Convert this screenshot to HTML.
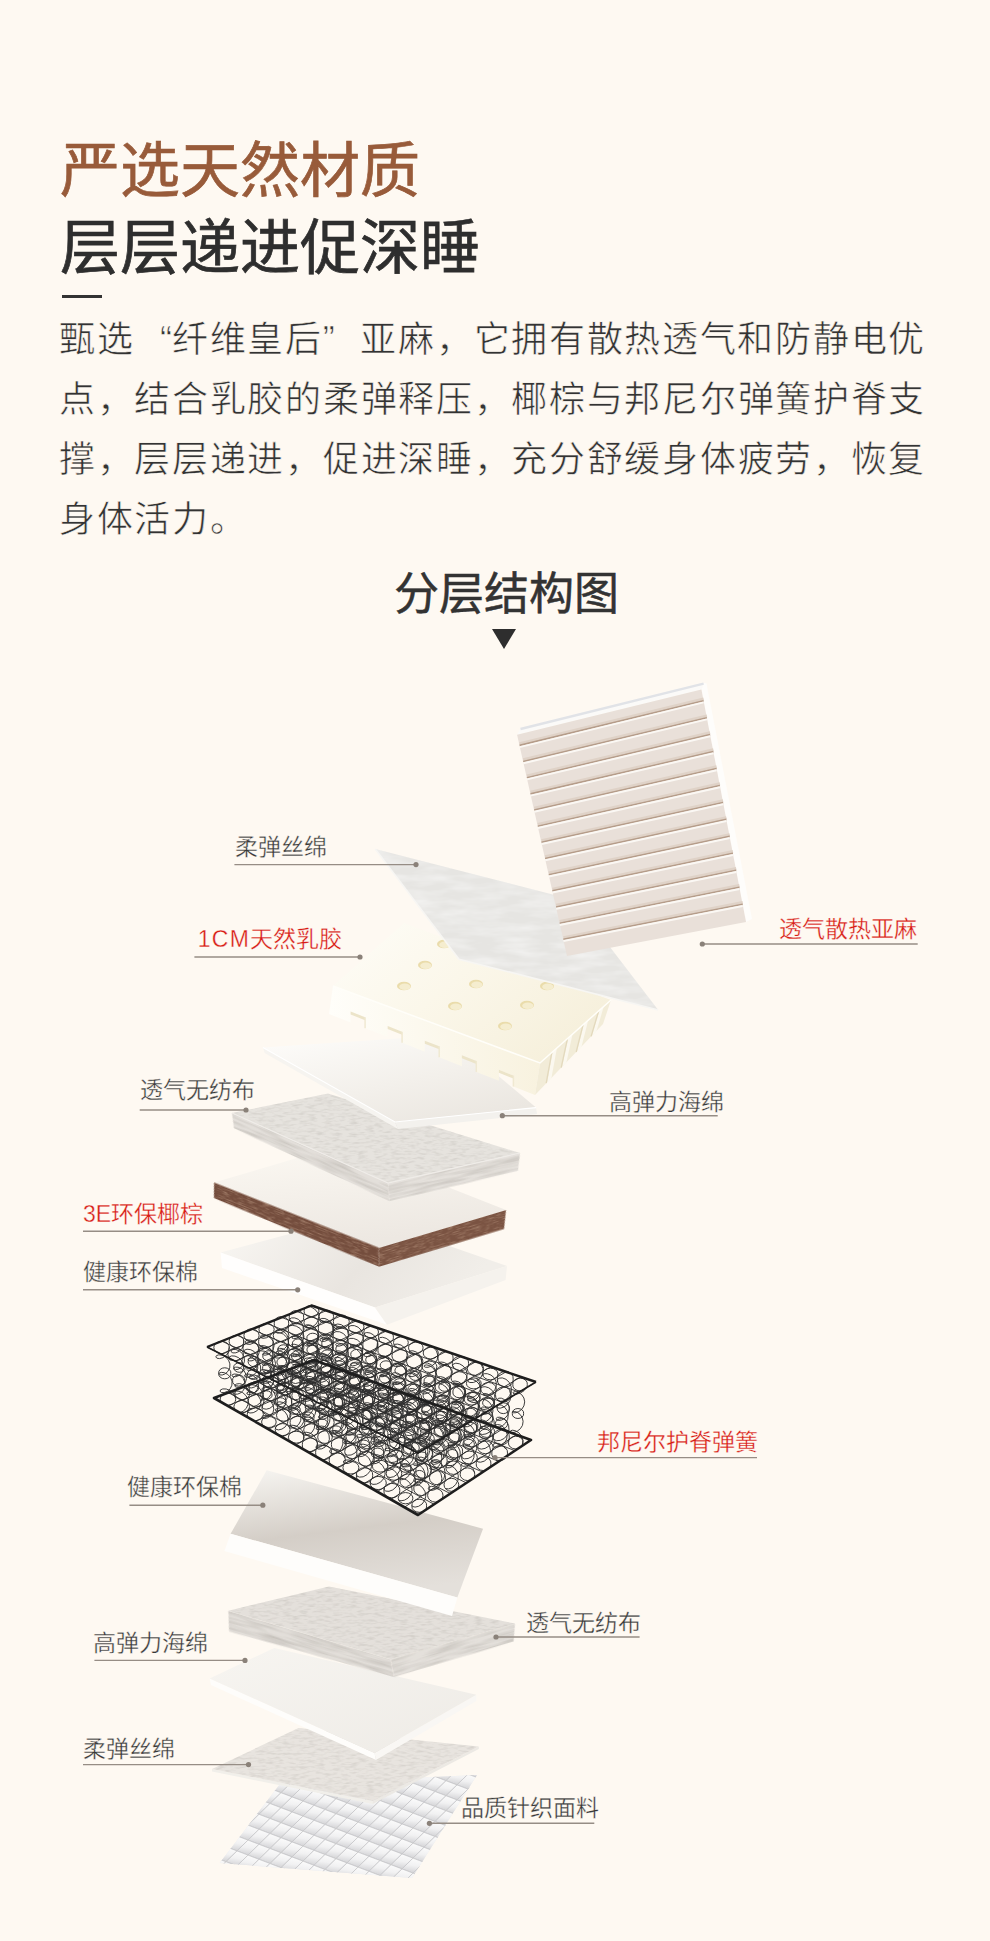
<!DOCTYPE html>
<html lang="zh-CN"><head><meta charset="utf-8">
<style>
html,body{margin:0;padding:0;}
body{width:990px;height:1941px;overflow:hidden;background:#fef9f2;font-family:"Liberation Sans",sans-serif;position:relative;}
.t{position:absolute;white-space:nowrap;line-height:1;}
#h1{left:60px;top:142px;font-size:60px;color:#985b3a;-webkit-text-stroke:0.7px #985b3a;}
#h2{left:60px;top:219px;font-size:60px;color:#2e2e2e;-webkit-text-stroke:0.7px #2e2e2e;}
#dash{position:absolute;left:62px;top:295px;width:40px;height:3px;background:#333;}
.pl{position:absolute;left:59px;font-size:36px;line-height:1;color:#333;letter-spacing:1.7px;white-space:nowrap;-webkit-text-stroke:0.6px #fef9f2;}
.ql{display:inline-block;width:37.6px;text-align:right;letter-spacing:0;}
.qr{display:inline-block;width:37.6px;text-align:left;letter-spacing:0;}
#sub{left:394px;top:572px;font-size:45px;color:#333;-webkit-text-stroke:0.5px #333;}
#tri{position:absolute;left:492px;top:629px;width:0;height:0;border-left:12px solid transparent;border-right:12px solid transparent;border-top:20px solid #2e2e2e;}
.lb{position:absolute;white-space:nowrap;line-height:1;font-size:23px;color:#383838;-webkit-text-stroke:0.35px #fef9f2;}
.red{color:#d81c15;-webkit-text-stroke:0.3px #fef9f2;}
</style></head><body>
<div class="t" id="h1">严选天然材质</div>
<div class="t" id="h2">层层递进促深睡</div>
<div id="dash"></div>
<div class="pl" style="top:322px">甄选<span class="ql">“</span>纤维皇后<span class="qr">”</span>亚麻，它拥有散热透气和防静电优</div>
<div class="pl" style="top:382px">点，结合乳胶的柔弹释压，椰棕与邦尼尔弹簧护脊支</div>
<div class="pl" style="top:442px">撑，层层递进，促进深睡，充分舒缓身体疲劳，恢复</div>
<div class="pl" style="top:502px">身体活力。</div>
<div class="t" id="sub">分层结构图</div>
<div id="tri"></div>
<svg id="dg" width="990" height="1941" viewBox="0 0 990 1941" style="position:absolute;left:0;top:0"><defs><filter id="tx1" x="0%" y="0%" width="100%" height="100%" color-interpolation-filters="sRGB"><feTurbulence type="fractalNoise" baseFrequency="0.04 0.3" numOctaves="3" seed="3" result="n"/><feColorMatrix in="n" type="matrix" values="0 0 0 0 0.55  0 0 0 0 0.53  0 0 0 0 0.5  0.6 0 0 0 -0.25" result="a"/><feComposite in="a" in2="SourceGraphic" operator="in" result="d"/><feMerge><feMergeNode in="SourceGraphic"/><feMergeNode in="d"/></feMerge></filter>
<filter id="tx2" x="0%" y="0%" width="100%" height="100%" color-interpolation-filters="sRGB"><feTurbulence type="fractalNoise" baseFrequency="0.5 0.9" numOctaves="2" seed="5" result="n"/><feColorMatrix in="n" type="matrix" values="0 0 0 0 0.95  0 0 0 0 0.85  0 0 0 0 0.75  0.9 0 0 0 -0.4" result="a"/><feComposite in="a" in2="SourceGraphic" operator="in" result="d"/><feMerge><feMergeNode in="SourceGraphic"/><feMergeNode in="d"/></feMerge></filter>
<filter id="tx3" x="0%" y="0%" width="100%" height="100%" color-interpolation-filters="sRGB"><feTurbulence type="fractalNoise" baseFrequency="0.03 0.12" numOctaves="3" seed="8" result="n"/><feColorMatrix in="n" type="matrix" values="0 0 0 0 1  0 0 0 0 1  0 0 0 0 1  0.8 0 0 0 -0.25" result="a"/><feComposite in="a" in2="SourceGraphic" operator="in" result="d"/><feMerge><feMergeNode in="SourceGraphic"/><feMergeNode in="d"/></feMerge></filter>
<filter id="tx5" x="0%" y="0%" width="100%" height="100%" color-interpolation-filters="sRGB"><feTurbulence type="fractalNoise" baseFrequency="0.12 0.9" numOctaves="2" seed="11" result="n"/><feColorMatrix in="n" type="matrix" values="0 0 0 0 0.85  0 0 0 0 0.72  0 0 0 0 0.62  1.1 0 0 0 -0.5" result="a"/><feComposite in="a" in2="SourceGraphic" operator="in" result="d"/><feMerge><feMergeNode in="SourceGraphic"/><feMergeNode in="d"/></feMerge></filter>
<filter id="tx6" x="0%" y="0%" width="100%" height="100%" color-interpolation-filters="sRGB"><feTurbulence type="fractalNoise" baseFrequency="0.03 0.35" numOctaves="2" seed="12" result="n"/><feColorMatrix in="n" type="matrix" values="0 0 0 0 0.6  0 0 0 0 0.58  0 0 0 0 0.55  0.7 0 0 0 -0.25" result="a"/><feComposite in="a" in2="SourceGraphic" operator="in" result="d"/><feMerge><feMergeNode in="SourceGraphic"/><feMergeNode in="d"/></feMerge></filter>
<filter id="tx4" x="0%" y="0%" width="100%" height="100%" color-interpolation-filters="sRGB"><feTurbulence type="fractalNoise" baseFrequency="0.12 0.45" numOctaves="2" seed="9" result="n"/><feColorMatrix in="n" type="matrix" values="0 0 0 0 0.55  0 0 0 0 0.53  0 0 0 0 0.5  0.45 0 0 0 -0.2" result="a"/><feComposite in="a" in2="SourceGraphic" operator="in" result="d"/><feMerge><feMergeNode in="SourceGraphic"/><feMergeNode in="d"/></feMerge></filter>
<clipPath id="kclip"><polygon points="280.0,1784.0 477.0,1775.0 412.0,1878.0 219.7,1863.0"/></clipPath>
<linearGradient id="gkn" x1="0" y1="0" x2="0" y2="1"><stop offset="0" stop-color="#fafafa"/><stop offset="0.55" stop-color="#e9e9ea"/><stop offset="1" stop-color="#d6d6d8"/></linearGradient>
<linearGradient id="gkd" x1="0.6" y1="0" x2="0.4" y2="1"><stop offset="0" stop-color="#fcfcfc"/><stop offset="0.5" stop-color="#f1f1f2"/><stop offset="1" stop-color="#d2d2d5"/></linearGradient>
<linearGradient id="gsp2" x1="0" y1="0" x2="1" y2="1"><stop offset="0" stop-color="#f7f5f1"/><stop offset="1" stop-color="#eeebe6"/></linearGradient>
<linearGradient id="gc2" x1="0.2" y1="0" x2="0.45" y2="1"><stop offset="0" stop-color="#f4f2ee"/><stop offset="0.5" stop-color="#d4cec7"/><stop offset="1" stop-color="#e4e0db"/></linearGradient>
<linearGradient id="gc1" x1="0" y1="0" x2="1" y2="0.3"><stop offset="0" stop-color="#faf8f4"/><stop offset="0.6" stop-color="#e9e5e0"/><stop offset="1" stop-color="#f1eee9"/></linearGradient>
<linearGradient id="gco" x1="0" y1="0" x2="0.3" y2="1"><stop offset="0" stop-color="#fcf9f3"/><stop offset="1" stop-color="#ede8e2"/></linearGradient>
<linearGradient id="gw1" x1="0" y1="0" x2="0.7" y2="1"><stop offset="0" stop-color="#fefdfb"/><stop offset="0.6" stop-color="#f3f0eb"/><stop offset="1" stop-color="#ebe7e1"/></linearGradient>
<linearGradient id="glx" x1="0" y1="0" x2="1" y2="0.6"><stop offset="0" stop-color="#fefdf8"/><stop offset="0.5" stop-color="#fbf7ea"/><stop offset="1" stop-color="#f6f0dc"/></linearGradient>
<linearGradient id="glxf" x1="0" y1="0" x2="1" y2="0"><stop offset="0" stop-color="#fffefa"/><stop offset="1" stop-color="#f8f2df"/></linearGradient></defs><polygon points="280.0,1784.0 477.0,1775.0 412.0,1878.0 219.7,1863.0" fill="#ececed"/>
<g clip-path="url(#kclip)"><polygon points="149.0,1772.3 160.0,1776.5 149.0,1787.3 138.0,1783.1" fill="url(#gkd)" stroke="#c6c6c9" stroke-width="0.8"/><polygon points="171.0,1765.7 182.0,1769.9 171.0,1780.7 160.0,1776.5" fill="url(#gkd)" stroke="#c6c6c9" stroke-width="0.8"/><polygon points="193.0,1759.1 204.0,1763.3 193.0,1774.1 182.0,1769.9" fill="url(#gkd)" stroke="#c6c6c9" stroke-width="0.8"/><polygon points="215.0,1752.5 226.0,1756.7 215.0,1767.5 204.0,1763.3" fill="url(#gkd)" stroke="#c6c6c9" stroke-width="0.8"/><polygon points="237.0,1745.9 248.0,1750.1 237.0,1760.9 226.0,1756.7" fill="url(#gkd)" stroke="#c6c6c9" stroke-width="0.8"/><polygon points="259.0,1739.3 270.0,1743.5 259.0,1754.3 248.0,1750.1" fill="url(#gkd)" stroke="#c6c6c9" stroke-width="0.8"/><polygon points="281.0,1732.7 292.0,1736.9 281.0,1747.7 270.0,1743.5" fill="url(#gkd)" stroke="#c6c6c9" stroke-width="0.8"/><polygon points="303.0,1726.1 314.0,1730.3 303.0,1741.1 292.0,1736.9" fill="url(#gkd)" stroke="#c6c6c9" stroke-width="0.8"/><polygon points="325.0,1719.5 336.0,1723.7 325.0,1734.5 314.0,1730.3" fill="url(#gkd)" stroke="#c6c6c9" stroke-width="0.8"/><polygon points="347.0,1712.9 358.0,1717.1 347.0,1727.9 336.0,1723.7" fill="url(#gkd)" stroke="#c6c6c9" stroke-width="0.8"/><polygon points="369.0,1706.3 380.0,1710.5 369.0,1721.3 358.0,1717.1" fill="url(#gkd)" stroke="#c6c6c9" stroke-width="0.8"/><polygon points="391.0,1699.7 402.0,1703.9 391.0,1714.7 380.0,1710.5" fill="url(#gkd)" stroke="#c6c6c9" stroke-width="0.8"/><polygon points="413.0,1693.1 424.0,1697.3 413.0,1708.1 402.0,1703.9" fill="url(#gkd)" stroke="#c6c6c9" stroke-width="0.8"/><polygon points="435.0,1686.5 446.0,1690.7 435.0,1701.5 424.0,1697.3" fill="url(#gkd)" stroke="#c6c6c9" stroke-width="0.8"/><polygon points="457.0,1679.9 468.0,1684.1 457.0,1694.9 446.0,1690.7" fill="url(#gkd)" stroke="#c6c6c9" stroke-width="0.8"/><polygon points="479.0,1673.3 490.0,1677.5 479.0,1688.3 468.0,1684.1" fill="url(#gkd)" stroke="#c6c6c9" stroke-width="0.8"/><polygon points="501.0,1666.7 512.0,1670.9 501.0,1681.7 490.0,1677.5" fill="url(#gkd)" stroke="#c6c6c9" stroke-width="0.8"/><polygon points="523.0,1660.1 534.0,1664.3 523.0,1675.1 512.0,1670.9" fill="url(#gkd)" stroke="#c6c6c9" stroke-width="0.8"/><polygon points="545.0,1653.5 556.0,1657.7 545.0,1668.5 534.0,1664.3" fill="url(#gkd)" stroke="#c6c6c9" stroke-width="0.8"/><polygon points="160.0,1776.5 171.0,1780.7 160.0,1791.5 149.0,1787.3" fill="url(#gkd)" stroke="#c6c6c9" stroke-width="0.8"/><polygon points="182.0,1769.9 193.0,1774.1 182.0,1784.9 171.0,1780.7" fill="url(#gkd)" stroke="#c6c6c9" stroke-width="0.8"/><polygon points="204.0,1763.3 215.0,1767.5 204.0,1778.3 193.0,1774.1" fill="url(#gkd)" stroke="#c6c6c9" stroke-width="0.8"/><polygon points="226.0,1756.7 237.0,1760.9 226.0,1771.7 215.0,1767.5" fill="url(#gkd)" stroke="#c6c6c9" stroke-width="0.8"/><polygon points="248.0,1750.1 259.0,1754.3 248.0,1765.1 237.0,1760.9" fill="url(#gkd)" stroke="#c6c6c9" stroke-width="0.8"/><polygon points="270.0,1743.5 281.0,1747.7 270.0,1758.5 259.0,1754.3" fill="url(#gkd)" stroke="#c6c6c9" stroke-width="0.8"/><polygon points="292.0,1736.9 303.0,1741.1 292.0,1751.9 281.0,1747.7" fill="url(#gkd)" stroke="#c6c6c9" stroke-width="0.8"/><polygon points="314.0,1730.3 325.0,1734.5 314.0,1745.3 303.0,1741.1" fill="url(#gkd)" stroke="#c6c6c9" stroke-width="0.8"/><polygon points="336.0,1723.7 347.0,1727.9 336.0,1738.7 325.0,1734.5" fill="url(#gkd)" stroke="#c6c6c9" stroke-width="0.8"/><polygon points="358.0,1717.1 369.0,1721.3 358.0,1732.1 347.0,1727.9" fill="url(#gkd)" stroke="#c6c6c9" stroke-width="0.8"/><polygon points="380.0,1710.5 391.0,1714.7 380.0,1725.5 369.0,1721.3" fill="url(#gkd)" stroke="#c6c6c9" stroke-width="0.8"/><polygon points="402.0,1703.9 413.0,1708.1 402.0,1718.9 391.0,1714.7" fill="url(#gkd)" stroke="#c6c6c9" stroke-width="0.8"/><polygon points="424.0,1697.3 435.0,1701.5 424.0,1712.3 413.0,1708.1" fill="url(#gkd)" stroke="#c6c6c9" stroke-width="0.8"/><polygon points="446.0,1690.7 457.0,1694.9 446.0,1705.7 435.0,1701.5" fill="url(#gkd)" stroke="#c6c6c9" stroke-width="0.8"/><polygon points="468.0,1684.1 479.0,1688.3 468.0,1699.1 457.0,1694.9" fill="url(#gkd)" stroke="#c6c6c9" stroke-width="0.8"/><polygon points="490.0,1677.5 501.0,1681.7 490.0,1692.5 479.0,1688.3" fill="url(#gkd)" stroke="#c6c6c9" stroke-width="0.8"/><polygon points="512.0,1670.9 523.0,1675.1 512.0,1685.9 501.0,1681.7" fill="url(#gkd)" stroke="#c6c6c9" stroke-width="0.8"/><polygon points="534.0,1664.3 545.0,1668.5 534.0,1679.3 523.0,1675.1" fill="url(#gkd)" stroke="#c6c6c9" stroke-width="0.8"/><polygon points="556.0,1657.7 567.0,1661.9 556.0,1672.7 545.0,1668.5" fill="url(#gkd)" stroke="#c6c6c9" stroke-width="0.8"/><polygon points="149.0,1787.3 160.0,1791.5 149.0,1802.3 138.0,1798.1" fill="url(#gkd)" stroke="#c6c6c9" stroke-width="0.8"/><polygon points="171.0,1780.7 182.0,1784.9 171.0,1795.7 160.0,1791.5" fill="url(#gkd)" stroke="#c6c6c9" stroke-width="0.8"/><polygon points="193.0,1774.1 204.0,1778.3 193.0,1789.1 182.0,1784.9" fill="url(#gkd)" stroke="#c6c6c9" stroke-width="0.8"/><polygon points="215.0,1767.5 226.0,1771.7 215.0,1782.5 204.0,1778.3" fill="url(#gkd)" stroke="#c6c6c9" stroke-width="0.8"/><polygon points="237.0,1760.9 248.0,1765.1 237.0,1775.9 226.0,1771.7" fill="url(#gkd)" stroke="#c6c6c9" stroke-width="0.8"/><polygon points="259.0,1754.3 270.0,1758.5 259.0,1769.3 248.0,1765.1" fill="url(#gkd)" stroke="#c6c6c9" stroke-width="0.8"/><polygon points="281.0,1747.7 292.0,1751.9 281.0,1762.7 270.0,1758.5" fill="url(#gkd)" stroke="#c6c6c9" stroke-width="0.8"/><polygon points="303.0,1741.1 314.0,1745.3 303.0,1756.1 292.0,1751.9" fill="url(#gkd)" stroke="#c6c6c9" stroke-width="0.8"/><polygon points="325.0,1734.5 336.0,1738.7 325.0,1749.5 314.0,1745.3" fill="url(#gkd)" stroke="#c6c6c9" stroke-width="0.8"/><polygon points="347.0,1727.9 358.0,1732.1 347.0,1742.9 336.0,1738.7" fill="url(#gkd)" stroke="#c6c6c9" stroke-width="0.8"/><polygon points="369.0,1721.3 380.0,1725.5 369.0,1736.3 358.0,1732.1" fill="url(#gkd)" stroke="#c6c6c9" stroke-width="0.8"/><polygon points="391.0,1714.7 402.0,1718.9 391.0,1729.7 380.0,1725.5" fill="url(#gkd)" stroke="#c6c6c9" stroke-width="0.8"/><polygon points="413.0,1708.1 424.0,1712.3 413.0,1723.1 402.0,1718.9" fill="url(#gkd)" stroke="#c6c6c9" stroke-width="0.8"/><polygon points="435.0,1701.5 446.0,1705.7 435.0,1716.5 424.0,1712.3" fill="url(#gkd)" stroke="#c6c6c9" stroke-width="0.8"/><polygon points="457.0,1694.9 468.0,1699.1 457.0,1709.9 446.0,1705.7" fill="url(#gkd)" stroke="#c6c6c9" stroke-width="0.8"/><polygon points="479.0,1688.3 490.0,1692.5 479.0,1703.3 468.0,1699.1" fill="url(#gkd)" stroke="#c6c6c9" stroke-width="0.8"/><polygon points="501.0,1681.7 512.0,1685.9 501.0,1696.7 490.0,1692.5" fill="url(#gkd)" stroke="#c6c6c9" stroke-width="0.8"/><polygon points="523.0,1675.1 534.0,1679.3 523.0,1690.1 512.0,1685.9" fill="url(#gkd)" stroke="#c6c6c9" stroke-width="0.8"/><polygon points="545.0,1668.5 556.0,1672.7 545.0,1683.5 534.0,1679.3" fill="url(#gkd)" stroke="#c6c6c9" stroke-width="0.8"/><polygon points="160.0,1791.5 171.0,1795.7 160.0,1806.5 149.0,1802.3" fill="url(#gkd)" stroke="#c6c6c9" stroke-width="0.8"/><polygon points="182.0,1784.9 193.0,1789.1 182.0,1799.9 171.0,1795.7" fill="url(#gkd)" stroke="#c6c6c9" stroke-width="0.8"/><polygon points="204.0,1778.3 215.0,1782.5 204.0,1793.3 193.0,1789.1" fill="url(#gkd)" stroke="#c6c6c9" stroke-width="0.8"/><polygon points="226.0,1771.7 237.0,1775.9 226.0,1786.7 215.0,1782.5" fill="url(#gkd)" stroke="#c6c6c9" stroke-width="0.8"/><polygon points="248.0,1765.1 259.0,1769.3 248.0,1780.1 237.0,1775.9" fill="url(#gkd)" stroke="#c6c6c9" stroke-width="0.8"/><polygon points="270.0,1758.5 281.0,1762.7 270.0,1773.5 259.0,1769.3" fill="url(#gkd)" stroke="#c6c6c9" stroke-width="0.8"/><polygon points="292.0,1751.9 303.0,1756.1 292.0,1766.9 281.0,1762.7" fill="url(#gkd)" stroke="#c6c6c9" stroke-width="0.8"/><polygon points="314.0,1745.3 325.0,1749.5 314.0,1760.3 303.0,1756.1" fill="url(#gkd)" stroke="#c6c6c9" stroke-width="0.8"/><polygon points="336.0,1738.7 347.0,1742.9 336.0,1753.7 325.0,1749.5" fill="url(#gkd)" stroke="#c6c6c9" stroke-width="0.8"/><polygon points="358.0,1732.1 369.0,1736.3 358.0,1747.1 347.0,1742.9" fill="url(#gkd)" stroke="#c6c6c9" stroke-width="0.8"/><polygon points="380.0,1725.5 391.0,1729.7 380.0,1740.5 369.0,1736.3" fill="url(#gkd)" stroke="#c6c6c9" stroke-width="0.8"/><polygon points="402.0,1718.9 413.0,1723.1 402.0,1733.9 391.0,1729.7" fill="url(#gkd)" stroke="#c6c6c9" stroke-width="0.8"/><polygon points="424.0,1712.3 435.0,1716.5 424.0,1727.3 413.0,1723.1" fill="url(#gkd)" stroke="#c6c6c9" stroke-width="0.8"/><polygon points="446.0,1705.7 457.0,1709.9 446.0,1720.7 435.0,1716.5" fill="url(#gkd)" stroke="#c6c6c9" stroke-width="0.8"/><polygon points="468.0,1699.1 479.0,1703.3 468.0,1714.1 457.0,1709.9" fill="url(#gkd)" stroke="#c6c6c9" stroke-width="0.8"/><polygon points="490.0,1692.5 501.0,1696.7 490.0,1707.5 479.0,1703.3" fill="url(#gkd)" stroke="#c6c6c9" stroke-width="0.8"/><polygon points="512.0,1685.9 523.0,1690.1 512.0,1700.9 501.0,1696.7" fill="url(#gkd)" stroke="#c6c6c9" stroke-width="0.8"/><polygon points="534.0,1679.3 545.0,1683.5 534.0,1694.3 523.0,1690.1" fill="url(#gkd)" stroke="#c6c6c9" stroke-width="0.8"/><polygon points="556.0,1672.7 567.0,1676.9 556.0,1687.7 545.0,1683.5" fill="url(#gkd)" stroke="#c6c6c9" stroke-width="0.8"/><polygon points="149.0,1802.3 160.0,1806.5 149.0,1817.3 138.0,1813.1" fill="url(#gkd)" stroke="#c6c6c9" stroke-width="0.8"/><polygon points="171.0,1795.7 182.0,1799.9 171.0,1810.7 160.0,1806.5" fill="url(#gkd)" stroke="#c6c6c9" stroke-width="0.8"/><polygon points="193.0,1789.1 204.0,1793.3 193.0,1804.1 182.0,1799.9" fill="url(#gkd)" stroke="#c6c6c9" stroke-width="0.8"/><polygon points="215.0,1782.5 226.0,1786.7 215.0,1797.5 204.0,1793.3" fill="url(#gkd)" stroke="#c6c6c9" stroke-width="0.8"/><polygon points="237.0,1775.9 248.0,1780.1 237.0,1790.9 226.0,1786.7" fill="url(#gkd)" stroke="#c6c6c9" stroke-width="0.8"/><polygon points="259.0,1769.3 270.0,1773.5 259.0,1784.3 248.0,1780.1" fill="url(#gkd)" stroke="#c6c6c9" stroke-width="0.8"/><polygon points="281.0,1762.7 292.0,1766.9 281.0,1777.7 270.0,1773.5" fill="url(#gkd)" stroke="#c6c6c9" stroke-width="0.8"/><polygon points="303.0,1756.1 314.0,1760.3 303.0,1771.1 292.0,1766.9" fill="url(#gkd)" stroke="#c6c6c9" stroke-width="0.8"/><polygon points="325.0,1749.5 336.0,1753.7 325.0,1764.5 314.0,1760.3" fill="url(#gkd)" stroke="#c6c6c9" stroke-width="0.8"/><polygon points="347.0,1742.9 358.0,1747.1 347.0,1757.9 336.0,1753.7" fill="url(#gkd)" stroke="#c6c6c9" stroke-width="0.8"/><polygon points="369.0,1736.3 380.0,1740.5 369.0,1751.3 358.0,1747.1" fill="url(#gkd)" stroke="#c6c6c9" stroke-width="0.8"/><polygon points="391.0,1729.7 402.0,1733.9 391.0,1744.7 380.0,1740.5" fill="url(#gkd)" stroke="#c6c6c9" stroke-width="0.8"/><polygon points="413.0,1723.1 424.0,1727.3 413.0,1738.1 402.0,1733.9" fill="url(#gkd)" stroke="#c6c6c9" stroke-width="0.8"/><polygon points="435.0,1716.5 446.0,1720.7 435.0,1731.5 424.0,1727.3" fill="url(#gkd)" stroke="#c6c6c9" stroke-width="0.8"/><polygon points="457.0,1709.9 468.0,1714.1 457.0,1724.9 446.0,1720.7" fill="url(#gkd)" stroke="#c6c6c9" stroke-width="0.8"/><polygon points="479.0,1703.3 490.0,1707.5 479.0,1718.3 468.0,1714.1" fill="url(#gkd)" stroke="#c6c6c9" stroke-width="0.8"/><polygon points="501.0,1696.7 512.0,1700.9 501.0,1711.7 490.0,1707.5" fill="url(#gkd)" stroke="#c6c6c9" stroke-width="0.8"/><polygon points="523.0,1690.1 534.0,1694.3 523.0,1705.1 512.0,1700.9" fill="url(#gkd)" stroke="#c6c6c9" stroke-width="0.8"/><polygon points="545.0,1683.5 556.0,1687.7 545.0,1698.5 534.0,1694.3" fill="url(#gkd)" stroke="#c6c6c9" stroke-width="0.8"/><polygon points="160.0,1806.5 171.0,1810.7 160.0,1821.5 149.0,1817.3" fill="url(#gkd)" stroke="#c6c6c9" stroke-width="0.8"/><polygon points="182.0,1799.9 193.0,1804.1 182.0,1814.9 171.0,1810.7" fill="url(#gkd)" stroke="#c6c6c9" stroke-width="0.8"/><polygon points="204.0,1793.3 215.0,1797.5 204.0,1808.3 193.0,1804.1" fill="url(#gkd)" stroke="#c6c6c9" stroke-width="0.8"/><polygon points="226.0,1786.7 237.0,1790.9 226.0,1801.7 215.0,1797.5" fill="url(#gkd)" stroke="#c6c6c9" stroke-width="0.8"/><polygon points="248.0,1780.1 259.0,1784.3 248.0,1795.1 237.0,1790.9" fill="url(#gkd)" stroke="#c6c6c9" stroke-width="0.8"/><polygon points="270.0,1773.5 281.0,1777.7 270.0,1788.5 259.0,1784.3" fill="url(#gkd)" stroke="#c6c6c9" stroke-width="0.8"/><polygon points="292.0,1766.9 303.0,1771.1 292.0,1781.9 281.0,1777.7" fill="url(#gkd)" stroke="#c6c6c9" stroke-width="0.8"/><polygon points="314.0,1760.3 325.0,1764.5 314.0,1775.3 303.0,1771.1" fill="url(#gkd)" stroke="#c6c6c9" stroke-width="0.8"/><polygon points="336.0,1753.7 347.0,1757.9 336.0,1768.7 325.0,1764.5" fill="url(#gkd)" stroke="#c6c6c9" stroke-width="0.8"/><polygon points="358.0,1747.1 369.0,1751.3 358.0,1762.1 347.0,1757.9" fill="url(#gkd)" stroke="#c6c6c9" stroke-width="0.8"/><polygon points="380.0,1740.5 391.0,1744.7 380.0,1755.5 369.0,1751.3" fill="url(#gkd)" stroke="#c6c6c9" stroke-width="0.8"/><polygon points="402.0,1733.9 413.0,1738.1 402.0,1748.9 391.0,1744.7" fill="url(#gkd)" stroke="#c6c6c9" stroke-width="0.8"/><polygon points="424.0,1727.3 435.0,1731.5 424.0,1742.3 413.0,1738.1" fill="url(#gkd)" stroke="#c6c6c9" stroke-width="0.8"/><polygon points="446.0,1720.7 457.0,1724.9 446.0,1735.7 435.0,1731.5" fill="url(#gkd)" stroke="#c6c6c9" stroke-width="0.8"/><polygon points="468.0,1714.1 479.0,1718.3 468.0,1729.1 457.0,1724.9" fill="url(#gkd)" stroke="#c6c6c9" stroke-width="0.8"/><polygon points="490.0,1707.5 501.0,1711.7 490.0,1722.5 479.0,1718.3" fill="url(#gkd)" stroke="#c6c6c9" stroke-width="0.8"/><polygon points="512.0,1700.9 523.0,1705.1 512.0,1715.9 501.0,1711.7" fill="url(#gkd)" stroke="#c6c6c9" stroke-width="0.8"/><polygon points="534.0,1694.3 545.0,1698.5 534.0,1709.3 523.0,1705.1" fill="url(#gkd)" stroke="#c6c6c9" stroke-width="0.8"/><polygon points="556.0,1687.7 567.0,1691.9 556.0,1702.7 545.0,1698.5" fill="url(#gkd)" stroke="#c6c6c9" stroke-width="0.8"/><polygon points="149.0,1817.3 160.0,1821.5 149.0,1832.3 138.0,1828.1" fill="url(#gkd)" stroke="#c6c6c9" stroke-width="0.8"/><polygon points="171.0,1810.7 182.0,1814.9 171.0,1825.7 160.0,1821.5" fill="url(#gkd)" stroke="#c6c6c9" stroke-width="0.8"/><polygon points="193.0,1804.1 204.0,1808.3 193.0,1819.1 182.0,1814.9" fill="url(#gkd)" stroke="#c6c6c9" stroke-width="0.8"/><polygon points="215.0,1797.5 226.0,1801.7 215.0,1812.5 204.0,1808.3" fill="url(#gkd)" stroke="#c6c6c9" stroke-width="0.8"/><polygon points="237.0,1790.9 248.0,1795.1 237.0,1805.9 226.0,1801.7" fill="url(#gkd)" stroke="#c6c6c9" stroke-width="0.8"/><polygon points="259.0,1784.3 270.0,1788.5 259.0,1799.3 248.0,1795.1" fill="url(#gkd)" stroke="#c6c6c9" stroke-width="0.8"/><polygon points="281.0,1777.7 292.0,1781.9 281.0,1792.7 270.0,1788.5" fill="url(#gkd)" stroke="#c6c6c9" stroke-width="0.8"/><polygon points="303.0,1771.1 314.0,1775.3 303.0,1786.1 292.0,1781.9" fill="url(#gkd)" stroke="#c6c6c9" stroke-width="0.8"/><polygon points="325.0,1764.5 336.0,1768.7 325.0,1779.5 314.0,1775.3" fill="url(#gkd)" stroke="#c6c6c9" stroke-width="0.8"/><polygon points="347.0,1757.9 358.0,1762.1 347.0,1772.9 336.0,1768.7" fill="url(#gkd)" stroke="#c6c6c9" stroke-width="0.8"/><polygon points="369.0,1751.3 380.0,1755.5 369.0,1766.3 358.0,1762.1" fill="url(#gkd)" stroke="#c6c6c9" stroke-width="0.8"/><polygon points="391.0,1744.7 402.0,1748.9 391.0,1759.7 380.0,1755.5" fill="url(#gkd)" stroke="#c6c6c9" stroke-width="0.8"/><polygon points="413.0,1738.1 424.0,1742.3 413.0,1753.1 402.0,1748.9" fill="url(#gkd)" stroke="#c6c6c9" stroke-width="0.8"/><polygon points="435.0,1731.5 446.0,1735.7 435.0,1746.5 424.0,1742.3" fill="url(#gkd)" stroke="#c6c6c9" stroke-width="0.8"/><polygon points="457.0,1724.9 468.0,1729.1 457.0,1739.9 446.0,1735.7" fill="url(#gkd)" stroke="#c6c6c9" stroke-width="0.8"/><polygon points="479.0,1718.3 490.0,1722.5 479.0,1733.3 468.0,1729.1" fill="url(#gkd)" stroke="#c6c6c9" stroke-width="0.8"/><polygon points="501.0,1711.7 512.0,1715.9 501.0,1726.7 490.0,1722.5" fill="url(#gkd)" stroke="#c6c6c9" stroke-width="0.8"/><polygon points="523.0,1705.1 534.0,1709.3 523.0,1720.1 512.0,1715.9" fill="url(#gkd)" stroke="#c6c6c9" stroke-width="0.8"/><polygon points="545.0,1698.5 556.0,1702.7 545.0,1713.5 534.0,1709.3" fill="url(#gkd)" stroke="#c6c6c9" stroke-width="0.8"/><polygon points="160.0,1821.5 171.0,1825.7 160.0,1836.5 149.0,1832.3" fill="url(#gkd)" stroke="#c6c6c9" stroke-width="0.8"/><polygon points="182.0,1814.9 193.0,1819.1 182.0,1829.9 171.0,1825.7" fill="url(#gkd)" stroke="#c6c6c9" stroke-width="0.8"/><polygon points="204.0,1808.3 215.0,1812.5 204.0,1823.3 193.0,1819.1" fill="url(#gkd)" stroke="#c6c6c9" stroke-width="0.8"/><polygon points="226.0,1801.7 237.0,1805.9 226.0,1816.7 215.0,1812.5" fill="url(#gkd)" stroke="#c6c6c9" stroke-width="0.8"/><polygon points="248.0,1795.1 259.0,1799.3 248.0,1810.1 237.0,1805.9" fill="url(#gkd)" stroke="#c6c6c9" stroke-width="0.8"/><polygon points="270.0,1788.5 281.0,1792.7 270.0,1803.5 259.0,1799.3" fill="url(#gkd)" stroke="#c6c6c9" stroke-width="0.8"/><polygon points="292.0,1781.9 303.0,1786.1 292.0,1796.9 281.0,1792.7" fill="url(#gkd)" stroke="#c6c6c9" stroke-width="0.8"/><polygon points="314.0,1775.3 325.0,1779.5 314.0,1790.3 303.0,1786.1" fill="url(#gkd)" stroke="#c6c6c9" stroke-width="0.8"/><polygon points="336.0,1768.7 347.0,1772.9 336.0,1783.7 325.0,1779.5" fill="url(#gkd)" stroke="#c6c6c9" stroke-width="0.8"/><polygon points="358.0,1762.1 369.0,1766.3 358.0,1777.1 347.0,1772.9" fill="url(#gkd)" stroke="#c6c6c9" stroke-width="0.8"/><polygon points="380.0,1755.5 391.0,1759.7 380.0,1770.5 369.0,1766.3" fill="url(#gkd)" stroke="#c6c6c9" stroke-width="0.8"/><polygon points="402.0,1748.9 413.0,1753.1 402.0,1763.9 391.0,1759.7" fill="url(#gkd)" stroke="#c6c6c9" stroke-width="0.8"/><polygon points="424.0,1742.3 435.0,1746.5 424.0,1757.3 413.0,1753.1" fill="url(#gkd)" stroke="#c6c6c9" stroke-width="0.8"/><polygon points="446.0,1735.7 457.0,1739.9 446.0,1750.7 435.0,1746.5" fill="url(#gkd)" stroke="#c6c6c9" stroke-width="0.8"/><polygon points="468.0,1729.1 479.0,1733.3 468.0,1744.1 457.0,1739.9" fill="url(#gkd)" stroke="#c6c6c9" stroke-width="0.8"/><polygon points="490.0,1722.5 501.0,1726.7 490.0,1737.5 479.0,1733.3" fill="url(#gkd)" stroke="#c6c6c9" stroke-width="0.8"/><polygon points="512.0,1715.9 523.0,1720.1 512.0,1730.9 501.0,1726.7" fill="url(#gkd)" stroke="#c6c6c9" stroke-width="0.8"/><polygon points="534.0,1709.3 545.0,1713.5 534.0,1724.3 523.0,1720.1" fill="url(#gkd)" stroke="#c6c6c9" stroke-width="0.8"/><polygon points="556.0,1702.7 567.0,1706.9 556.0,1717.7 545.0,1713.5" fill="url(#gkd)" stroke="#c6c6c9" stroke-width="0.8"/><polygon points="149.0,1832.3 160.0,1836.5 149.0,1847.3 138.0,1843.1" fill="url(#gkd)" stroke="#c6c6c9" stroke-width="0.8"/><polygon points="171.0,1825.7 182.0,1829.9 171.0,1840.7 160.0,1836.5" fill="url(#gkd)" stroke="#c6c6c9" stroke-width="0.8"/><polygon points="193.0,1819.1 204.0,1823.3 193.0,1834.1 182.0,1829.9" fill="url(#gkd)" stroke="#c6c6c9" stroke-width="0.8"/><polygon points="215.0,1812.5 226.0,1816.7 215.0,1827.5 204.0,1823.3" fill="url(#gkd)" stroke="#c6c6c9" stroke-width="0.8"/><polygon points="237.0,1805.9 248.0,1810.1 237.0,1820.9 226.0,1816.7" fill="url(#gkd)" stroke="#c6c6c9" stroke-width="0.8"/><polygon points="259.0,1799.3 270.0,1803.5 259.0,1814.3 248.0,1810.1" fill="url(#gkd)" stroke="#c6c6c9" stroke-width="0.8"/><polygon points="281.0,1792.7 292.0,1796.9 281.0,1807.7 270.0,1803.5" fill="url(#gkd)" stroke="#c6c6c9" stroke-width="0.8"/><polygon points="303.0,1786.1 314.0,1790.3 303.0,1801.1 292.0,1796.9" fill="url(#gkd)" stroke="#c6c6c9" stroke-width="0.8"/><polygon points="325.0,1779.5 336.0,1783.7 325.0,1794.5 314.0,1790.3" fill="url(#gkd)" stroke="#c6c6c9" stroke-width="0.8"/><polygon points="347.0,1772.9 358.0,1777.1 347.0,1787.9 336.0,1783.7" fill="url(#gkd)" stroke="#c6c6c9" stroke-width="0.8"/><polygon points="369.0,1766.3 380.0,1770.5 369.0,1781.3 358.0,1777.1" fill="url(#gkd)" stroke="#c6c6c9" stroke-width="0.8"/><polygon points="391.0,1759.7 402.0,1763.9 391.0,1774.7 380.0,1770.5" fill="url(#gkd)" stroke="#c6c6c9" stroke-width="0.8"/><polygon points="413.0,1753.1 424.0,1757.3 413.0,1768.1 402.0,1763.9" fill="url(#gkd)" stroke="#c6c6c9" stroke-width="0.8"/><polygon points="435.0,1746.5 446.0,1750.7 435.0,1761.5 424.0,1757.3" fill="url(#gkd)" stroke="#c6c6c9" stroke-width="0.8"/><polygon points="457.0,1739.9 468.0,1744.1 457.0,1754.9 446.0,1750.7" fill="url(#gkd)" stroke="#c6c6c9" stroke-width="0.8"/><polygon points="479.0,1733.3 490.0,1737.5 479.0,1748.3 468.0,1744.1" fill="url(#gkd)" stroke="#c6c6c9" stroke-width="0.8"/><polygon points="501.0,1726.7 512.0,1730.9 501.0,1741.7 490.0,1737.5" fill="url(#gkd)" stroke="#c6c6c9" stroke-width="0.8"/><polygon points="523.0,1720.1 534.0,1724.3 523.0,1735.1 512.0,1730.9" fill="url(#gkd)" stroke="#c6c6c9" stroke-width="0.8"/><polygon points="545.0,1713.5 556.0,1717.7 545.0,1728.5 534.0,1724.3" fill="url(#gkd)" stroke="#c6c6c9" stroke-width="0.8"/><polygon points="160.0,1836.5 171.0,1840.7 160.0,1851.5 149.0,1847.3" fill="url(#gkd)" stroke="#c6c6c9" stroke-width="0.8"/><polygon points="182.0,1829.9 193.0,1834.1 182.0,1844.9 171.0,1840.7" fill="url(#gkd)" stroke="#c6c6c9" stroke-width="0.8"/><polygon points="204.0,1823.3 215.0,1827.5 204.0,1838.3 193.0,1834.1" fill="url(#gkd)" stroke="#c6c6c9" stroke-width="0.8"/><polygon points="226.0,1816.7 237.0,1820.9 226.0,1831.7 215.0,1827.5" fill="url(#gkd)" stroke="#c6c6c9" stroke-width="0.8"/><polygon points="248.0,1810.1 259.0,1814.3 248.0,1825.1 237.0,1820.9" fill="url(#gkd)" stroke="#c6c6c9" stroke-width="0.8"/><polygon points="270.0,1803.5 281.0,1807.7 270.0,1818.5 259.0,1814.3" fill="url(#gkd)" stroke="#c6c6c9" stroke-width="0.8"/><polygon points="292.0,1796.9 303.0,1801.1 292.0,1811.9 281.0,1807.7" fill="url(#gkd)" stroke="#c6c6c9" stroke-width="0.8"/><polygon points="314.0,1790.3 325.0,1794.5 314.0,1805.3 303.0,1801.1" fill="url(#gkd)" stroke="#c6c6c9" stroke-width="0.8"/><polygon points="336.0,1783.7 347.0,1787.9 336.0,1798.7 325.0,1794.5" fill="url(#gkd)" stroke="#c6c6c9" stroke-width="0.8"/><polygon points="358.0,1777.1 369.0,1781.3 358.0,1792.1 347.0,1787.9" fill="url(#gkd)" stroke="#c6c6c9" stroke-width="0.8"/><polygon points="380.0,1770.5 391.0,1774.7 380.0,1785.5 369.0,1781.3" fill="url(#gkd)" stroke="#c6c6c9" stroke-width="0.8"/><polygon points="402.0,1763.9 413.0,1768.1 402.0,1778.9 391.0,1774.7" fill="url(#gkd)" stroke="#c6c6c9" stroke-width="0.8"/><polygon points="424.0,1757.3 435.0,1761.5 424.0,1772.3 413.0,1768.1" fill="url(#gkd)" stroke="#c6c6c9" stroke-width="0.8"/><polygon points="446.0,1750.7 457.0,1754.9 446.0,1765.7 435.0,1761.5" fill="url(#gkd)" stroke="#c6c6c9" stroke-width="0.8"/><polygon points="468.0,1744.1 479.0,1748.3 468.0,1759.1 457.0,1754.9" fill="url(#gkd)" stroke="#c6c6c9" stroke-width="0.8"/><polygon points="490.0,1737.5 501.0,1741.7 490.0,1752.5 479.0,1748.3" fill="url(#gkd)" stroke="#c6c6c9" stroke-width="0.8"/><polygon points="512.0,1730.9 523.0,1735.1 512.0,1745.9 501.0,1741.7" fill="url(#gkd)" stroke="#c6c6c9" stroke-width="0.8"/><polygon points="534.0,1724.3 545.0,1728.5 534.0,1739.3 523.0,1735.1" fill="url(#gkd)" stroke="#c6c6c9" stroke-width="0.8"/><polygon points="556.0,1717.7 567.0,1721.9 556.0,1732.7 545.0,1728.5" fill="url(#gkd)" stroke="#c6c6c9" stroke-width="0.8"/><polygon points="149.0,1847.3 160.0,1851.5 149.0,1862.3 138.0,1858.1" fill="url(#gkd)" stroke="#c6c6c9" stroke-width="0.8"/><polygon points="171.0,1840.7 182.0,1844.9 171.0,1855.7 160.0,1851.5" fill="url(#gkd)" stroke="#c6c6c9" stroke-width="0.8"/><polygon points="193.0,1834.1 204.0,1838.3 193.0,1849.1 182.0,1844.9" fill="url(#gkd)" stroke="#c6c6c9" stroke-width="0.8"/><polygon points="215.0,1827.5 226.0,1831.7 215.0,1842.5 204.0,1838.3" fill="url(#gkd)" stroke="#c6c6c9" stroke-width="0.8"/><polygon points="237.0,1820.9 248.0,1825.1 237.0,1835.9 226.0,1831.7" fill="url(#gkd)" stroke="#c6c6c9" stroke-width="0.8"/><polygon points="259.0,1814.3 270.0,1818.5 259.0,1829.3 248.0,1825.1" fill="url(#gkd)" stroke="#c6c6c9" stroke-width="0.8"/><polygon points="281.0,1807.7 292.0,1811.9 281.0,1822.7 270.0,1818.5" fill="url(#gkd)" stroke="#c6c6c9" stroke-width="0.8"/><polygon points="303.0,1801.1 314.0,1805.3 303.0,1816.1 292.0,1811.9" fill="url(#gkd)" stroke="#c6c6c9" stroke-width="0.8"/><polygon points="325.0,1794.5 336.0,1798.7 325.0,1809.5 314.0,1805.3" fill="url(#gkd)" stroke="#c6c6c9" stroke-width="0.8"/><polygon points="347.0,1787.9 358.0,1792.1 347.0,1802.9 336.0,1798.7" fill="url(#gkd)" stroke="#c6c6c9" stroke-width="0.8"/><polygon points="369.0,1781.3 380.0,1785.5 369.0,1796.3 358.0,1792.1" fill="url(#gkd)" stroke="#c6c6c9" stroke-width="0.8"/><polygon points="391.0,1774.7 402.0,1778.9 391.0,1789.7 380.0,1785.5" fill="url(#gkd)" stroke="#c6c6c9" stroke-width="0.8"/><polygon points="413.0,1768.1 424.0,1772.3 413.0,1783.1 402.0,1778.9" fill="url(#gkd)" stroke="#c6c6c9" stroke-width="0.8"/><polygon points="435.0,1761.5 446.0,1765.7 435.0,1776.5 424.0,1772.3" fill="url(#gkd)" stroke="#c6c6c9" stroke-width="0.8"/><polygon points="457.0,1754.9 468.0,1759.1 457.0,1769.9 446.0,1765.7" fill="url(#gkd)" stroke="#c6c6c9" stroke-width="0.8"/><polygon points="479.0,1748.3 490.0,1752.5 479.0,1763.3 468.0,1759.1" fill="url(#gkd)" stroke="#c6c6c9" stroke-width="0.8"/><polygon points="501.0,1741.7 512.0,1745.9 501.0,1756.7 490.0,1752.5" fill="url(#gkd)" stroke="#c6c6c9" stroke-width="0.8"/><polygon points="523.0,1735.1 534.0,1739.3 523.0,1750.1 512.0,1745.9" fill="url(#gkd)" stroke="#c6c6c9" stroke-width="0.8"/><polygon points="545.0,1728.5 556.0,1732.7 545.0,1743.5 534.0,1739.3" fill="url(#gkd)" stroke="#c6c6c9" stroke-width="0.8"/><polygon points="160.0,1851.5 171.0,1855.7 160.0,1866.5 149.0,1862.3" fill="url(#gkd)" stroke="#c6c6c9" stroke-width="0.8"/><polygon points="182.0,1844.9 193.0,1849.1 182.0,1859.9 171.0,1855.7" fill="url(#gkd)" stroke="#c6c6c9" stroke-width="0.8"/><polygon points="204.0,1838.3 215.0,1842.5 204.0,1853.3 193.0,1849.1" fill="url(#gkd)" stroke="#c6c6c9" stroke-width="0.8"/><polygon points="226.0,1831.7 237.0,1835.9 226.0,1846.7 215.0,1842.5" fill="url(#gkd)" stroke="#c6c6c9" stroke-width="0.8"/><polygon points="248.0,1825.1 259.0,1829.3 248.0,1840.1 237.0,1835.9" fill="url(#gkd)" stroke="#c6c6c9" stroke-width="0.8"/><polygon points="270.0,1818.5 281.0,1822.7 270.0,1833.5 259.0,1829.3" fill="url(#gkd)" stroke="#c6c6c9" stroke-width="0.8"/><polygon points="292.0,1811.9 303.0,1816.1 292.0,1826.9 281.0,1822.7" fill="url(#gkd)" stroke="#c6c6c9" stroke-width="0.8"/><polygon points="314.0,1805.3 325.0,1809.5 314.0,1820.3 303.0,1816.1" fill="url(#gkd)" stroke="#c6c6c9" stroke-width="0.8"/><polygon points="336.0,1798.7 347.0,1802.9 336.0,1813.7 325.0,1809.5" fill="url(#gkd)" stroke="#c6c6c9" stroke-width="0.8"/><polygon points="358.0,1792.1 369.0,1796.3 358.0,1807.1 347.0,1802.9" fill="url(#gkd)" stroke="#c6c6c9" stroke-width="0.8"/><polygon points="380.0,1785.5 391.0,1789.7 380.0,1800.5 369.0,1796.3" fill="url(#gkd)" stroke="#c6c6c9" stroke-width="0.8"/><polygon points="402.0,1778.9 413.0,1783.1 402.0,1793.9 391.0,1789.7" fill="url(#gkd)" stroke="#c6c6c9" stroke-width="0.8"/><polygon points="424.0,1772.3 435.0,1776.5 424.0,1787.3 413.0,1783.1" fill="url(#gkd)" stroke="#c6c6c9" stroke-width="0.8"/><polygon points="446.0,1765.7 457.0,1769.9 446.0,1780.7 435.0,1776.5" fill="url(#gkd)" stroke="#c6c6c9" stroke-width="0.8"/><polygon points="468.0,1759.1 479.0,1763.3 468.0,1774.1 457.0,1769.9" fill="url(#gkd)" stroke="#c6c6c9" stroke-width="0.8"/><polygon points="490.0,1752.5 501.0,1756.7 490.0,1767.5 479.0,1763.3" fill="url(#gkd)" stroke="#c6c6c9" stroke-width="0.8"/><polygon points="512.0,1745.9 523.0,1750.1 512.0,1760.9 501.0,1756.7" fill="url(#gkd)" stroke="#c6c6c9" stroke-width="0.8"/><polygon points="534.0,1739.3 545.0,1743.5 534.0,1754.3 523.0,1750.1" fill="url(#gkd)" stroke="#c6c6c9" stroke-width="0.8"/><polygon points="556.0,1732.7 567.0,1736.9 556.0,1747.7 545.0,1743.5" fill="url(#gkd)" stroke="#c6c6c9" stroke-width="0.8"/><polygon points="149.0,1862.3 160.0,1866.5 149.0,1877.3 138.0,1873.1" fill="url(#gkd)" stroke="#c6c6c9" stroke-width="0.8"/><polygon points="171.0,1855.7 182.0,1859.9 171.0,1870.7 160.0,1866.5" fill="url(#gkd)" stroke="#c6c6c9" stroke-width="0.8"/><polygon points="193.0,1849.1 204.0,1853.3 193.0,1864.1 182.0,1859.9" fill="url(#gkd)" stroke="#c6c6c9" stroke-width="0.8"/><polygon points="215.0,1842.5 226.0,1846.7 215.0,1857.5 204.0,1853.3" fill="url(#gkd)" stroke="#c6c6c9" stroke-width="0.8"/><polygon points="237.0,1835.9 248.0,1840.1 237.0,1850.9 226.0,1846.7" fill="url(#gkd)" stroke="#c6c6c9" stroke-width="0.8"/><polygon points="259.0,1829.3 270.0,1833.5 259.0,1844.3 248.0,1840.1" fill="url(#gkd)" stroke="#c6c6c9" stroke-width="0.8"/><polygon points="281.0,1822.7 292.0,1826.9 281.0,1837.7 270.0,1833.5" fill="url(#gkd)" stroke="#c6c6c9" stroke-width="0.8"/><polygon points="303.0,1816.1 314.0,1820.3 303.0,1831.1 292.0,1826.9" fill="url(#gkd)" stroke="#c6c6c9" stroke-width="0.8"/><polygon points="325.0,1809.5 336.0,1813.7 325.0,1824.5 314.0,1820.3" fill="url(#gkd)" stroke="#c6c6c9" stroke-width="0.8"/><polygon points="347.0,1802.9 358.0,1807.1 347.0,1817.9 336.0,1813.7" fill="url(#gkd)" stroke="#c6c6c9" stroke-width="0.8"/><polygon points="369.0,1796.3 380.0,1800.5 369.0,1811.3 358.0,1807.1" fill="url(#gkd)" stroke="#c6c6c9" stroke-width="0.8"/><polygon points="391.0,1789.7 402.0,1793.9 391.0,1804.7 380.0,1800.5" fill="url(#gkd)" stroke="#c6c6c9" stroke-width="0.8"/><polygon points="413.0,1783.1 424.0,1787.3 413.0,1798.1 402.0,1793.9" fill="url(#gkd)" stroke="#c6c6c9" stroke-width="0.8"/><polygon points="435.0,1776.5 446.0,1780.7 435.0,1791.5 424.0,1787.3" fill="url(#gkd)" stroke="#c6c6c9" stroke-width="0.8"/><polygon points="457.0,1769.9 468.0,1774.1 457.0,1784.9 446.0,1780.7" fill="url(#gkd)" stroke="#c6c6c9" stroke-width="0.8"/><polygon points="479.0,1763.3 490.0,1767.5 479.0,1778.3 468.0,1774.1" fill="url(#gkd)" stroke="#c6c6c9" stroke-width="0.8"/><polygon points="501.0,1756.7 512.0,1760.9 501.0,1771.7 490.0,1767.5" fill="url(#gkd)" stroke="#c6c6c9" stroke-width="0.8"/><polygon points="523.0,1750.1 534.0,1754.3 523.0,1765.1 512.0,1760.9" fill="url(#gkd)" stroke="#c6c6c9" stroke-width="0.8"/><polygon points="545.0,1743.5 556.0,1747.7 545.0,1758.5 534.0,1754.3" fill="url(#gkd)" stroke="#c6c6c9" stroke-width="0.8"/><polygon points="160.0,1866.5 171.0,1870.7 160.0,1881.5 149.0,1877.3" fill="url(#gkd)" stroke="#c6c6c9" stroke-width="0.8"/><polygon points="182.0,1859.9 193.0,1864.1 182.0,1874.9 171.0,1870.7" fill="url(#gkd)" stroke="#c6c6c9" stroke-width="0.8"/><polygon points="204.0,1853.3 215.0,1857.5 204.0,1868.3 193.0,1864.1" fill="url(#gkd)" stroke="#c6c6c9" stroke-width="0.8"/><polygon points="226.0,1846.7 237.0,1850.9 226.0,1861.7 215.0,1857.5" fill="url(#gkd)" stroke="#c6c6c9" stroke-width="0.8"/><polygon points="248.0,1840.1 259.0,1844.3 248.0,1855.1 237.0,1850.9" fill="url(#gkd)" stroke="#c6c6c9" stroke-width="0.8"/><polygon points="270.0,1833.5 281.0,1837.7 270.0,1848.5 259.0,1844.3" fill="url(#gkd)" stroke="#c6c6c9" stroke-width="0.8"/><polygon points="292.0,1826.9 303.0,1831.1 292.0,1841.9 281.0,1837.7" fill="url(#gkd)" stroke="#c6c6c9" stroke-width="0.8"/><polygon points="314.0,1820.3 325.0,1824.5 314.0,1835.3 303.0,1831.1" fill="url(#gkd)" stroke="#c6c6c9" stroke-width="0.8"/><polygon points="336.0,1813.7 347.0,1817.9 336.0,1828.7 325.0,1824.5" fill="url(#gkd)" stroke="#c6c6c9" stroke-width="0.8"/><polygon points="358.0,1807.1 369.0,1811.3 358.0,1822.1 347.0,1817.9" fill="url(#gkd)" stroke="#c6c6c9" stroke-width="0.8"/><polygon points="380.0,1800.5 391.0,1804.7 380.0,1815.5 369.0,1811.3" fill="url(#gkd)" stroke="#c6c6c9" stroke-width="0.8"/><polygon points="402.0,1793.9 413.0,1798.1 402.0,1808.9 391.0,1804.7" fill="url(#gkd)" stroke="#c6c6c9" stroke-width="0.8"/><polygon points="424.0,1787.3 435.0,1791.5 424.0,1802.3 413.0,1798.1" fill="url(#gkd)" stroke="#c6c6c9" stroke-width="0.8"/><polygon points="446.0,1780.7 457.0,1784.9 446.0,1795.7 435.0,1791.5" fill="url(#gkd)" stroke="#c6c6c9" stroke-width="0.8"/><polygon points="468.0,1774.1 479.0,1778.3 468.0,1789.1 457.0,1784.9" fill="url(#gkd)" stroke="#c6c6c9" stroke-width="0.8"/><polygon points="490.0,1767.5 501.0,1771.7 490.0,1782.5 479.0,1778.3" fill="url(#gkd)" stroke="#c6c6c9" stroke-width="0.8"/><polygon points="512.0,1760.9 523.0,1765.1 512.0,1775.9 501.0,1771.7" fill="url(#gkd)" stroke="#c6c6c9" stroke-width="0.8"/><polygon points="534.0,1754.3 545.0,1758.5 534.0,1769.3 523.0,1765.1" fill="url(#gkd)" stroke="#c6c6c9" stroke-width="0.8"/><polygon points="556.0,1747.7 567.0,1751.9 556.0,1762.7 545.0,1758.5" fill="url(#gkd)" stroke="#c6c6c9" stroke-width="0.8"/><polygon points="149.0,1877.3 160.0,1881.5 149.0,1892.3 138.0,1888.1" fill="url(#gkd)" stroke="#c6c6c9" stroke-width="0.8"/><polygon points="171.0,1870.7 182.0,1874.9 171.0,1885.7 160.0,1881.5" fill="url(#gkd)" stroke="#c6c6c9" stroke-width="0.8"/><polygon points="193.0,1864.1 204.0,1868.3 193.0,1879.1 182.0,1874.9" fill="url(#gkd)" stroke="#c6c6c9" stroke-width="0.8"/><polygon points="215.0,1857.5 226.0,1861.7 215.0,1872.5 204.0,1868.3" fill="url(#gkd)" stroke="#c6c6c9" stroke-width="0.8"/><polygon points="237.0,1850.9 248.0,1855.1 237.0,1865.9 226.0,1861.7" fill="url(#gkd)" stroke="#c6c6c9" stroke-width="0.8"/><polygon points="259.0,1844.3 270.0,1848.5 259.0,1859.3 248.0,1855.1" fill="url(#gkd)" stroke="#c6c6c9" stroke-width="0.8"/><polygon points="281.0,1837.7 292.0,1841.9 281.0,1852.7 270.0,1848.5" fill="url(#gkd)" stroke="#c6c6c9" stroke-width="0.8"/><polygon points="303.0,1831.1 314.0,1835.3 303.0,1846.1 292.0,1841.9" fill="url(#gkd)" stroke="#c6c6c9" stroke-width="0.8"/><polygon points="325.0,1824.5 336.0,1828.7 325.0,1839.5 314.0,1835.3" fill="url(#gkd)" stroke="#c6c6c9" stroke-width="0.8"/><polygon points="347.0,1817.9 358.0,1822.1 347.0,1832.9 336.0,1828.7" fill="url(#gkd)" stroke="#c6c6c9" stroke-width="0.8"/><polygon points="369.0,1811.3 380.0,1815.5 369.0,1826.3 358.0,1822.1" fill="url(#gkd)" stroke="#c6c6c9" stroke-width="0.8"/><polygon points="391.0,1804.7 402.0,1808.9 391.0,1819.7 380.0,1815.5" fill="url(#gkd)" stroke="#c6c6c9" stroke-width="0.8"/><polygon points="413.0,1798.1 424.0,1802.3 413.0,1813.1 402.0,1808.9" fill="url(#gkd)" stroke="#c6c6c9" stroke-width="0.8"/><polygon points="435.0,1791.5 446.0,1795.7 435.0,1806.5 424.0,1802.3" fill="url(#gkd)" stroke="#c6c6c9" stroke-width="0.8"/><polygon points="457.0,1784.9 468.0,1789.1 457.0,1799.9 446.0,1795.7" fill="url(#gkd)" stroke="#c6c6c9" stroke-width="0.8"/><polygon points="479.0,1778.3 490.0,1782.5 479.0,1793.3 468.0,1789.1" fill="url(#gkd)" stroke="#c6c6c9" stroke-width="0.8"/><polygon points="501.0,1771.7 512.0,1775.9 501.0,1786.7 490.0,1782.5" fill="url(#gkd)" stroke="#c6c6c9" stroke-width="0.8"/><polygon points="523.0,1765.1 534.0,1769.3 523.0,1780.1 512.0,1775.9" fill="url(#gkd)" stroke="#c6c6c9" stroke-width="0.8"/><polygon points="545.0,1758.5 556.0,1762.7 545.0,1773.5 534.0,1769.3" fill="url(#gkd)" stroke="#c6c6c9" stroke-width="0.8"/><polygon points="160.0,1881.5 171.0,1885.7 160.0,1896.5 149.0,1892.3" fill="url(#gkd)" stroke="#c6c6c9" stroke-width="0.8"/><polygon points="182.0,1874.9 193.0,1879.1 182.0,1889.9 171.0,1885.7" fill="url(#gkd)" stroke="#c6c6c9" stroke-width="0.8"/><polygon points="204.0,1868.3 215.0,1872.5 204.0,1883.3 193.0,1879.1" fill="url(#gkd)" stroke="#c6c6c9" stroke-width="0.8"/><polygon points="226.0,1861.7 237.0,1865.9 226.0,1876.7 215.0,1872.5" fill="url(#gkd)" stroke="#c6c6c9" stroke-width="0.8"/><polygon points="248.0,1855.1 259.0,1859.3 248.0,1870.1 237.0,1865.9" fill="url(#gkd)" stroke="#c6c6c9" stroke-width="0.8"/><polygon points="270.0,1848.5 281.0,1852.7 270.0,1863.5 259.0,1859.3" fill="url(#gkd)" stroke="#c6c6c9" stroke-width="0.8"/><polygon points="292.0,1841.9 303.0,1846.1 292.0,1856.9 281.0,1852.7" fill="url(#gkd)" stroke="#c6c6c9" stroke-width="0.8"/><polygon points="314.0,1835.3 325.0,1839.5 314.0,1850.3 303.0,1846.1" fill="url(#gkd)" stroke="#c6c6c9" stroke-width="0.8"/><polygon points="336.0,1828.7 347.0,1832.9 336.0,1843.7 325.0,1839.5" fill="url(#gkd)" stroke="#c6c6c9" stroke-width="0.8"/><polygon points="358.0,1822.1 369.0,1826.3 358.0,1837.1 347.0,1832.9" fill="url(#gkd)" stroke="#c6c6c9" stroke-width="0.8"/><polygon points="380.0,1815.5 391.0,1819.7 380.0,1830.5 369.0,1826.3" fill="url(#gkd)" stroke="#c6c6c9" stroke-width="0.8"/><polygon points="402.0,1808.9 413.0,1813.1 402.0,1823.9 391.0,1819.7" fill="url(#gkd)" stroke="#c6c6c9" stroke-width="0.8"/><polygon points="424.0,1802.3 435.0,1806.5 424.0,1817.3 413.0,1813.1" fill="url(#gkd)" stroke="#c6c6c9" stroke-width="0.8"/><polygon points="446.0,1795.7 457.0,1799.9 446.0,1810.7 435.0,1806.5" fill="url(#gkd)" stroke="#c6c6c9" stroke-width="0.8"/><polygon points="468.0,1789.1 479.0,1793.3 468.0,1804.1 457.0,1799.9" fill="url(#gkd)" stroke="#c6c6c9" stroke-width="0.8"/><polygon points="490.0,1782.5 501.0,1786.7 490.0,1797.5 479.0,1793.3" fill="url(#gkd)" stroke="#c6c6c9" stroke-width="0.8"/><polygon points="512.0,1775.9 523.0,1780.1 512.0,1790.9 501.0,1786.7" fill="url(#gkd)" stroke="#c6c6c9" stroke-width="0.8"/><polygon points="534.0,1769.3 545.0,1773.5 534.0,1784.3 523.0,1780.1" fill="url(#gkd)" stroke="#c6c6c9" stroke-width="0.8"/><polygon points="556.0,1762.7 567.0,1766.9 556.0,1777.7 545.0,1773.5" fill="url(#gkd)" stroke="#c6c6c9" stroke-width="0.8"/><polygon points="149.0,1892.3 160.0,1896.5 149.0,1907.3 138.0,1903.1" fill="url(#gkd)" stroke="#c6c6c9" stroke-width="0.8"/><polygon points="171.0,1885.7 182.0,1889.9 171.0,1900.7 160.0,1896.5" fill="url(#gkd)" stroke="#c6c6c9" stroke-width="0.8"/><polygon points="193.0,1879.1 204.0,1883.3 193.0,1894.1 182.0,1889.9" fill="url(#gkd)" stroke="#c6c6c9" stroke-width="0.8"/><polygon points="215.0,1872.5 226.0,1876.7 215.0,1887.5 204.0,1883.3" fill="url(#gkd)" stroke="#c6c6c9" stroke-width="0.8"/><polygon points="237.0,1865.9 248.0,1870.1 237.0,1880.9 226.0,1876.7" fill="url(#gkd)" stroke="#c6c6c9" stroke-width="0.8"/><polygon points="259.0,1859.3 270.0,1863.5 259.0,1874.3 248.0,1870.1" fill="url(#gkd)" stroke="#c6c6c9" stroke-width="0.8"/><polygon points="281.0,1852.7 292.0,1856.9 281.0,1867.7 270.0,1863.5" fill="url(#gkd)" stroke="#c6c6c9" stroke-width="0.8"/><polygon points="303.0,1846.1 314.0,1850.3 303.0,1861.1 292.0,1856.9" fill="url(#gkd)" stroke="#c6c6c9" stroke-width="0.8"/><polygon points="325.0,1839.5 336.0,1843.7 325.0,1854.5 314.0,1850.3" fill="url(#gkd)" stroke="#c6c6c9" stroke-width="0.8"/><polygon points="347.0,1832.9 358.0,1837.1 347.0,1847.9 336.0,1843.7" fill="url(#gkd)" stroke="#c6c6c9" stroke-width="0.8"/><polygon points="369.0,1826.3 380.0,1830.5 369.0,1841.3 358.0,1837.1" fill="url(#gkd)" stroke="#c6c6c9" stroke-width="0.8"/><polygon points="391.0,1819.7 402.0,1823.9 391.0,1834.7 380.0,1830.5" fill="url(#gkd)" stroke="#c6c6c9" stroke-width="0.8"/><polygon points="413.0,1813.1 424.0,1817.3 413.0,1828.1 402.0,1823.9" fill="url(#gkd)" stroke="#c6c6c9" stroke-width="0.8"/><polygon points="435.0,1806.5 446.0,1810.7 435.0,1821.5 424.0,1817.3" fill="url(#gkd)" stroke="#c6c6c9" stroke-width="0.8"/><polygon points="457.0,1799.9 468.0,1804.1 457.0,1814.9 446.0,1810.7" fill="url(#gkd)" stroke="#c6c6c9" stroke-width="0.8"/><polygon points="479.0,1793.3 490.0,1797.5 479.0,1808.3 468.0,1804.1" fill="url(#gkd)" stroke="#c6c6c9" stroke-width="0.8"/><polygon points="501.0,1786.7 512.0,1790.9 501.0,1801.7 490.0,1797.5" fill="url(#gkd)" stroke="#c6c6c9" stroke-width="0.8"/><polygon points="523.0,1780.1 534.0,1784.3 523.0,1795.1 512.0,1790.9" fill="url(#gkd)" stroke="#c6c6c9" stroke-width="0.8"/><polygon points="545.0,1773.5 556.0,1777.7 545.0,1788.5 534.0,1784.3" fill="url(#gkd)" stroke="#c6c6c9" stroke-width="0.8"/><polygon points="160.0,1896.5 171.0,1900.7 160.0,1911.5 149.0,1907.3" fill="url(#gkd)" stroke="#c6c6c9" stroke-width="0.8"/><polygon points="182.0,1889.9 193.0,1894.1 182.0,1904.9 171.0,1900.7" fill="url(#gkd)" stroke="#c6c6c9" stroke-width="0.8"/><polygon points="204.0,1883.3 215.0,1887.5 204.0,1898.3 193.0,1894.1" fill="url(#gkd)" stroke="#c6c6c9" stroke-width="0.8"/><polygon points="226.0,1876.7 237.0,1880.9 226.0,1891.7 215.0,1887.5" fill="url(#gkd)" stroke="#c6c6c9" stroke-width="0.8"/><polygon points="248.0,1870.1 259.0,1874.3 248.0,1885.1 237.0,1880.9" fill="url(#gkd)" stroke="#c6c6c9" stroke-width="0.8"/><polygon points="270.0,1863.5 281.0,1867.7 270.0,1878.5 259.0,1874.3" fill="url(#gkd)" stroke="#c6c6c9" stroke-width="0.8"/><polygon points="292.0,1856.9 303.0,1861.1 292.0,1871.9 281.0,1867.7" fill="url(#gkd)" stroke="#c6c6c9" stroke-width="0.8"/><polygon points="314.0,1850.3 325.0,1854.5 314.0,1865.3 303.0,1861.1" fill="url(#gkd)" stroke="#c6c6c9" stroke-width="0.8"/><polygon points="336.0,1843.7 347.0,1847.9 336.0,1858.7 325.0,1854.5" fill="url(#gkd)" stroke="#c6c6c9" stroke-width="0.8"/><polygon points="358.0,1837.1 369.0,1841.3 358.0,1852.1 347.0,1847.9" fill="url(#gkd)" stroke="#c6c6c9" stroke-width="0.8"/><polygon points="380.0,1830.5 391.0,1834.7 380.0,1845.5 369.0,1841.3" fill="url(#gkd)" stroke="#c6c6c9" stroke-width="0.8"/><polygon points="402.0,1823.9 413.0,1828.1 402.0,1838.9 391.0,1834.7" fill="url(#gkd)" stroke="#c6c6c9" stroke-width="0.8"/><polygon points="424.0,1817.3 435.0,1821.5 424.0,1832.3 413.0,1828.1" fill="url(#gkd)" stroke="#c6c6c9" stroke-width="0.8"/><polygon points="446.0,1810.7 457.0,1814.9 446.0,1825.7 435.0,1821.5" fill="url(#gkd)" stroke="#c6c6c9" stroke-width="0.8"/><polygon points="468.0,1804.1 479.0,1808.3 468.0,1819.1 457.0,1814.9" fill="url(#gkd)" stroke="#c6c6c9" stroke-width="0.8"/><polygon points="490.0,1797.5 501.0,1801.7 490.0,1812.5 479.0,1808.3" fill="url(#gkd)" stroke="#c6c6c9" stroke-width="0.8"/><polygon points="512.0,1790.9 523.0,1795.1 512.0,1805.9 501.0,1801.7" fill="url(#gkd)" stroke="#c6c6c9" stroke-width="0.8"/><polygon points="534.0,1784.3 545.0,1788.5 534.0,1799.3 523.0,1795.1" fill="url(#gkd)" stroke="#c6c6c9" stroke-width="0.8"/><polygon points="556.0,1777.7 567.0,1781.9 556.0,1792.7 545.0,1788.5" fill="url(#gkd)" stroke="#c6c6c9" stroke-width="0.8"/><polygon points="149.0,1907.3 160.0,1911.5 149.0,1922.3 138.0,1918.1" fill="url(#gkd)" stroke="#c6c6c9" stroke-width="0.8"/><polygon points="171.0,1900.7 182.0,1904.9 171.0,1915.7 160.0,1911.5" fill="url(#gkd)" stroke="#c6c6c9" stroke-width="0.8"/><polygon points="193.0,1894.1 204.0,1898.3 193.0,1909.1 182.0,1904.9" fill="url(#gkd)" stroke="#c6c6c9" stroke-width="0.8"/><polygon points="215.0,1887.5 226.0,1891.7 215.0,1902.5 204.0,1898.3" fill="url(#gkd)" stroke="#c6c6c9" stroke-width="0.8"/><polygon points="237.0,1880.9 248.0,1885.1 237.0,1895.9 226.0,1891.7" fill="url(#gkd)" stroke="#c6c6c9" stroke-width="0.8"/><polygon points="259.0,1874.3 270.0,1878.5 259.0,1889.3 248.0,1885.1" fill="url(#gkd)" stroke="#c6c6c9" stroke-width="0.8"/><polygon points="281.0,1867.7 292.0,1871.9 281.0,1882.7 270.0,1878.5" fill="url(#gkd)" stroke="#c6c6c9" stroke-width="0.8"/><polygon points="303.0,1861.1 314.0,1865.3 303.0,1876.1 292.0,1871.9" fill="url(#gkd)" stroke="#c6c6c9" stroke-width="0.8"/><polygon points="325.0,1854.5 336.0,1858.7 325.0,1869.5 314.0,1865.3" fill="url(#gkd)" stroke="#c6c6c9" stroke-width="0.8"/><polygon points="347.0,1847.9 358.0,1852.1 347.0,1862.9 336.0,1858.7" fill="url(#gkd)" stroke="#c6c6c9" stroke-width="0.8"/><polygon points="369.0,1841.3 380.0,1845.5 369.0,1856.3 358.0,1852.1" fill="url(#gkd)" stroke="#c6c6c9" stroke-width="0.8"/><polygon points="391.0,1834.7 402.0,1838.9 391.0,1849.7 380.0,1845.5" fill="url(#gkd)" stroke="#c6c6c9" stroke-width="0.8"/><polygon points="413.0,1828.1 424.0,1832.3 413.0,1843.1 402.0,1838.9" fill="url(#gkd)" stroke="#c6c6c9" stroke-width="0.8"/><polygon points="435.0,1821.5 446.0,1825.7 435.0,1836.5 424.0,1832.3" fill="url(#gkd)" stroke="#c6c6c9" stroke-width="0.8"/><polygon points="457.0,1814.9 468.0,1819.1 457.0,1829.9 446.0,1825.7" fill="url(#gkd)" stroke="#c6c6c9" stroke-width="0.8"/><polygon points="479.0,1808.3 490.0,1812.5 479.0,1823.3 468.0,1819.1" fill="url(#gkd)" stroke="#c6c6c9" stroke-width="0.8"/><polygon points="501.0,1801.7 512.0,1805.9 501.0,1816.7 490.0,1812.5" fill="url(#gkd)" stroke="#c6c6c9" stroke-width="0.8"/><polygon points="523.0,1795.1 534.0,1799.3 523.0,1810.1 512.0,1805.9" fill="url(#gkd)" stroke="#c6c6c9" stroke-width="0.8"/><polygon points="545.0,1788.5 556.0,1792.7 545.0,1803.5 534.0,1799.3" fill="url(#gkd)" stroke="#c6c6c9" stroke-width="0.8"/><polygon points="160.0,1911.5 171.0,1915.7 160.0,1926.5 149.0,1922.3" fill="url(#gkd)" stroke="#c6c6c9" stroke-width="0.8"/><polygon points="182.0,1904.9 193.0,1909.1 182.0,1919.9 171.0,1915.7" fill="url(#gkd)" stroke="#c6c6c9" stroke-width="0.8"/><polygon points="204.0,1898.3 215.0,1902.5 204.0,1913.3 193.0,1909.1" fill="url(#gkd)" stroke="#c6c6c9" stroke-width="0.8"/><polygon points="226.0,1891.7 237.0,1895.9 226.0,1906.7 215.0,1902.5" fill="url(#gkd)" stroke="#c6c6c9" stroke-width="0.8"/><polygon points="248.0,1885.1 259.0,1889.3 248.0,1900.1 237.0,1895.9" fill="url(#gkd)" stroke="#c6c6c9" stroke-width="0.8"/><polygon points="270.0,1878.5 281.0,1882.7 270.0,1893.5 259.0,1889.3" fill="url(#gkd)" stroke="#c6c6c9" stroke-width="0.8"/><polygon points="292.0,1871.9 303.0,1876.1 292.0,1886.9 281.0,1882.7" fill="url(#gkd)" stroke="#c6c6c9" stroke-width="0.8"/><polygon points="314.0,1865.3 325.0,1869.5 314.0,1880.3 303.0,1876.1" fill="url(#gkd)" stroke="#c6c6c9" stroke-width="0.8"/><polygon points="336.0,1858.7 347.0,1862.9 336.0,1873.7 325.0,1869.5" fill="url(#gkd)" stroke="#c6c6c9" stroke-width="0.8"/><polygon points="358.0,1852.1 369.0,1856.3 358.0,1867.1 347.0,1862.9" fill="url(#gkd)" stroke="#c6c6c9" stroke-width="0.8"/><polygon points="380.0,1845.5 391.0,1849.7 380.0,1860.5 369.0,1856.3" fill="url(#gkd)" stroke="#c6c6c9" stroke-width="0.8"/><polygon points="402.0,1838.9 413.0,1843.1 402.0,1853.9 391.0,1849.7" fill="url(#gkd)" stroke="#c6c6c9" stroke-width="0.8"/><polygon points="424.0,1832.3 435.0,1836.5 424.0,1847.3 413.0,1843.1" fill="url(#gkd)" stroke="#c6c6c9" stroke-width="0.8"/><polygon points="446.0,1825.7 457.0,1829.9 446.0,1840.7 435.0,1836.5" fill="url(#gkd)" stroke="#c6c6c9" stroke-width="0.8"/><polygon points="468.0,1819.1 479.0,1823.3 468.0,1834.1 457.0,1829.9" fill="url(#gkd)" stroke="#c6c6c9" stroke-width="0.8"/><polygon points="490.0,1812.5 501.0,1816.7 490.0,1827.5 479.0,1823.3" fill="url(#gkd)" stroke="#c6c6c9" stroke-width="0.8"/><polygon points="512.0,1805.9 523.0,1810.1 512.0,1820.9 501.0,1816.7" fill="url(#gkd)" stroke="#c6c6c9" stroke-width="0.8"/><polygon points="534.0,1799.3 545.0,1803.5 534.0,1814.3 523.0,1810.1" fill="url(#gkd)" stroke="#c6c6c9" stroke-width="0.8"/><polygon points="556.0,1792.7 567.0,1796.9 556.0,1807.7 545.0,1803.5" fill="url(#gkd)" stroke="#c6c6c9" stroke-width="0.8"/><polygon points="149.0,1922.3 160.0,1926.5 149.0,1937.3 138.0,1933.1" fill="url(#gkd)" stroke="#c6c6c9" stroke-width="0.8"/><polygon points="171.0,1915.7 182.0,1919.9 171.0,1930.7 160.0,1926.5" fill="url(#gkd)" stroke="#c6c6c9" stroke-width="0.8"/><polygon points="193.0,1909.1 204.0,1913.3 193.0,1924.1 182.0,1919.9" fill="url(#gkd)" stroke="#c6c6c9" stroke-width="0.8"/><polygon points="215.0,1902.5 226.0,1906.7 215.0,1917.5 204.0,1913.3" fill="url(#gkd)" stroke="#c6c6c9" stroke-width="0.8"/><polygon points="237.0,1895.9 248.0,1900.1 237.0,1910.9 226.0,1906.7" fill="url(#gkd)" stroke="#c6c6c9" stroke-width="0.8"/><polygon points="259.0,1889.3 270.0,1893.5 259.0,1904.3 248.0,1900.1" fill="url(#gkd)" stroke="#c6c6c9" stroke-width="0.8"/><polygon points="281.0,1882.7 292.0,1886.9 281.0,1897.7 270.0,1893.5" fill="url(#gkd)" stroke="#c6c6c9" stroke-width="0.8"/><polygon points="303.0,1876.1 314.0,1880.3 303.0,1891.1 292.0,1886.9" fill="url(#gkd)" stroke="#c6c6c9" stroke-width="0.8"/><polygon points="325.0,1869.5 336.0,1873.7 325.0,1884.5 314.0,1880.3" fill="url(#gkd)" stroke="#c6c6c9" stroke-width="0.8"/><polygon points="347.0,1862.9 358.0,1867.1 347.0,1877.9 336.0,1873.7" fill="url(#gkd)" stroke="#c6c6c9" stroke-width="0.8"/><polygon points="369.0,1856.3 380.0,1860.5 369.0,1871.3 358.0,1867.1" fill="url(#gkd)" stroke="#c6c6c9" stroke-width="0.8"/><polygon points="391.0,1849.7 402.0,1853.9 391.0,1864.7 380.0,1860.5" fill="url(#gkd)" stroke="#c6c6c9" stroke-width="0.8"/><polygon points="413.0,1843.1 424.0,1847.3 413.0,1858.1 402.0,1853.9" fill="url(#gkd)" stroke="#c6c6c9" stroke-width="0.8"/><polygon points="435.0,1836.5 446.0,1840.7 435.0,1851.5 424.0,1847.3" fill="url(#gkd)" stroke="#c6c6c9" stroke-width="0.8"/><polygon points="457.0,1829.9 468.0,1834.1 457.0,1844.9 446.0,1840.7" fill="url(#gkd)" stroke="#c6c6c9" stroke-width="0.8"/><polygon points="479.0,1823.3 490.0,1827.5 479.0,1838.3 468.0,1834.1" fill="url(#gkd)" stroke="#c6c6c9" stroke-width="0.8"/><polygon points="501.0,1816.7 512.0,1820.9 501.0,1831.7 490.0,1827.5" fill="url(#gkd)" stroke="#c6c6c9" stroke-width="0.8"/><polygon points="523.0,1810.1 534.0,1814.3 523.0,1825.1 512.0,1820.9" fill="url(#gkd)" stroke="#c6c6c9" stroke-width="0.8"/><polygon points="545.0,1803.5 556.0,1807.7 545.0,1818.5 534.0,1814.3" fill="url(#gkd)" stroke="#c6c6c9" stroke-width="0.8"/><polygon points="160.0,1926.5 171.0,1930.7 160.0,1941.5 149.0,1937.3" fill="url(#gkd)" stroke="#c6c6c9" stroke-width="0.8"/><polygon points="182.0,1919.9 193.0,1924.1 182.0,1934.9 171.0,1930.7" fill="url(#gkd)" stroke="#c6c6c9" stroke-width="0.8"/><polygon points="204.0,1913.3 215.0,1917.5 204.0,1928.3 193.0,1924.1" fill="url(#gkd)" stroke="#c6c6c9" stroke-width="0.8"/><polygon points="226.0,1906.7 237.0,1910.9 226.0,1921.7 215.0,1917.5" fill="url(#gkd)" stroke="#c6c6c9" stroke-width="0.8"/><polygon points="248.0,1900.1 259.0,1904.3 248.0,1915.1 237.0,1910.9" fill="url(#gkd)" stroke="#c6c6c9" stroke-width="0.8"/><polygon points="270.0,1893.5 281.0,1897.7 270.0,1908.5 259.0,1904.3" fill="url(#gkd)" stroke="#c6c6c9" stroke-width="0.8"/><polygon points="292.0,1886.9 303.0,1891.1 292.0,1901.9 281.0,1897.7" fill="url(#gkd)" stroke="#c6c6c9" stroke-width="0.8"/><polygon points="314.0,1880.3 325.0,1884.5 314.0,1895.3 303.0,1891.1" fill="url(#gkd)" stroke="#c6c6c9" stroke-width="0.8"/><polygon points="336.0,1873.7 347.0,1877.9 336.0,1888.7 325.0,1884.5" fill="url(#gkd)" stroke="#c6c6c9" stroke-width="0.8"/><polygon points="358.0,1867.1 369.0,1871.3 358.0,1882.1 347.0,1877.9" fill="url(#gkd)" stroke="#c6c6c9" stroke-width="0.8"/><polygon points="380.0,1860.5 391.0,1864.7 380.0,1875.5 369.0,1871.3" fill="url(#gkd)" stroke="#c6c6c9" stroke-width="0.8"/><polygon points="402.0,1853.9 413.0,1858.1 402.0,1868.9 391.0,1864.7" fill="url(#gkd)" stroke="#c6c6c9" stroke-width="0.8"/><polygon points="424.0,1847.3 435.0,1851.5 424.0,1862.3 413.0,1858.1" fill="url(#gkd)" stroke="#c6c6c9" stroke-width="0.8"/><polygon points="446.0,1840.7 457.0,1844.9 446.0,1855.7 435.0,1851.5" fill="url(#gkd)" stroke="#c6c6c9" stroke-width="0.8"/><polygon points="468.0,1834.1 479.0,1838.3 468.0,1849.1 457.0,1844.9" fill="url(#gkd)" stroke="#c6c6c9" stroke-width="0.8"/><polygon points="490.0,1827.5 501.0,1831.7 490.0,1842.5 479.0,1838.3" fill="url(#gkd)" stroke="#c6c6c9" stroke-width="0.8"/><polygon points="512.0,1820.9 523.0,1825.1 512.0,1835.9 501.0,1831.7" fill="url(#gkd)" stroke="#c6c6c9" stroke-width="0.8"/><polygon points="534.0,1814.3 545.0,1818.5 534.0,1829.3 523.0,1825.1" fill="url(#gkd)" stroke="#c6c6c9" stroke-width="0.8"/><polygon points="556.0,1807.7 567.0,1811.9 556.0,1822.7 545.0,1818.5" fill="url(#gkd)" stroke="#c6c6c9" stroke-width="0.8"/><polygon points="149.0,1937.3 160.0,1941.5 149.0,1952.3 138.0,1948.1" fill="url(#gkd)" stroke="#c6c6c9" stroke-width="0.8"/><polygon points="171.0,1930.7 182.0,1934.9 171.0,1945.7 160.0,1941.5" fill="url(#gkd)" stroke="#c6c6c9" stroke-width="0.8"/><polygon points="193.0,1924.1 204.0,1928.3 193.0,1939.1 182.0,1934.9" fill="url(#gkd)" stroke="#c6c6c9" stroke-width="0.8"/><polygon points="215.0,1917.5 226.0,1921.7 215.0,1932.5 204.0,1928.3" fill="url(#gkd)" stroke="#c6c6c9" stroke-width="0.8"/><polygon points="237.0,1910.9 248.0,1915.1 237.0,1925.9 226.0,1921.7" fill="url(#gkd)" stroke="#c6c6c9" stroke-width="0.8"/><polygon points="259.0,1904.3 270.0,1908.5 259.0,1919.3 248.0,1915.1" fill="url(#gkd)" stroke="#c6c6c9" stroke-width="0.8"/><polygon points="281.0,1897.7 292.0,1901.9 281.0,1912.7 270.0,1908.5" fill="url(#gkd)" stroke="#c6c6c9" stroke-width="0.8"/><polygon points="303.0,1891.1 314.0,1895.3 303.0,1906.1 292.0,1901.9" fill="url(#gkd)" stroke="#c6c6c9" stroke-width="0.8"/><polygon points="325.0,1884.5 336.0,1888.7 325.0,1899.5 314.0,1895.3" fill="url(#gkd)" stroke="#c6c6c9" stroke-width="0.8"/><polygon points="347.0,1877.9 358.0,1882.1 347.0,1892.9 336.0,1888.7" fill="url(#gkd)" stroke="#c6c6c9" stroke-width="0.8"/><polygon points="369.0,1871.3 380.0,1875.5 369.0,1886.3 358.0,1882.1" fill="url(#gkd)" stroke="#c6c6c9" stroke-width="0.8"/><polygon points="391.0,1864.7 402.0,1868.9 391.0,1879.7 380.0,1875.5" fill="url(#gkd)" stroke="#c6c6c9" stroke-width="0.8"/><polygon points="413.0,1858.1 424.0,1862.3 413.0,1873.1 402.0,1868.9" fill="url(#gkd)" stroke="#c6c6c9" stroke-width="0.8"/><polygon points="435.0,1851.5 446.0,1855.7 435.0,1866.5 424.0,1862.3" fill="url(#gkd)" stroke="#c6c6c9" stroke-width="0.8"/><polygon points="457.0,1844.9 468.0,1849.1 457.0,1859.9 446.0,1855.7" fill="url(#gkd)" stroke="#c6c6c9" stroke-width="0.8"/><polygon points="479.0,1838.3 490.0,1842.5 479.0,1853.3 468.0,1849.1" fill="url(#gkd)" stroke="#c6c6c9" stroke-width="0.8"/><polygon points="501.0,1831.7 512.0,1835.9 501.0,1846.7 490.0,1842.5" fill="url(#gkd)" stroke="#c6c6c9" stroke-width="0.8"/><polygon points="523.0,1825.1 534.0,1829.3 523.0,1840.1 512.0,1835.9" fill="url(#gkd)" stroke="#c6c6c9" stroke-width="0.8"/><polygon points="545.0,1818.5 556.0,1822.7 545.0,1833.5 534.0,1829.3" fill="url(#gkd)" stroke="#c6c6c9" stroke-width="0.8"/><polygon points="160.0,1941.5 171.0,1945.7 160.0,1956.5 149.0,1952.3" fill="url(#gkd)" stroke="#c6c6c9" stroke-width="0.8"/><polygon points="182.0,1934.9 193.0,1939.1 182.0,1949.9 171.0,1945.7" fill="url(#gkd)" stroke="#c6c6c9" stroke-width="0.8"/><polygon points="204.0,1928.3 215.0,1932.5 204.0,1943.3 193.0,1939.1" fill="url(#gkd)" stroke="#c6c6c9" stroke-width="0.8"/><polygon points="226.0,1921.7 237.0,1925.9 226.0,1936.7 215.0,1932.5" fill="url(#gkd)" stroke="#c6c6c9" stroke-width="0.8"/><polygon points="248.0,1915.1 259.0,1919.3 248.0,1930.1 237.0,1925.9" fill="url(#gkd)" stroke="#c6c6c9" stroke-width="0.8"/><polygon points="270.0,1908.5 281.0,1912.7 270.0,1923.5 259.0,1919.3" fill="url(#gkd)" stroke="#c6c6c9" stroke-width="0.8"/><polygon points="292.0,1901.9 303.0,1906.1 292.0,1916.9 281.0,1912.7" fill="url(#gkd)" stroke="#c6c6c9" stroke-width="0.8"/><polygon points="314.0,1895.3 325.0,1899.5 314.0,1910.3 303.0,1906.1" fill="url(#gkd)" stroke="#c6c6c9" stroke-width="0.8"/><polygon points="336.0,1888.7 347.0,1892.9 336.0,1903.7 325.0,1899.5" fill="url(#gkd)" stroke="#c6c6c9" stroke-width="0.8"/><polygon points="358.0,1882.1 369.0,1886.3 358.0,1897.1 347.0,1892.9" fill="url(#gkd)" stroke="#c6c6c9" stroke-width="0.8"/><polygon points="380.0,1875.5 391.0,1879.7 380.0,1890.5 369.0,1886.3" fill="url(#gkd)" stroke="#c6c6c9" stroke-width="0.8"/><polygon points="402.0,1868.9 413.0,1873.1 402.0,1883.9 391.0,1879.7" fill="url(#gkd)" stroke="#c6c6c9" stroke-width="0.8"/><polygon points="424.0,1862.3 435.0,1866.5 424.0,1877.3 413.0,1873.1" fill="url(#gkd)" stroke="#c6c6c9" stroke-width="0.8"/><polygon points="446.0,1855.7 457.0,1859.9 446.0,1870.7 435.0,1866.5" fill="url(#gkd)" stroke="#c6c6c9" stroke-width="0.8"/><polygon points="468.0,1849.1 479.0,1853.3 468.0,1864.1 457.0,1859.9" fill="url(#gkd)" stroke="#c6c6c9" stroke-width="0.8"/><polygon points="490.0,1842.5 501.0,1846.7 490.0,1857.5 479.0,1853.3" fill="url(#gkd)" stroke="#c6c6c9" stroke-width="0.8"/><polygon points="512.0,1835.9 523.0,1840.1 512.0,1850.9 501.0,1846.7" fill="url(#gkd)" stroke="#c6c6c9" stroke-width="0.8"/><polygon points="534.0,1829.3 545.0,1833.5 534.0,1844.3 523.0,1840.1" fill="url(#gkd)" stroke="#c6c6c9" stroke-width="0.8"/><polygon points="556.0,1822.7 567.0,1826.9 556.0,1837.7 545.0,1833.5" fill="url(#gkd)" stroke="#c6c6c9" stroke-width="0.8"/><polygon points="149.0,1952.3 160.0,1956.5 149.0,1967.3 138.0,1963.1" fill="url(#gkd)" stroke="#c6c6c9" stroke-width="0.8"/><polygon points="171.0,1945.7 182.0,1949.9 171.0,1960.7 160.0,1956.5" fill="url(#gkd)" stroke="#c6c6c9" stroke-width="0.8"/><polygon points="193.0,1939.1 204.0,1943.3 193.0,1954.1 182.0,1949.9" fill="url(#gkd)" stroke="#c6c6c9" stroke-width="0.8"/><polygon points="215.0,1932.5 226.0,1936.7 215.0,1947.5 204.0,1943.3" fill="url(#gkd)" stroke="#c6c6c9" stroke-width="0.8"/><polygon points="237.0,1925.9 248.0,1930.1 237.0,1940.9 226.0,1936.7" fill="url(#gkd)" stroke="#c6c6c9" stroke-width="0.8"/><polygon points="259.0,1919.3 270.0,1923.5 259.0,1934.3 248.0,1930.1" fill="url(#gkd)" stroke="#c6c6c9" stroke-width="0.8"/><polygon points="281.0,1912.7 292.0,1916.9 281.0,1927.7 270.0,1923.5" fill="url(#gkd)" stroke="#c6c6c9" stroke-width="0.8"/><polygon points="303.0,1906.1 314.0,1910.3 303.0,1921.1 292.0,1916.9" fill="url(#gkd)" stroke="#c6c6c9" stroke-width="0.8"/><polygon points="325.0,1899.5 336.0,1903.7 325.0,1914.5 314.0,1910.3" fill="url(#gkd)" stroke="#c6c6c9" stroke-width="0.8"/><polygon points="347.0,1892.9 358.0,1897.1 347.0,1907.9 336.0,1903.7" fill="url(#gkd)" stroke="#c6c6c9" stroke-width="0.8"/><polygon points="369.0,1886.3 380.0,1890.5 369.0,1901.3 358.0,1897.1" fill="url(#gkd)" stroke="#c6c6c9" stroke-width="0.8"/><polygon points="391.0,1879.7 402.0,1883.9 391.0,1894.7 380.0,1890.5" fill="url(#gkd)" stroke="#c6c6c9" stroke-width="0.8"/><polygon points="413.0,1873.1 424.0,1877.3 413.0,1888.1 402.0,1883.9" fill="url(#gkd)" stroke="#c6c6c9" stroke-width="0.8"/><polygon points="435.0,1866.5 446.0,1870.7 435.0,1881.5 424.0,1877.3" fill="url(#gkd)" stroke="#c6c6c9" stroke-width="0.8"/><polygon points="457.0,1859.9 468.0,1864.1 457.0,1874.9 446.0,1870.7" fill="url(#gkd)" stroke="#c6c6c9" stroke-width="0.8"/><polygon points="479.0,1853.3 490.0,1857.5 479.0,1868.3 468.0,1864.1" fill="url(#gkd)" stroke="#c6c6c9" stroke-width="0.8"/><polygon points="501.0,1846.7 512.0,1850.9 501.0,1861.7 490.0,1857.5" fill="url(#gkd)" stroke="#c6c6c9" stroke-width="0.8"/><polygon points="523.0,1840.1 534.0,1844.3 523.0,1855.1 512.0,1850.9" fill="url(#gkd)" stroke="#c6c6c9" stroke-width="0.8"/><polygon points="545.0,1833.5 556.0,1837.7 545.0,1848.5 534.0,1844.3" fill="url(#gkd)" stroke="#c6c6c9" stroke-width="0.8"/><polygon points="160.0,1956.5 171.0,1960.7 160.0,1971.5 149.0,1967.3" fill="url(#gkd)" stroke="#c6c6c9" stroke-width="0.8"/><polygon points="182.0,1949.9 193.0,1954.1 182.0,1964.9 171.0,1960.7" fill="url(#gkd)" stroke="#c6c6c9" stroke-width="0.8"/><polygon points="204.0,1943.3 215.0,1947.5 204.0,1958.3 193.0,1954.1" fill="url(#gkd)" stroke="#c6c6c9" stroke-width="0.8"/><polygon points="226.0,1936.7 237.0,1940.9 226.0,1951.7 215.0,1947.5" fill="url(#gkd)" stroke="#c6c6c9" stroke-width="0.8"/><polygon points="248.0,1930.1 259.0,1934.3 248.0,1945.1 237.0,1940.9" fill="url(#gkd)" stroke="#c6c6c9" stroke-width="0.8"/><polygon points="270.0,1923.5 281.0,1927.7 270.0,1938.5 259.0,1934.3" fill="url(#gkd)" stroke="#c6c6c9" stroke-width="0.8"/><polygon points="292.0,1916.9 303.0,1921.1 292.0,1931.9 281.0,1927.7" fill="url(#gkd)" stroke="#c6c6c9" stroke-width="0.8"/><polygon points="314.0,1910.3 325.0,1914.5 314.0,1925.3 303.0,1921.1" fill="url(#gkd)" stroke="#c6c6c9" stroke-width="0.8"/><polygon points="336.0,1903.7 347.0,1907.9 336.0,1918.7 325.0,1914.5" fill="url(#gkd)" stroke="#c6c6c9" stroke-width="0.8"/><polygon points="358.0,1897.1 369.0,1901.3 358.0,1912.1 347.0,1907.9" fill="url(#gkd)" stroke="#c6c6c9" stroke-width="0.8"/><polygon points="380.0,1890.5 391.0,1894.7 380.0,1905.5 369.0,1901.3" fill="url(#gkd)" stroke="#c6c6c9" stroke-width="0.8"/><polygon points="402.0,1883.9 413.0,1888.1 402.0,1898.9 391.0,1894.7" fill="url(#gkd)" stroke="#c6c6c9" stroke-width="0.8"/><polygon points="424.0,1877.3 435.0,1881.5 424.0,1892.3 413.0,1888.1" fill="url(#gkd)" stroke="#c6c6c9" stroke-width="0.8"/><polygon points="446.0,1870.7 457.0,1874.9 446.0,1885.7 435.0,1881.5" fill="url(#gkd)" stroke="#c6c6c9" stroke-width="0.8"/><polygon points="468.0,1864.1 479.0,1868.3 468.0,1879.1 457.0,1874.9" fill="url(#gkd)" stroke="#c6c6c9" stroke-width="0.8"/><polygon points="490.0,1857.5 501.0,1861.7 490.0,1872.5 479.0,1868.3" fill="url(#gkd)" stroke="#c6c6c9" stroke-width="0.8"/><polygon points="512.0,1850.9 523.0,1855.1 512.0,1865.9 501.0,1861.7" fill="url(#gkd)" stroke="#c6c6c9" stroke-width="0.8"/><polygon points="534.0,1844.3 545.0,1848.5 534.0,1859.3 523.0,1855.1" fill="url(#gkd)" stroke="#c6c6c9" stroke-width="0.8"/><polygon points="556.0,1837.7 567.0,1841.9 556.0,1852.7 545.0,1848.5" fill="url(#gkd)" stroke="#c6c6c9" stroke-width="0.8"/><polygon points="149.0,1967.3 160.0,1971.5 149.0,1982.3 138.0,1978.1" fill="url(#gkd)" stroke="#c6c6c9" stroke-width="0.8"/><polygon points="171.0,1960.7 182.0,1964.9 171.0,1975.7 160.0,1971.5" fill="url(#gkd)" stroke="#c6c6c9" stroke-width="0.8"/><polygon points="193.0,1954.1 204.0,1958.3 193.0,1969.1 182.0,1964.9" fill="url(#gkd)" stroke="#c6c6c9" stroke-width="0.8"/><polygon points="215.0,1947.5 226.0,1951.7 215.0,1962.5 204.0,1958.3" fill="url(#gkd)" stroke="#c6c6c9" stroke-width="0.8"/><polygon points="237.0,1940.9 248.0,1945.1 237.0,1955.9 226.0,1951.7" fill="url(#gkd)" stroke="#c6c6c9" stroke-width="0.8"/><polygon points="259.0,1934.3 270.0,1938.5 259.0,1949.3 248.0,1945.1" fill="url(#gkd)" stroke="#c6c6c9" stroke-width="0.8"/><polygon points="281.0,1927.7 292.0,1931.9 281.0,1942.7 270.0,1938.5" fill="url(#gkd)" stroke="#c6c6c9" stroke-width="0.8"/><polygon points="303.0,1921.1 314.0,1925.3 303.0,1936.1 292.0,1931.9" fill="url(#gkd)" stroke="#c6c6c9" stroke-width="0.8"/><polygon points="325.0,1914.5 336.0,1918.7 325.0,1929.5 314.0,1925.3" fill="url(#gkd)" stroke="#c6c6c9" stroke-width="0.8"/><polygon points="347.0,1907.9 358.0,1912.1 347.0,1922.9 336.0,1918.7" fill="url(#gkd)" stroke="#c6c6c9" stroke-width="0.8"/><polygon points="369.0,1901.3 380.0,1905.5 369.0,1916.3 358.0,1912.1" fill="url(#gkd)" stroke="#c6c6c9" stroke-width="0.8"/><polygon points="391.0,1894.7 402.0,1898.9 391.0,1909.7 380.0,1905.5" fill="url(#gkd)" stroke="#c6c6c9" stroke-width="0.8"/><polygon points="413.0,1888.1 424.0,1892.3 413.0,1903.1 402.0,1898.9" fill="url(#gkd)" stroke="#c6c6c9" stroke-width="0.8"/><polygon points="435.0,1881.5 446.0,1885.7 435.0,1896.5 424.0,1892.3" fill="url(#gkd)" stroke="#c6c6c9" stroke-width="0.8"/><polygon points="457.0,1874.9 468.0,1879.1 457.0,1889.9 446.0,1885.7" fill="url(#gkd)" stroke="#c6c6c9" stroke-width="0.8"/><polygon points="479.0,1868.3 490.0,1872.5 479.0,1883.3 468.0,1879.1" fill="url(#gkd)" stroke="#c6c6c9" stroke-width="0.8"/><polygon points="501.0,1861.7 512.0,1865.9 501.0,1876.7 490.0,1872.5" fill="url(#gkd)" stroke="#c6c6c9" stroke-width="0.8"/><polygon points="523.0,1855.1 534.0,1859.3 523.0,1870.1 512.0,1865.9" fill="url(#gkd)" stroke="#c6c6c9" stroke-width="0.8"/><polygon points="545.0,1848.5 556.0,1852.7 545.0,1863.5 534.0,1859.3" fill="url(#gkd)" stroke="#c6c6c9" stroke-width="0.8"/><polygon points="160.0,1971.5 171.0,1975.7 160.0,1986.5 149.0,1982.3" fill="url(#gkd)" stroke="#c6c6c9" stroke-width="0.8"/><polygon points="182.0,1964.9 193.0,1969.1 182.0,1979.9 171.0,1975.7" fill="url(#gkd)" stroke="#c6c6c9" stroke-width="0.8"/><polygon points="204.0,1958.3 215.0,1962.5 204.0,1973.3 193.0,1969.1" fill="url(#gkd)" stroke="#c6c6c9" stroke-width="0.8"/><polygon points="226.0,1951.7 237.0,1955.9 226.0,1966.7 215.0,1962.5" fill="url(#gkd)" stroke="#c6c6c9" stroke-width="0.8"/><polygon points="248.0,1945.1 259.0,1949.3 248.0,1960.1 237.0,1955.9" fill="url(#gkd)" stroke="#c6c6c9" stroke-width="0.8"/><polygon points="270.0,1938.5 281.0,1942.7 270.0,1953.5 259.0,1949.3" fill="url(#gkd)" stroke="#c6c6c9" stroke-width="0.8"/><polygon points="292.0,1931.9 303.0,1936.1 292.0,1946.9 281.0,1942.7" fill="url(#gkd)" stroke="#c6c6c9" stroke-width="0.8"/><polygon points="314.0,1925.3 325.0,1929.5 314.0,1940.3 303.0,1936.1" fill="url(#gkd)" stroke="#c6c6c9" stroke-width="0.8"/><polygon points="336.0,1918.7 347.0,1922.9 336.0,1933.7 325.0,1929.5" fill="url(#gkd)" stroke="#c6c6c9" stroke-width="0.8"/><polygon points="358.0,1912.1 369.0,1916.3 358.0,1927.1 347.0,1922.9" fill="url(#gkd)" stroke="#c6c6c9" stroke-width="0.8"/><polygon points="380.0,1905.5 391.0,1909.7 380.0,1920.5 369.0,1916.3" fill="url(#gkd)" stroke="#c6c6c9" stroke-width="0.8"/><polygon points="402.0,1898.9 413.0,1903.1 402.0,1913.9 391.0,1909.7" fill="url(#gkd)" stroke="#c6c6c9" stroke-width="0.8"/><polygon points="424.0,1892.3 435.0,1896.5 424.0,1907.3 413.0,1903.1" fill="url(#gkd)" stroke="#c6c6c9" stroke-width="0.8"/><polygon points="446.0,1885.7 457.0,1889.9 446.0,1900.7 435.0,1896.5" fill="url(#gkd)" stroke="#c6c6c9" stroke-width="0.8"/><polygon points="468.0,1879.1 479.0,1883.3 468.0,1894.1 457.0,1889.9" fill="url(#gkd)" stroke="#c6c6c9" stroke-width="0.8"/><polygon points="490.0,1872.5 501.0,1876.7 490.0,1887.5 479.0,1883.3" fill="url(#gkd)" stroke="#c6c6c9" stroke-width="0.8"/><polygon points="512.0,1865.9 523.0,1870.1 512.0,1880.9 501.0,1876.7" fill="url(#gkd)" stroke="#c6c6c9" stroke-width="0.8"/><polygon points="534.0,1859.3 545.0,1863.5 534.0,1874.3 523.0,1870.1" fill="url(#gkd)" stroke="#c6c6c9" stroke-width="0.8"/><polygon points="556.0,1852.7 567.0,1856.9 556.0,1867.7 545.0,1863.5" fill="url(#gkd)" stroke="#c6c6c9" stroke-width="0.8"/><polygon points="149.0,1982.3 160.0,1986.5 149.0,1997.3 138.0,1993.1" fill="url(#gkd)" stroke="#c6c6c9" stroke-width="0.8"/><polygon points="171.0,1975.7 182.0,1979.9 171.0,1990.7 160.0,1986.5" fill="url(#gkd)" stroke="#c6c6c9" stroke-width="0.8"/><polygon points="193.0,1969.1 204.0,1973.3 193.0,1984.1 182.0,1979.9" fill="url(#gkd)" stroke="#c6c6c9" stroke-width="0.8"/><polygon points="215.0,1962.5 226.0,1966.7 215.0,1977.5 204.0,1973.3" fill="url(#gkd)" stroke="#c6c6c9" stroke-width="0.8"/><polygon points="237.0,1955.9 248.0,1960.1 237.0,1970.9 226.0,1966.7" fill="url(#gkd)" stroke="#c6c6c9" stroke-width="0.8"/><polygon points="259.0,1949.3 270.0,1953.5 259.0,1964.3 248.0,1960.1" fill="url(#gkd)" stroke="#c6c6c9" stroke-width="0.8"/><polygon points="281.0,1942.7 292.0,1946.9 281.0,1957.7 270.0,1953.5" fill="url(#gkd)" stroke="#c6c6c9" stroke-width="0.8"/><polygon points="303.0,1936.1 314.0,1940.3 303.0,1951.1 292.0,1946.9" fill="url(#gkd)" stroke="#c6c6c9" stroke-width="0.8"/><polygon points="325.0,1929.5 336.0,1933.7 325.0,1944.5 314.0,1940.3" fill="url(#gkd)" stroke="#c6c6c9" stroke-width="0.8"/><polygon points="347.0,1922.9 358.0,1927.1 347.0,1937.9 336.0,1933.7" fill="url(#gkd)" stroke="#c6c6c9" stroke-width="0.8"/><polygon points="369.0,1916.3 380.0,1920.5 369.0,1931.3 358.0,1927.1" fill="url(#gkd)" stroke="#c6c6c9" stroke-width="0.8"/><polygon points="391.0,1909.7 402.0,1913.9 391.0,1924.7 380.0,1920.5" fill="url(#gkd)" stroke="#c6c6c9" stroke-width="0.8"/><polygon points="413.0,1903.1 424.0,1907.3 413.0,1918.1 402.0,1913.9" fill="url(#gkd)" stroke="#c6c6c9" stroke-width="0.8"/><polygon points="435.0,1896.5 446.0,1900.7 435.0,1911.5 424.0,1907.3" fill="url(#gkd)" stroke="#c6c6c9" stroke-width="0.8"/><polygon points="457.0,1889.9 468.0,1894.1 457.0,1904.9 446.0,1900.7" fill="url(#gkd)" stroke="#c6c6c9" stroke-width="0.8"/><polygon points="479.0,1883.3 490.0,1887.5 479.0,1898.3 468.0,1894.1" fill="url(#gkd)" stroke="#c6c6c9" stroke-width="0.8"/><polygon points="501.0,1876.7 512.0,1880.9 501.0,1891.7 490.0,1887.5" fill="url(#gkd)" stroke="#c6c6c9" stroke-width="0.8"/><polygon points="523.0,1870.1 534.0,1874.3 523.0,1885.1 512.0,1880.9" fill="url(#gkd)" stroke="#c6c6c9" stroke-width="0.8"/><polygon points="545.0,1863.5 556.0,1867.7 545.0,1878.5 534.0,1874.3" fill="url(#gkd)" stroke="#c6c6c9" stroke-width="0.8"/><polygon points="160.0,1986.5 171.0,1990.7 160.0,2001.5 149.0,1997.3" fill="url(#gkd)" stroke="#c6c6c9" stroke-width="0.8"/><polygon points="182.0,1979.9 193.0,1984.1 182.0,1994.9 171.0,1990.7" fill="url(#gkd)" stroke="#c6c6c9" stroke-width="0.8"/><polygon points="204.0,1973.3 215.0,1977.5 204.0,1988.3 193.0,1984.1" fill="url(#gkd)" stroke="#c6c6c9" stroke-width="0.8"/><polygon points="226.0,1966.7 237.0,1970.9 226.0,1981.7 215.0,1977.5" fill="url(#gkd)" stroke="#c6c6c9" stroke-width="0.8"/><polygon points="248.0,1960.1 259.0,1964.3 248.0,1975.1 237.0,1970.9" fill="url(#gkd)" stroke="#c6c6c9" stroke-width="0.8"/><polygon points="270.0,1953.5 281.0,1957.7 270.0,1968.5 259.0,1964.3" fill="url(#gkd)" stroke="#c6c6c9" stroke-width="0.8"/><polygon points="292.0,1946.9 303.0,1951.1 292.0,1961.9 281.0,1957.7" fill="url(#gkd)" stroke="#c6c6c9" stroke-width="0.8"/><polygon points="314.0,1940.3 325.0,1944.5 314.0,1955.3 303.0,1951.1" fill="url(#gkd)" stroke="#c6c6c9" stroke-width="0.8"/><polygon points="336.0,1933.7 347.0,1937.9 336.0,1948.7 325.0,1944.5" fill="url(#gkd)" stroke="#c6c6c9" stroke-width="0.8"/><polygon points="358.0,1927.1 369.0,1931.3 358.0,1942.1 347.0,1937.9" fill="url(#gkd)" stroke="#c6c6c9" stroke-width="0.8"/><polygon points="380.0,1920.5 391.0,1924.7 380.0,1935.5 369.0,1931.3" fill="url(#gkd)" stroke="#c6c6c9" stroke-width="0.8"/><polygon points="402.0,1913.9 413.0,1918.1 402.0,1928.9 391.0,1924.7" fill="url(#gkd)" stroke="#c6c6c9" stroke-width="0.8"/><polygon points="424.0,1907.3 435.0,1911.5 424.0,1922.3 413.0,1918.1" fill="url(#gkd)" stroke="#c6c6c9" stroke-width="0.8"/><polygon points="446.0,1900.7 457.0,1904.9 446.0,1915.7 435.0,1911.5" fill="url(#gkd)" stroke="#c6c6c9" stroke-width="0.8"/><polygon points="468.0,1894.1 479.0,1898.3 468.0,1909.1 457.0,1904.9" fill="url(#gkd)" stroke="#c6c6c9" stroke-width="0.8"/><polygon points="490.0,1887.5 501.0,1891.7 490.0,1902.5 479.0,1898.3" fill="url(#gkd)" stroke="#c6c6c9" stroke-width="0.8"/><polygon points="512.0,1880.9 523.0,1885.1 512.0,1895.9 501.0,1891.7" fill="url(#gkd)" stroke="#c6c6c9" stroke-width="0.8"/><polygon points="534.0,1874.3 545.0,1878.5 534.0,1889.3 523.0,1885.1" fill="url(#gkd)" stroke="#c6c6c9" stroke-width="0.8"/><polygon points="556.0,1867.7 567.0,1871.9 556.0,1882.7 545.0,1878.5" fill="url(#gkd)" stroke="#c6c6c9" stroke-width="0.8"/><polygon points="149.0,1997.3 160.0,2001.5 149.0,2012.3 138.0,2008.1" fill="url(#gkd)" stroke="#c6c6c9" stroke-width="0.8"/><polygon points="171.0,1990.7 182.0,1994.9 171.0,2005.7 160.0,2001.5" fill="url(#gkd)" stroke="#c6c6c9" stroke-width="0.8"/><polygon points="193.0,1984.1 204.0,1988.3 193.0,1999.1 182.0,1994.9" fill="url(#gkd)" stroke="#c6c6c9" stroke-width="0.8"/><polygon points="215.0,1977.5 226.0,1981.7 215.0,1992.5 204.0,1988.3" fill="url(#gkd)" stroke="#c6c6c9" stroke-width="0.8"/><polygon points="237.0,1970.9 248.0,1975.1 237.0,1985.9 226.0,1981.7" fill="url(#gkd)" stroke="#c6c6c9" stroke-width="0.8"/><polygon points="259.0,1964.3 270.0,1968.5 259.0,1979.3 248.0,1975.1" fill="url(#gkd)" stroke="#c6c6c9" stroke-width="0.8"/><polygon points="281.0,1957.7 292.0,1961.9 281.0,1972.7 270.0,1968.5" fill="url(#gkd)" stroke="#c6c6c9" stroke-width="0.8"/><polygon points="303.0,1951.1 314.0,1955.3 303.0,1966.1 292.0,1961.9" fill="url(#gkd)" stroke="#c6c6c9" stroke-width="0.8"/><polygon points="325.0,1944.5 336.0,1948.7 325.0,1959.5 314.0,1955.3" fill="url(#gkd)" stroke="#c6c6c9" stroke-width="0.8"/><polygon points="347.0,1937.9 358.0,1942.1 347.0,1952.9 336.0,1948.7" fill="url(#gkd)" stroke="#c6c6c9" stroke-width="0.8"/><polygon points="369.0,1931.3 380.0,1935.5 369.0,1946.3 358.0,1942.1" fill="url(#gkd)" stroke="#c6c6c9" stroke-width="0.8"/><polygon points="391.0,1924.7 402.0,1928.9 391.0,1939.7 380.0,1935.5" fill="url(#gkd)" stroke="#c6c6c9" stroke-width="0.8"/><polygon points="413.0,1918.1 424.0,1922.3 413.0,1933.1 402.0,1928.9" fill="url(#gkd)" stroke="#c6c6c9" stroke-width="0.8"/><polygon points="435.0,1911.5 446.0,1915.7 435.0,1926.5 424.0,1922.3" fill="url(#gkd)" stroke="#c6c6c9" stroke-width="0.8"/><polygon points="457.0,1904.9 468.0,1909.1 457.0,1919.9 446.0,1915.7" fill="url(#gkd)" stroke="#c6c6c9" stroke-width="0.8"/><polygon points="479.0,1898.3 490.0,1902.5 479.0,1913.3 468.0,1909.1" fill="url(#gkd)" stroke="#c6c6c9" stroke-width="0.8"/><polygon points="501.0,1891.7 512.0,1895.9 501.0,1906.7 490.0,1902.5" fill="url(#gkd)" stroke="#c6c6c9" stroke-width="0.8"/><polygon points="523.0,1885.1 534.0,1889.3 523.0,1900.1 512.0,1895.9" fill="url(#gkd)" stroke="#c6c6c9" stroke-width="0.8"/><polygon points="545.0,1878.5 556.0,1882.7 545.0,1893.5 534.0,1889.3" fill="url(#gkd)" stroke="#c6c6c9" stroke-width="0.8"/><polygon points="160.0,2001.5 171.0,2005.7 160.0,2016.5 149.0,2012.3" fill="url(#gkd)" stroke="#c6c6c9" stroke-width="0.8"/><polygon points="182.0,1994.9 193.0,1999.1 182.0,2009.9 171.0,2005.7" fill="url(#gkd)" stroke="#c6c6c9" stroke-width="0.8"/><polygon points="204.0,1988.3 215.0,1992.5 204.0,2003.3 193.0,1999.1" fill="url(#gkd)" stroke="#c6c6c9" stroke-width="0.8"/><polygon points="226.0,1981.7 237.0,1985.9 226.0,1996.7 215.0,1992.5" fill="url(#gkd)" stroke="#c6c6c9" stroke-width="0.8"/><polygon points="248.0,1975.1 259.0,1979.3 248.0,1990.1 237.0,1985.9" fill="url(#gkd)" stroke="#c6c6c9" stroke-width="0.8"/><polygon points="270.0,1968.5 281.0,1972.7 270.0,1983.5 259.0,1979.3" fill="url(#gkd)" stroke="#c6c6c9" stroke-width="0.8"/><polygon points="292.0,1961.9 303.0,1966.1 292.0,1976.9 281.0,1972.7" fill="url(#gkd)" stroke="#c6c6c9" stroke-width="0.8"/><polygon points="314.0,1955.3 325.0,1959.5 314.0,1970.3 303.0,1966.1" fill="url(#gkd)" stroke="#c6c6c9" stroke-width="0.8"/><polygon points="336.0,1948.7 347.0,1952.9 336.0,1963.7 325.0,1959.5" fill="url(#gkd)" stroke="#c6c6c9" stroke-width="0.8"/><polygon points="358.0,1942.1 369.0,1946.3 358.0,1957.1 347.0,1952.9" fill="url(#gkd)" stroke="#c6c6c9" stroke-width="0.8"/><polygon points="380.0,1935.5 391.0,1939.7 380.0,1950.5 369.0,1946.3" fill="url(#gkd)" stroke="#c6c6c9" stroke-width="0.8"/><polygon points="402.0,1928.9 413.0,1933.1 402.0,1943.9 391.0,1939.7" fill="url(#gkd)" stroke="#c6c6c9" stroke-width="0.8"/><polygon points="424.0,1922.3 435.0,1926.5 424.0,1937.3 413.0,1933.1" fill="url(#gkd)" stroke="#c6c6c9" stroke-width="0.8"/><polygon points="446.0,1915.7 457.0,1919.9 446.0,1930.7 435.0,1926.5" fill="url(#gkd)" stroke="#c6c6c9" stroke-width="0.8"/><polygon points="468.0,1909.1 479.0,1913.3 468.0,1924.1 457.0,1919.9" fill="url(#gkd)" stroke="#c6c6c9" stroke-width="0.8"/><polygon points="490.0,1902.5 501.0,1906.7 490.0,1917.5 479.0,1913.3" fill="url(#gkd)" stroke="#c6c6c9" stroke-width="0.8"/><polygon points="512.0,1895.9 523.0,1900.1 512.0,1910.9 501.0,1906.7" fill="url(#gkd)" stroke="#c6c6c9" stroke-width="0.8"/><polygon points="534.0,1889.3 545.0,1893.5 534.0,1904.3 523.0,1900.1" fill="url(#gkd)" stroke="#c6c6c9" stroke-width="0.8"/><polygon points="556.0,1882.7 567.0,1886.9 556.0,1897.7 545.0,1893.5" fill="url(#gkd)" stroke="#c6c6c9" stroke-width="0.8"/></g>
<polygon points="212.0,1769.0 372.7,1801.0 372.7,1804.0 212.0,1771.5" fill="#f1efea"/>
<polygon points="372.7,1801.0 478.8,1746.4 478.8,1749.0 372.7,1804.0" fill="#ece9e4"/>
<polygon points="298.5,1728.0 478.8,1746.4 372.7,1801.0 212.0,1769.0" fill="#e8e4df" filter="url(#tx4)"/>
<polygon points="209.7,1678.6 374.5,1753.0 376.0,1760.0 211.0,1685.0" fill="#fefdfb"/>
<polygon points="374.5,1753.0 476.3,1694.7 476.3,1701.0 376.0,1760.0" fill="#f9f7f4"/>
<polygon points="274.3,1647.9 476.3,1694.7 374.5,1753.0 209.7,1678.6" fill="url(#gsp2)"/>
<g transform="rotate(16.64 228.4 1610.7)"><polygon points="228.4,1610.7 397.8,1610.7 406.0,1626.8 235.0,1630.6" fill="#e2ded9" filter="url(#tx6)" /></g>
<g transform="rotate(-15.98 390.7 1659.2)"><polygon points="390.7,1659.2 520.0,1659.2 513.7,1675.9 389.0,1677.2" fill="#e4e0db" filter="url(#tx6)" /></g>
<polygon points="228.4,1610.7 329.0,1586.5 515.0,1623.6 390.7,1659.2" fill="#e4e0db" filter="url(#tx4)"/>
<polygon points="266.7,1470.3 483.0,1528.7 457.3,1597.4 230.6,1533.8" fill="url(#gc2)"/>
<polygon points="230.6,1533.8 457.3,1597.4 452.0,1616.0 224.4,1551.0" fill="#fefdfb"/>
<path fill="none" stroke="#303030" stroke-width="0.95" d="M304.0 1311.1a7.5 5.8 0 1 0 15.0 0a7.5 5.8 0 1 0 -15.0 0 M306.5 1365.5a7.5 5.8 0 1 0 15.0 0a7.5 5.8 0 1 0 -15.0 0 M306.9 1338.3a5.9 4.5 0 1 0 11.7 0a5.9 4.5 0 1 0 -11.7 0 M289.2 1317.2a7.3 6.0 0 1 0 14.5 0a7.3 6.0 0 1 0 -14.5 0 M292.4 1371.1a7.3 6.0 0 1 0 14.5 0a7.3 6.0 0 1 0 -14.5 0 M292.4 1344.1a5.7 4.6 0 1 0 11.3 0a5.7 4.6 0 1 0 -11.3 0 M274.2 1323.2a7.3 5.9 0 1 0 14.5 0a7.3 5.9 0 1 0 -14.5 0 M278.1 1376.7a7.3 5.9 0 1 0 14.5 0a7.3 5.9 0 1 0 -14.5 0 M277.8 1350.0a5.7 4.6 0 1 0 11.3 0a5.7 4.6 0 1 0 -11.3 0 M258.9 1329.3a7.6 5.8 0 1 0 15.3 0a7.6 5.8 0 1 0 -15.3 0 M263.4 1382.3a7.6 5.8 0 1 0 15.3 0a7.6 5.8 0 1 0 -15.3 0 M262.8 1355.8a6.0 4.5 0 1 0 11.9 0a6.0 4.5 0 1 0 -11.9 0 M243.9 1335.4a7.6 6.5 0 1 0 15.2 0a7.6 6.5 0 1 0 -15.2 0 M249.0 1387.9a7.6 6.5 0 1 0 15.2 0a7.6 6.5 0 1 0 -15.2 0 M248.1 1361.6a5.9 5.1 0 1 0 11.9 0a5.9 5.1 0 1 0 -11.9 0 M229.1 1341.4a7.4 6.2 0 1 0 14.8 0a7.4 6.2 0 1 0 -14.8 0 M234.9 1393.5a7.4 6.2 0 1 0 14.8 0a7.4 6.2 0 1 0 -14.8 0 M233.6 1367.5a5.8 4.8 0 1 0 11.6 0a5.8 4.8 0 1 0 -11.6 0 M213.8 1347.5a7.8 6.2 0 1 0 15.6 0a7.8 6.2 0 1 0 -15.6 0 M220.2 1399.1a7.8 6.2 0 1 0 15.6 0a7.8 6.2 0 1 0 -15.6 0 M218.7 1373.3a6.1 4.9 0 1 0 12.1 0a6.1 4.9 0 1 0 -12.1 0 M319.1 1316.3a7.2 6.2 0 1 0 14.5 0a7.2 6.2 0 1 0 -14.5 0 M321.2 1371.0a7.2 6.2 0 1 0 14.5 0a7.2 6.2 0 1 0 -14.5 0 M321.8 1343.7a5.7 4.9 0 1 0 11.3 0a5.7 4.9 0 1 0 -11.3 0 M303.9 1322.7a7.3 5.6 0 1 0 14.7 0a7.3 5.6 0 1 0 -14.7 0 M306.6 1376.9a7.3 5.6 0 1 0 14.7 0a7.3 5.6 0 1 0 -14.7 0 M306.9 1349.8a5.7 4.4 0 1 0 11.5 0a5.7 4.4 0 1 0 -11.5 0 M288.1 1329.0a8.0 6.2 0 1 0 16.0 0a8.0 6.2 0 1 0 -16.0 0 M291.5 1382.9a8.0 6.2 0 1 0 16.0 0a8.0 6.2 0 1 0 -16.0 0 M291.6 1356.0a6.3 4.8 0 1 0 12.5 0a6.3 4.8 0 1 0 -12.5 0 M273.2 1335.4a7.8 6.3 0 1 0 15.7 0a7.8 6.3 0 1 0 -15.7 0 M277.2 1388.8a7.8 6.3 0 1 0 15.7 0a7.8 6.3 0 1 0 -15.7 0 M276.9 1362.1a6.1 4.9 0 1 0 12.2 0a6.1 4.9 0 1 0 -12.2 0 M258.6 1341.7a7.3 5.5 0 1 0 14.5 0a7.3 5.5 0 1 0 -14.5 0 M263.3 1394.8a7.3 5.5 0 1 0 14.5 0a7.3 5.5 0 1 0 -14.5 0 M262.6 1368.3a5.7 4.3 0 1 0 11.3 0a5.7 4.3 0 1 0 -11.3 0 M242.9 1348.1a7.9 6.3 0 1 0 15.8 0a7.9 6.3 0 1 0 -15.8 0 M248.2 1400.8a7.9 6.3 0 1 0 15.8 0a7.9 6.3 0 1 0 -15.8 0 M247.3 1374.4a6.1 5.0 0 1 0 12.3 0a6.1 5.0 0 1 0 -12.3 0 M227.9 1354.4a7.8 6.3 0 1 0 15.6 0a7.8 6.3 0 1 0 -15.6 0 M233.9 1406.7a7.8 6.3 0 1 0 15.6 0a7.8 6.3 0 1 0 -15.6 0 M232.6 1380.6a6.1 4.9 0 1 0 12.1 0a6.1 4.9 0 1 0 -12.1 0 M333.3 1321.6a8.0 6.7 0 1 0 16.0 0a8.0 6.7 0 1 0 -16.0 0 M334.9 1376.5a8.0 6.7 0 1 0 16.0 0a8.0 6.7 0 1 0 -16.0 0 M335.8 1349.0a6.2 5.2 0 1 0 12.5 0a6.2 5.2 0 1 0 -12.5 0 M318.3 1328.2a7.8 6.4 0 1 0 15.5 0a7.8 6.4 0 1 0 -15.5 0 M320.5 1382.8a7.8 6.4 0 1 0 15.5 0a7.8 6.4 0 1 0 -15.5 0 M321.1 1355.5a6.1 5.0 0 1 0 12.1 0a6.1 5.0 0 1 0 -12.1 0 M302.9 1334.8a7.9 6.2 0 1 0 15.9 0a7.9 6.2 0 1 0 -15.9 0 M305.7 1389.1a7.9 6.2 0 1 0 15.9 0a7.9 6.2 0 1 0 -15.9 0 M306.1 1362.0a6.2 4.9 0 1 0 12.4 0a6.2 4.9 0 1 0 -12.4 0 M288.2 1341.5a7.3 5.9 0 1 0 14.6 0a7.3 5.9 0 1 0 -14.6 0 M291.8 1395.4a7.3 5.9 0 1 0 14.6 0a7.3 5.9 0 1 0 -14.6 0 M291.6 1368.4a5.7 4.6 0 1 0 11.4 0a5.7 4.6 0 1 0 -11.4 0 M272.9 1348.1a7.4 6.0 0 1 0 14.7 0a7.4 6.0 0 1 0 -14.7 0 M277.1 1401.7a7.4 6.0 0 1 0 14.7 0a7.4 6.0 0 1 0 -14.7 0 M276.7 1374.9a5.7 4.7 0 1 0 11.5 0a5.7 4.7 0 1 0 -11.5 0 M257.2 1354.7a7.9 6.7 0 1 0 15.7 0a7.9 6.7 0 1 0 -15.7 0 M262.0 1408.0a7.9 6.7 0 1 0 15.7 0a7.9 6.7 0 1 0 -15.7 0 M261.3 1381.4a6.1 5.2 0 1 0 12.3 0a6.1 5.2 0 1 0 -12.3 0 M241.7 1361.4a8.1 6.4 0 1 0 16.2 0a8.1 6.4 0 1 0 -16.2 0 M247.2 1414.3a8.1 6.4 0 1 0 16.2 0a8.1 6.4 0 1 0 -16.2 0 M246.2 1387.8a6.3 5.0 0 1 0 12.6 0a6.3 5.0 0 1 0 -12.6 0 M348.4 1326.8a7.8 6.4 0 1 0 15.6 0a7.8 6.4 0 1 0 -15.6 0 M349.5 1382.0a7.8 6.4 0 1 0 15.6 0a7.8 6.4 0 1 0 -15.6 0 M350.7 1354.4a6.1 5.0 0 1 0 12.2 0a6.1 5.0 0 1 0 -12.2 0 M332.8 1333.7a8.0 7.0 0 1 0 16.1 0a8.0 7.0 0 1 0 -16.1 0 M334.5 1388.7a8.0 7.0 0 1 0 16.1 0a8.0 7.0 0 1 0 -16.1 0 M335.4 1361.2a6.3 5.5 0 1 0 12.5 0a6.3 5.5 0 1 0 -12.5 0 M317.6 1340.6a7.9 6.0 0 1 0 15.7 0a7.9 6.0 0 1 0 -15.7 0 M320.0 1395.3a7.9 6.0 0 1 0 15.7 0a7.9 6.0 0 1 0 -15.7 0 M320.5 1368.0a6.1 4.6 0 1 0 12.3 0a6.1 4.6 0 1 0 -12.3 0 M302.2 1347.5a7.8 6.9 0 1 0 15.7 0a7.8 6.9 0 1 0 -15.7 0 M305.3 1402.0a7.8 6.9 0 1 0 15.7 0a7.8 6.9 0 1 0 -15.7 0 M305.5 1374.8a6.1 5.4 0 1 0 12.2 0a6.1 5.4 0 1 0 -12.2 0 M287.2 1354.5a7.5 6.0 0 1 0 15.0 0a7.5 6.0 0 1 0 -15.0 0 M290.9 1408.6a7.5 6.0 0 1 0 15.0 0a7.5 6.0 0 1 0 -15.0 0 M290.7 1381.5a5.8 4.7 0 1 0 11.7 0a5.8 4.7 0 1 0 -11.7 0 M272.1 1361.4a7.2 5.9 0 1 0 14.4 0a7.2 5.9 0 1 0 -14.4 0 M276.5 1415.3a7.2 5.9 0 1 0 14.4 0a7.2 5.9 0 1 0 -14.4 0 M275.9 1388.3a5.6 4.6 0 1 0 11.3 0a5.6 4.6 0 1 0 -11.3 0 M256.6 1368.3a7.3 5.5 0 1 0 14.6 0a7.3 5.5 0 1 0 -14.6 0 M261.6 1422.0a7.3 5.5 0 1 0 14.6 0a7.3 5.5 0 1 0 -14.6 0 M260.7 1395.1a5.7 4.3 0 1 0 11.4 0a5.7 4.3 0 1 0 -11.4 0 M363.8 1332.0a7.3 5.7 0 1 0 14.7 0a7.3 5.7 0 1 0 -14.7 0 M364.3 1387.5a7.3 5.7 0 1 0 14.7 0a7.3 5.7 0 1 0 -14.7 0 M365.7 1359.8a5.7 4.5 0 1 0 11.4 0a5.7 4.5 0 1 0 -11.4 0 M347.5 1339.2a8.1 6.1 0 1 0 16.1 0a8.1 6.1 0 1 0 -16.1 0 M348.8 1394.5a8.1 6.1 0 1 0 16.1 0a8.1 6.1 0 1 0 -16.1 0 M349.9 1366.9a6.3 4.8 0 1 0 12.6 0a6.3 4.8 0 1 0 -12.6 0 M332.3 1346.4a7.7 6.7 0 1 0 15.5 0a7.7 6.7 0 1 0 -15.5 0 M334.2 1401.5a7.7 6.7 0 1 0 15.5 0a7.7 6.7 0 1 0 -15.5 0 M335.0 1374.0a6.0 5.2 0 1 0 12.1 0a6.0 5.2 0 1 0 -12.1 0 M316.5 1353.6a8.1 6.3 0 1 0 16.1 0a8.1 6.3 0 1 0 -16.1 0 M319.1 1408.5a8.1 6.3 0 1 0 16.1 0a8.1 6.3 0 1 0 -16.1 0 M319.6 1381.1a6.3 4.9 0 1 0 12.6 0a6.3 4.9 0 1 0 -12.6 0 M301.5 1360.8a7.6 6.5 0 1 0 15.1 0a7.6 6.5 0 1 0 -15.1 0 M304.7 1415.6a7.6 6.5 0 1 0 15.1 0a7.6 6.5 0 1 0 -15.1 0 M304.8 1388.2a5.9 5.1 0 1 0 11.8 0a5.9 5.1 0 1 0 -11.8 0 M286.2 1368.0a7.4 5.7 0 1 0 14.7 0a7.4 5.7 0 1 0 -14.7 0 M290.1 1422.6a7.4 5.7 0 1 0 14.7 0a7.4 5.7 0 1 0 -14.7 0 M289.8 1395.3a5.7 4.4 0 1 0 11.5 0a5.7 4.4 0 1 0 -11.5 0 M270.6 1375.2a7.4 6.0 0 1 0 14.9 0a7.4 6.0 0 1 0 -14.9 0 M275.2 1429.6a7.4 6.0 0 1 0 14.9 0a7.4 6.0 0 1 0 -14.9 0 M274.5 1402.4a5.8 4.7 0 1 0 11.6 0a5.8 4.7 0 1 0 -11.6 0 M378.5 1337.3a7.5 5.6 0 1 0 14.9 0a7.5 5.6 0 1 0 -14.9 0 M378.6 1393.0a7.5 5.6 0 1 0 14.9 0a7.5 5.6 0 1 0 -14.9 0 M380.2 1365.2a5.8 4.4 0 1 0 11.6 0a5.8 4.4 0 1 0 -11.6 0 M362.8 1344.8a7.6 6.2 0 1 0 15.1 0a7.6 6.2 0 1 0 -15.1 0 M363.5 1400.4a7.6 6.2 0 1 0 15.1 0a7.6 6.2 0 1 0 -15.1 0 M364.8 1372.6a5.9 4.9 0 1 0 11.8 0a5.9 4.9 0 1 0 -11.8 0 M346.8 1352.2a7.9 6.4 0 1 0 15.8 0a7.9 6.4 0 1 0 -15.8 0 M348.3 1407.8a7.9 6.4 0 1 0 15.8 0a7.9 6.4 0 1 0 -15.8 0 M349.3 1380.0a6.2 5.0 0 1 0 12.3 0a6.2 5.0 0 1 0 -12.3 0 M331.2 1359.7a7.9 6.0 0 1 0 15.8 0a7.9 6.0 0 1 0 -15.8 0 M333.3 1415.1a7.9 6.0 0 1 0 15.8 0a7.9 6.0 0 1 0 -15.8 0 M334.0 1387.4a6.1 4.7 0 1 0 12.3 0a6.1 4.7 0 1 0 -12.3 0 M315.5 1367.2a8.0 6.9 0 1 0 16.0 0a8.0 6.9 0 1 0 -16.0 0 M318.2 1422.5a8.0 6.9 0 1 0 16.0 0a8.0 6.9 0 1 0 -16.0 0 M318.6 1394.8a6.2 5.4 0 1 0 12.4 0a6.2 5.4 0 1 0 -12.4 0 M300.2 1374.7a7.6 6.1 0 1 0 15.2 0a7.6 6.1 0 1 0 -15.2 0 M303.7 1429.9a7.6 6.1 0 1 0 15.2 0a7.6 6.1 0 1 0 -15.2 0 M303.6 1402.3a5.9 4.7 0 1 0 11.8 0a5.9 4.7 0 1 0 -11.8 0 M284.4 1382.1a7.8 5.9 0 1 0 15.7 0a7.8 5.9 0 1 0 -15.7 0 M288.4 1437.2a7.8 5.9 0 1 0 15.7 0a7.8 5.9 0 1 0 -15.7 0 M288.1 1409.7a6.1 4.6 0 1 0 12.2 0a6.1 4.6 0 1 0 -12.2 0 M393.5 1342.5a7.4 5.7 0 1 0 14.8 0a7.4 5.7 0 1 0 -14.8 0 M393.1 1398.5a7.4 5.7 0 1 0 14.8 0a7.4 5.7 0 1 0 -14.8 0 M394.9 1370.5a5.8 4.5 0 1 0 11.6 0a5.8 4.5 0 1 0 -11.6 0 M377.9 1350.3a7.3 5.4 0 1 0 14.5 0a7.3 5.4 0 1 0 -14.5 0 M378.1 1406.2a7.3 5.4 0 1 0 14.5 0a7.3 5.4 0 1 0 -14.5 0 M379.6 1378.3a5.7 4.2 0 1 0 11.3 0a5.7 4.2 0 1 0 -11.3 0 M362.1 1358.0a7.3 5.8 0 1 0 14.6 0a7.3 5.8 0 1 0 -14.6 0 M363.0 1414.0a7.3 5.8 0 1 0 14.6 0a7.3 5.8 0 1 0 -14.6 0 M364.1 1386.0a5.7 4.5 0 1 0 11.4 0a5.7 4.5 0 1 0 -11.4 0 M345.5 1365.8a8.1 6.7 0 1 0 16.1 0a8.1 6.7 0 1 0 -16.1 0 M347.1 1421.7a8.1 6.7 0 1 0 16.1 0a8.1 6.7 0 1 0 -16.1 0 M348.1 1393.7a6.3 5.2 0 1 0 12.6 0a6.3 5.2 0 1 0 -12.6 0 M330.4 1373.5a7.5 5.9 0 1 0 14.9 0a7.5 5.9 0 1 0 -14.9 0 M332.7 1429.4a7.5 5.9 0 1 0 14.9 0a7.5 5.9 0 1 0 -14.9 0 M333.2 1401.5a5.8 4.6 0 1 0 11.6 0a5.8 4.6 0 1 0 -11.6 0 M314.8 1381.3a7.3 6.3 0 1 0 14.6 0a7.3 6.3 0 1 0 -14.6 0 M317.7 1437.1a7.3 6.3 0 1 0 14.6 0a7.3 6.3 0 1 0 -14.6 0 M317.8 1409.2a5.7 4.9 0 1 0 11.4 0a5.7 4.9 0 1 0 -11.4 0 M298.6 1389.1a7.7 6.2 0 1 0 15.3 0a7.7 6.2 0 1 0 -15.3 0 M302.3 1444.8a7.7 6.2 0 1 0 15.3 0a7.7 6.2 0 1 0 -15.3 0 M302.2 1416.9a6.0 4.9 0 1 0 12.0 0a6.0 4.9 0 1 0 -12.0 0 M408.5 1347.8a7.3 5.8 0 1 0 14.6 0a7.3 5.8 0 1 0 -14.6 0 M407.6 1404.0a7.3 5.8 0 1 0 14.6 0a7.3 5.8 0 1 0 -14.6 0 M409.7 1375.9a5.7 4.5 0 1 0 11.4 0a5.7 4.5 0 1 0 -11.4 0 M391.9 1355.8a8.0 6.2 0 1 0 16.1 0a8.0 6.2 0 1 0 -16.1 0 M391.6 1412.1a8.0 6.2 0 1 0 16.1 0a8.0 6.2 0 1 0 -16.1 0 M393.5 1384.0a6.3 4.8 0 1 0 12.5 0a6.3 4.8 0 1 0 -12.5 0 M375.9 1363.8a8.2 6.7 0 1 0 16.3 0a8.2 6.7 0 1 0 -16.3 0 M376.3 1420.2a8.2 6.7 0 1 0 16.3 0a8.2 6.7 0 1 0 -16.3 0 M377.9 1392.0a6.4 5.2 0 1 0 12.7 0a6.4 5.2 0 1 0 -12.7 0 M360.4 1371.9a7.7 5.8 0 1 0 15.5 0a7.7 5.8 0 1 0 -15.5 0 M361.5 1428.2a7.7 5.8 0 1 0 15.5 0a7.7 5.8 0 1 0 -15.5 0 M362.6 1400.1a6.0 4.6 0 1 0 12.1 0a6.0 4.6 0 1 0 -12.1 0 M344.1 1379.9a8.2 7.1 0 1 0 16.4 0a8.2 7.1 0 1 0 -16.4 0 M345.9 1436.3a8.2 7.1 0 1 0 16.4 0a8.2 7.1 0 1 0 -16.4 0 M346.8 1408.1a6.4 5.5 0 1 0 12.8 0a6.4 5.5 0 1 0 -12.8 0 M328.9 1387.9a7.5 6.0 0 1 0 14.9 0a7.5 6.0 0 1 0 -14.9 0 M331.4 1444.4a7.5 6.0 0 1 0 14.9 0a7.5 6.0 0 1 0 -14.9 0 M331.8 1416.2a5.8 4.6 0 1 0 11.6 0a5.8 4.6 0 1 0 -11.6 0 M312.5 1396.0a8.0 6.5 0 1 0 15.9 0a8.0 6.5 0 1 0 -15.9 0 M315.6 1452.5a8.0 6.5 0 1 0 15.9 0a8.0 6.5 0 1 0 -15.9 0 M315.8 1424.2a6.2 5.1 0 1 0 12.4 0a6.2 5.1 0 1 0 -12.4 0 M423.2 1353.0a7.5 5.9 0 1 0 15.1 0a7.5 5.9 0 1 0 -15.1 0 M421.8 1409.5a7.5 5.9 0 1 0 15.1 0a7.5 5.9 0 1 0 -15.1 0 M424.1 1381.3a5.9 4.6 0 1 0 11.7 0a5.9 4.6 0 1 0 -11.7 0 M406.5 1361.3a8.2 7.0 0 1 0 16.4 0a8.2 7.0 0 1 0 -16.4 0 M405.8 1418.0a8.2 7.0 0 1 0 16.4 0a8.2 7.0 0 1 0 -16.4 0 M407.9 1389.6a6.4 5.5 0 1 0 12.8 0a6.4 5.5 0 1 0 -12.8 0 M390.6 1369.6a8.0 6.8 0 1 0 16.0 0a8.0 6.8 0 1 0 -16.0 0 M390.6 1426.4a8.0 6.8 0 1 0 16.0 0a8.0 6.8 0 1 0 -16.0 0 M392.4 1398.0a6.3 5.3 0 1 0 12.5 0a6.3 5.3 0 1 0 -12.5 0 M374.9 1378.0a7.7 6.1 0 1 0 15.4 0a7.7 6.1 0 1 0 -15.4 0 M375.6 1434.8a7.7 6.1 0 1 0 15.4 0a7.7 6.1 0 1 0 -15.4 0 M376.9 1406.4a6.0 4.8 0 1 0 12.0 0a6.0 4.8 0 1 0 -12.0 0 M359.4 1386.3a7.2 5.7 0 1 0 14.5 0a7.2 5.7 0 1 0 -14.5 0 M360.7 1443.2a7.2 5.7 0 1 0 14.5 0a7.2 5.7 0 1 0 -14.5 0 M361.6 1414.8a5.6 4.4 0 1 0 11.3 0a5.6 4.4 0 1 0 -11.3 0 M342.7 1394.6a7.9 6.9 0 1 0 15.8 0a7.9 6.9 0 1 0 -15.8 0 M344.7 1451.7a7.9 6.9 0 1 0 15.8 0a7.9 6.9 0 1 0 -15.8 0 M345.4 1423.1a6.2 5.4 0 1 0 12.3 0a6.2 5.4 0 1 0 -12.3 0 M326.4 1402.9a8.1 7.1 0 1 0 16.3 0a8.1 7.1 0 1 0 -16.3 0 M329.1 1460.1a8.1 7.1 0 1 0 16.3 0a8.1 7.1 0 1 0 -16.3 0 M329.6 1431.5a6.3 5.6 0 1 0 12.7 0a6.3 5.6 0 1 0 -12.7 0 M438.0 1358.2a7.6 5.9 0 1 0 15.1 0a7.6 5.9 0 1 0 -15.1 0 M436.1 1415.1a7.6 5.9 0 1 0 15.1 0a7.6 5.9 0 1 0 -15.1 0 M438.8 1386.7a5.9 4.6 0 1 0 11.8 0a5.9 4.6 0 1 0 -11.8 0 M422.1 1366.8a7.4 5.7 0 1 0 14.8 0a7.4 5.7 0 1 0 -14.8 0 M420.8 1423.8a7.4 5.7 0 1 0 14.8 0a7.4 5.7 0 1 0 -14.8 0 M423.1 1395.3a5.8 4.5 0 1 0 11.5 0a5.8 4.5 0 1 0 -11.5 0 M405.2 1375.4a8.1 7.0 0 1 0 16.2 0a8.1 7.0 0 1 0 -16.2 0 M404.7 1432.6a8.1 7.0 0 1 0 16.2 0a8.1 7.0 0 1 0 -16.2 0 M406.7 1404.0a6.3 5.4 0 1 0 12.6 0a6.3 5.4 0 1 0 -12.6 0 M389.3 1384.0a7.9 6.7 0 1 0 15.7 0a7.9 6.7 0 1 0 -15.7 0 M389.5 1441.4a7.9 6.7 0 1 0 15.7 0a7.9 6.7 0 1 0 -15.7 0 M391.1 1412.7a6.1 5.2 0 1 0 12.3 0a6.1 5.2 0 1 0 -12.3 0 M373.1 1392.6a7.9 6.8 0 1 0 15.7 0a7.9 6.8 0 1 0 -15.7 0 M374.0 1450.2a7.9 6.8 0 1 0 15.7 0a7.9 6.8 0 1 0 -15.7 0 M375.3 1421.4a6.1 5.3 0 1 0 12.3 0a6.1 5.3 0 1 0 -12.3 0 M356.9 1401.2a8.0 6.5 0 1 0 15.9 0a8.0 6.5 0 1 0 -15.9 0 M358.4 1458.9a8.0 6.5 0 1 0 15.9 0a8.0 6.5 0 1 0 -15.9 0 M359.4 1430.1a6.2 5.0 0 1 0 12.4 0a6.2 5.0 0 1 0 -12.4 0 M340.7 1409.8a8.0 6.3 0 1 0 16.0 0a8.0 6.3 0 1 0 -16.0 0 M342.9 1467.7a8.0 6.3 0 1 0 16.0 0a8.0 6.3 0 1 0 -16.0 0 M343.6 1438.8a6.2 4.9 0 1 0 12.5 0a6.2 4.9 0 1 0 -12.5 0 M452.3 1363.5a8.2 6.5 0 1 0 16.3 0a8.2 6.5 0 1 0 -16.3 0 M449.9 1420.6a8.2 6.5 0 1 0 16.3 0a8.2 6.5 0 1 0 -16.3 0 M452.9 1392.0a6.4 5.1 0 1 0 12.7 0a6.4 5.1 0 1 0 -12.7 0 M436.1 1372.4a8.1 6.9 0 1 0 16.3 0a8.1 6.9 0 1 0 -16.3 0 M434.4 1429.7a8.1 6.9 0 1 0 16.3 0a8.1 6.9 0 1 0 -16.3 0 M437.0 1401.0a6.4 5.4 0 1 0 12.7 0a6.4 5.4 0 1 0 -12.7 0 M420.6 1381.2a7.3 5.6 0 1 0 14.7 0a7.3 5.6 0 1 0 -14.7 0 M419.6 1438.8a7.3 5.6 0 1 0 14.7 0a7.3 5.6 0 1 0 -14.7 0 M421.7 1410.0a5.7 4.4 0 1 0 11.4 0a5.7 4.4 0 1 0 -11.4 0 M403.7 1390.1a8.0 6.2 0 1 0 16.0 0a8.0 6.2 0 1 0 -16.0 0 M403.3 1448.0a8.0 6.2 0 1 0 16.0 0a8.0 6.2 0 1 0 -16.0 0 M405.3 1419.0a6.2 4.8 0 1 0 12.5 0a6.2 4.8 0 1 0 -12.5 0 M387.2 1399.0a8.2 6.8 0 1 0 16.4 0a8.2 6.8 0 1 0 -16.4 0 M387.6 1457.1a8.2 6.8 0 1 0 16.4 0a8.2 6.8 0 1 0 -16.4 0 M389.2 1428.0a6.4 5.3 0 1 0 12.8 0a6.4 5.3 0 1 0 -12.8 0 M371.4 1407.9a7.7 5.9 0 1 0 15.5 0a7.7 5.9 0 1 0 -15.5 0 M372.4 1466.2a7.7 5.9 0 1 0 15.5 0a7.7 5.9 0 1 0 -15.5 0 M373.6 1437.0a6.0 4.6 0 1 0 12.1 0a6.0 4.6 0 1 0 -12.1 0 M354.7 1416.8a8.2 6.8 0 1 0 16.3 0a8.2 6.8 0 1 0 -16.3 0 M356.4 1475.3a8.2 6.8 0 1 0 16.3 0a8.2 6.8 0 1 0 -16.3 0 M357.3 1446.0a6.4 5.3 0 1 0 12.7 0a6.4 5.3 0 1 0 -12.7 0 M467.3 1368.7a8.1 6.6 0 1 0 16.3 0a8.1 6.6 0 1 0 -16.3 0 M464.4 1426.1a8.1 6.6 0 1 0 16.3 0a8.1 6.6 0 1 0 -16.3 0 M467.6 1397.4a6.3 5.1 0 1 0 12.7 0a6.3 5.1 0 1 0 -12.7 0 M451.0 1377.9a8.0 6.2 0 1 0 16.1 0a8.0 6.2 0 1 0 -16.1 0 M448.8 1435.6a8.0 6.2 0 1 0 16.1 0a8.0 6.2 0 1 0 -16.1 0 M451.6 1406.7a6.3 4.9 0 1 0 12.5 0a6.3 4.9 0 1 0 -12.5 0 M435.1 1387.0a7.5 5.9 0 1 0 15.0 0a7.5 5.9 0 1 0 -15.0 0 M433.6 1445.0a7.5 5.9 0 1 0 15.0 0a7.5 5.9 0 1 0 -15.0 0 M436.0 1416.0a5.8 4.6 0 1 0 11.7 0a5.8 4.6 0 1 0 -11.7 0 M418.7 1396.2a7.5 6.0 0 1 0 14.9 0a7.5 6.0 0 1 0 -14.9 0 M417.9 1454.5a7.5 6.0 0 1 0 14.9 0a7.5 6.0 0 1 0 -14.9 0 M420.0 1425.4a5.8 4.7 0 1 0 11.6 0a5.8 4.7 0 1 0 -11.6 0 M401.7 1405.4a8.1 6.5 0 1 0 16.2 0a8.1 6.5 0 1 0 -16.2 0 M401.6 1464.0a8.1 6.5 0 1 0 16.2 0a8.1 6.5 0 1 0 -16.2 0 M403.4 1434.7a6.3 5.0 0 1 0 12.7 0a6.3 5.0 0 1 0 -12.7 0 M385.6 1414.5a7.8 6.8 0 1 0 15.6 0a7.8 6.8 0 1 0 -15.6 0 M386.2 1473.5a7.8 6.8 0 1 0 15.6 0a7.8 6.8 0 1 0 -15.6 0 M387.6 1444.0a6.1 5.3 0 1 0 12.1 0a6.1 5.3 0 1 0 -12.1 0 M368.9 1423.7a8.1 6.6 0 1 0 16.2 0a8.1 6.6 0 1 0 -16.2 0 M370.1 1483.0a8.1 6.6 0 1 0 16.2 0a8.1 6.6 0 1 0 -16.2 0 M371.3 1453.3a6.3 5.2 0 1 0 12.7 0a6.3 5.2 0 1 0 -12.7 0 M482.6 1374.0a7.7 5.8 0 1 0 15.4 0a7.7 5.8 0 1 0 -15.4 0 M479.2 1431.6a7.7 5.8 0 1 0 15.4 0a7.7 5.8 0 1 0 -15.4 0 M482.6 1402.8a6.0 4.5 0 1 0 12.0 0a6.0 4.5 0 1 0 -12.0 0 M466.4 1383.4a7.4 5.5 0 1 0 14.8 0a7.4 5.5 0 1 0 -14.8 0 M463.7 1441.4a7.4 5.5 0 1 0 14.8 0a7.4 5.5 0 1 0 -14.8 0 M466.7 1412.4a5.8 4.3 0 1 0 11.5 0a5.8 4.3 0 1 0 -11.5 0 M449.9 1392.9a7.4 6.0 0 1 0 14.7 0a7.4 6.0 0 1 0 -14.7 0 M447.9 1451.2a7.4 6.0 0 1 0 14.7 0a7.4 6.0 0 1 0 -14.7 0 M450.5 1422.1a5.8 4.7 0 1 0 11.5 0a5.8 4.7 0 1 0 -11.5 0 M433.0 1402.3a7.8 6.1 0 1 0 15.5 0a7.8 6.1 0 1 0 -15.5 0 M431.7 1461.1a7.8 6.1 0 1 0 15.5 0a7.8 6.1 0 1 0 -15.5 0 M434.0 1431.7a6.1 4.8 0 1 0 12.1 0a6.1 4.8 0 1 0 -12.1 0 M416.4 1411.7a7.8 6.6 0 1 0 15.5 0a7.8 6.6 0 1 0 -15.5 0 M415.8 1470.9a7.8 6.6 0 1 0 15.5 0a7.8 6.6 0 1 0 -15.5 0 M417.8 1441.3a6.0 5.2 0 1 0 12.1 0a6.0 5.2 0 1 0 -12.1 0 M399.9 1421.2a7.8 6.1 0 1 0 15.5 0a7.8 6.1 0 1 0 -15.5 0 M400.0 1480.8a7.8 6.1 0 1 0 15.5 0a7.8 6.1 0 1 0 -15.5 0 M401.6 1451.0a6.1 4.7 0 1 0 12.1 0a6.1 4.7 0 1 0 -12.1 0 M383.1 1430.6a8.0 6.5 0 1 0 15.9 0a8.0 6.5 0 1 0 -15.9 0 M383.9 1490.6a8.0 6.5 0 1 0 15.9 0a8.0 6.5 0 1 0 -15.9 0 M385.3 1460.6a6.2 5.1 0 1 0 12.4 0a6.2 5.1 0 1 0 -12.4 0 M497.3 1379.2a8.0 6.9 0 1 0 15.9 0a8.0 6.9 0 1 0 -15.9 0 M493.4 1437.1a8.0 6.9 0 1 0 15.9 0a8.0 6.9 0 1 0 -15.9 0 M497.1 1408.2a6.2 5.4 0 1 0 12.4 0a6.2 5.4 0 1 0 -12.4 0 M480.7 1388.9a7.8 6.4 0 1 0 15.6 0a7.8 6.4 0 1 0 -15.6 0 M477.6 1447.3a7.8 6.4 0 1 0 15.6 0a7.8 6.4 0 1 0 -15.6 0 M480.9 1418.1a6.1 5.0 0 1 0 12.2 0a6.1 5.0 0 1 0 -12.2 0 M464.0 1398.7a7.9 6.4 0 1 0 15.8 0a7.9 6.4 0 1 0 -15.8 0 M461.5 1457.5a7.9 6.4 0 1 0 15.8 0a7.9 6.4 0 1 0 -15.8 0 M464.5 1428.1a6.2 5.0 0 1 0 12.3 0a6.2 5.0 0 1 0 -12.3 0 M447.5 1408.4a7.7 6.7 0 1 0 15.4 0a7.7 6.7 0 1 0 -15.4 0 M445.8 1467.7a7.7 6.7 0 1 0 15.4 0a7.7 6.7 0 1 0 -15.4 0 M448.3 1438.0a6.0 5.2 0 1 0 12.0 0a6.0 5.2 0 1 0 -12.0 0 M430.5 1418.1a8.1 7.0 0 1 0 16.2 0a8.1 7.0 0 1 0 -16.2 0 M429.4 1477.8a8.1 7.0 0 1 0 16.2 0a8.1 7.0 0 1 0 -16.2 0 M431.7 1448.0a6.3 5.5 0 1 0 12.6 0a6.3 5.5 0 1 0 -12.6 0 M414.1 1427.8a7.8 6.8 0 1 0 15.5 0a7.8 6.8 0 1 0 -15.5 0 M413.8 1488.0a7.8 6.8 0 1 0 15.5 0a7.8 6.8 0 1 0 -15.5 0 M415.7 1457.9a6.1 5.3 0 1 0 12.1 0a6.1 5.3 0 1 0 -12.1 0 M397.9 1437.5a7.3 5.6 0 1 0 14.7 0a7.3 5.6 0 1 0 -14.7 0 M398.2 1498.2a7.3 5.6 0 1 0 14.7 0a7.3 5.6 0 1 0 -14.7 0 M399.7 1467.9a5.7 4.4 0 1 0 11.4 0a5.7 4.4 0 1 0 -11.4 0 M512.8 1384.5a7.3 5.7 0 1 0 14.5 0a7.3 5.7 0 1 0 -14.5 0 M508.5 1442.6a7.3 5.7 0 1 0 14.5 0a7.3 5.7 0 1 0 -14.5 0 M512.3 1413.5a5.7 4.4 0 1 0 11.3 0a5.7 4.4 0 1 0 -11.3 0 M495.5 1394.5a7.9 6.7 0 1 0 15.7 0a7.9 6.7 0 1 0 -15.7 0 M491.8 1453.1a7.9 6.7 0 1 0 15.7 0a7.9 6.7 0 1 0 -15.7 0 M495.3 1423.8a6.1 5.2 0 1 0 12.3 0a6.1 5.2 0 1 0 -12.3 0 M479.2 1404.5a7.4 6.2 0 1 0 14.7 0a7.4 6.2 0 1 0 -14.7 0 M476.2 1463.7a7.4 6.2 0 1 0 14.7 0a7.4 6.2 0 1 0 -14.7 0 M479.3 1434.1a5.7 4.8 0 1 0 11.5 0a5.7 4.8 0 1 0 -11.5 0 M462.4 1414.5a7.3 6.3 0 1 0 14.7 0a7.3 6.3 0 1 0 -14.7 0 M460.1 1474.2a7.3 6.3 0 1 0 14.7 0a7.3 6.3 0 1 0 -14.7 0 M462.9 1444.3a5.7 5.0 0 1 0 11.5 0a5.7 5.0 0 1 0 -11.5 0 M445.5 1424.5a7.4 6.5 0 1 0 14.8 0a7.4 6.5 0 1 0 -14.8 0 M444.0 1484.8a7.4 6.5 0 1 0 14.8 0a7.4 6.5 0 1 0 -14.8 0 M446.4 1454.6a5.8 5.1 0 1 0 11.6 0a5.8 5.1 0 1 0 -11.6 0 M428.5 1434.5a7.7 6.8 0 1 0 15.4 0a7.7 6.8 0 1 0 -15.4 0 M427.6 1495.3a7.7 6.8 0 1 0 15.4 0a7.7 6.8 0 1 0 -15.4 0 M429.7 1464.9a6.0 5.3 0 1 0 12.0 0a6.0 5.3 0 1 0 -12.0 0 M412.0 1444.5a7.4 5.9 0 1 0 14.7 0a7.4 5.9 0 1 0 -14.7 0 M411.9 1505.8a7.4 5.9 0 1 0 14.7 0a7.4 5.9 0 1 0 -14.7 0 M413.6 1475.1a5.7 4.6 0 1 0 11.5 0a5.7 4.6 0 1 0 -11.5 0"/>
<path fill="none" stroke="#333333" stroke-width="0.95" d="M307.1 1306.4 L310.8 1306.9 L314.6 1309.0 L317.5 1312.4 L318.7 1316.6 L318.1 1320.8 L315.8 1324.3 L312.6 1326.7 L309.4 1327.7 L307.0 1327.5 L306.0 1326.7 L306.6 1325.8 L308.8 1325.4 L311.8 1326.1 L314.9 1328.0 L317.4 1331.1 L318.5 1334.8 L318.1 1338.6 L316.2 1341.9 L313.4 1344.3 L310.5 1345.4 L308.2 1345.5 L307.1 1344.8 L307.6 1343.9 L309.6 1343.5 L312.7 1344.1 L315.9 1346.0 L318.6 1349.0 L319.9 1352.9 L319.6 1357.0 L317.5 1360.6 L314.4 1363.1 L310.9 1364.3 L308.1 1364.1 L306.7 1363.0 L307.3 1361.6 L309.7 1360.8 M291.7 1321.6 L289.8 1320.5 L289.8 1319.0 L291.6 1317.9 L294.7 1317.9 L298.3 1319.3 L301.3 1322.2 L303.1 1326.0 L303.3 1330.2 L301.9 1334.0 L299.3 1336.8 L296.3 1338.4 L293.7 1338.7 L292.1 1338.1 L292.1 1337.2 L293.6 1336.5 L296.1 1336.7 L299.2 1338.1 L301.9 1340.6 L303.6 1344.1 L303.9 1348.0 L302.7 1351.7 L300.3 1354.6 L297.4 1356.3 L294.7 1356.7 L293.1 1356.1 L292.9 1355.1 L294.3 1354.3 L297.0 1354.2 L300.4 1355.5 L303.5 1358.1 L305.5 1361.9 L305.9 1366.2 L304.6 1370.3 L301.7 1373.5 L298.2 1375.3 L294.9 1375.5 M288.6 1324.6 L286.8 1328.7 L283.7 1331.7 L280.2 1333.1 L277.3 1333.1 L275.7 1332.2 L275.9 1330.9 L277.7 1330.1 L280.6 1330.2 L283.9 1331.7 L286.7 1334.5 L288.4 1338.2 L288.5 1342.2 L287.1 1345.8 L284.6 1348.5 L281.8 1350.0 L279.3 1350.3 L277.9 1349.8 L277.9 1348.9 L279.4 1348.3 L282.0 1348.5 L285.1 1349.9 L287.8 1352.5 L289.5 1356.0 L289.8 1360.0 L288.5 1363.7 L286.0 1366.6 L283.0 1368.2 L280.2 1368.5 L278.5 1367.8 L278.4 1366.5 L280.1 1365.6 L283.0 1365.5 L286.6 1366.8 L290.0 1369.6 L292.1 1373.5 L292.4 1378.1 M272.9 1332.4 L270.1 1335.8 L266.4 1337.8 L263.0 1338.3 L260.7 1337.6 L260.2 1336.4 L261.5 1335.3 L264.3 1335.1 L267.8 1336.1 L271.1 1338.4 L273.4 1341.8 L274.1 1345.7 L273.2 1349.5 L270.9 1352.5 L268.0 1354.5 L265.1 1355.2 L263.2 1354.9 L262.7 1354.1 L263.7 1353.3 L266.1 1353.2 L269.3 1354.2 L272.4 1356.4 L274.6 1359.6 L275.5 1363.4 L274.7 1367.1 L272.5 1370.3 L269.5 1372.4 L266.4 1373.2 L264.2 1372.8 L263.5 1371.7 L264.5 1370.7 L267.2 1370.3 L270.8 1371.0 L274.5 1373.3 L277.3 1376.8 L278.4 1381.1 L277.4 1385.4 M256.9 1339.9 L253.7 1343.0 L250.0 1344.4 L246.9 1344.1 L245.3 1342.8 L245.5 1341.2 L247.5 1340.0 L250.7 1340.1 L254.3 1341.6 L257.3 1344.6 L259.1 1348.5 L259.1 1352.8 L257.6 1356.6 L255.0 1359.4 L252.0 1360.8 L249.5 1360.9 L248.0 1360.1 L248.2 1358.9 L249.9 1358.0 L252.6 1358.2 L255.9 1359.6 L258.7 1362.3 L260.5 1366.1 L260.7 1370.2 L259.3 1374.1 L256.8 1377.0 L253.6 1378.6 L250.9 1378.7 L249.2 1377.7 L249.2 1376.2 L251.0 1375.1 L254.1 1374.9 L257.9 1376.2 L261.3 1379.1 L263.5 1383.3 L263.8 1388.0 L262.1 1392.5 M243.5 1339.4 L243.8 1344.0 L242.2 1348.2 L239.3 1351.3 L235.9 1352.8 L232.9 1352.9 L231.2 1351.9 L231.3 1350.5 L233.0 1349.5 L235.9 1349.5 L239.3 1350.9 L242.3 1353.5 L244.1 1357.2 L244.5 1361.2 L243.2 1364.9 L240.8 1367.7 L238.0 1369.3 L235.5 1369.7 L233.9 1369.0 L233.9 1368.0 L235.4 1367.2 L238.0 1367.2 L241.2 1368.4 L244.1 1371.0 L246.1 1374.5 L246.5 1378.6 L245.4 1382.4 L242.9 1385.4 L239.8 1387.1 L236.9 1387.4 L235.1 1386.6 L234.9 1385.2 L236.5 1384.0 L239.6 1383.6 L243.4 1384.8 L246.9 1387.5 L249.3 1391.5 M229.2 1346.6 L228.8 1351.2 L226.6 1355.0 L223.2 1357.6 L219.6 1358.6 L216.9 1358.2 L215.8 1356.9 L216.5 1355.6 L218.8 1354.8 L222.1 1355.2 L225.7 1357.0 L228.5 1360.1 L229.9 1363.9 L229.7 1367.9 L227.9 1371.4 L225.1 1373.9 L222.2 1375.0 L219.8 1374.9 L218.8 1374.0 L219.3 1373.0 L221.3 1372.4 L224.4 1372.7 L227.7 1374.4 L230.5 1377.3 L232.0 1381.1 L231.9 1385.2 L230.2 1388.8 L227.4 1391.4 L224.1 1392.6 L221.4 1392.5 L220.1 1391.3 L220.5 1389.9 L222.8 1388.9 L226.3 1389.0 L230.3 1390.6 L233.7 1393.8 L235.7 1398.2 M324.6 1322.4 L321.5 1322.2 L319.8 1321.0 L319.9 1319.4 L321.8 1318.4 L324.9 1318.5 L328.3 1320.0 L331.2 1323.0 L332.8 1327.0 L332.8 1331.3 L331.3 1335.1 L328.6 1337.9 L325.6 1339.4 L323.1 1339.6 L321.7 1338.9 L321.7 1337.9 L323.2 1337.2 L325.8 1337.4 L328.8 1338.9 L331.4 1341.7 L333.0 1345.4 L333.1 1349.4 L331.8 1353.2 L329.3 1356.1 L326.3 1357.7 L323.7 1357.9 L322.1 1357.2 L322.0 1356.0 L323.5 1355.1 L326.3 1355.1 L329.7 1356.5 L332.8 1359.3 L334.7 1363.3 L334.9 1367.9 L333.3 1372.1 L330.3 1375.4 L326.7 1377.0 M308.6 1327.9 L305.7 1327.7 L304.4 1326.5 L305.0 1325.3 L307.3 1324.7 L310.6 1325.2 L314.1 1327.0 L316.8 1330.1 L318.1 1334.0 L317.7 1337.9 L315.9 1341.4 L313.0 1343.8 L310.0 1345.0 L307.7 1345.1 L306.6 1344.5 L307.0 1343.7 L308.9 1343.4 L311.7 1344.0 L314.7 1345.7 L317.2 1348.6 L318.5 1352.1 L318.3 1355.9 L316.6 1359.3 L313.9 1361.8 L311.0 1363.1 L308.5 1363.3 L307.2 1362.6 L307.5 1361.7 L309.4 1361.1 L312.5 1361.5 L315.9 1363.2 L318.8 1366.2 L320.4 1370.1 L320.2 1374.3 L318.3 1378.1 L315.0 1380.9 L311.4 1382.2 M289.2 1326.0 L292.2 1325.3 L296.2 1326.1 L300.1 1328.4 L302.9 1332.1 L303.9 1336.4 L302.9 1340.7 L300.4 1344.2 L297.0 1346.3 L293.7 1347.1 L291.4 1346.6 L290.6 1345.5 L291.6 1344.5 L294.1 1344.2 L297.4 1345.1 L300.6 1347.2 L303.0 1350.5 L304.0 1354.4 L303.3 1358.3 L301.1 1361.6 L298.1 1363.8 L295.0 1364.7 L292.7 1364.5 L291.9 1363.5 L292.7 1362.5 L295.1 1362.1 L298.5 1362.8 L302.0 1364.9 L304.7 1368.2 L305.9 1372.3 L305.2 1376.6 L302.8 1380.2 L299.2 1382.6 L295.5 1383.5 L292.7 1382.9 L291.6 1381.5 L292.5 1379.9 M273.5 1333.5 L275.9 1332.4 L279.6 1332.5 L283.5 1334.2 L286.8 1337.4 L288.5 1341.5 L288.4 1345.9 L286.5 1349.8 L283.4 1352.5 L280.1 1353.8 L277.4 1353.8 L276.0 1352.9 L276.3 1351.7 L278.2 1351.0 L281.2 1351.3 L284.5 1352.9 L287.3 1355.8 L288.9 1359.5 L288.9 1363.5 L287.3 1367.2 L284.6 1369.9 L281.6 1371.3 L278.9 1371.4 L277.5 1370.7 L277.6 1369.5 L279.4 1368.8 L282.5 1368.9 L286.0 1370.4 L289.1 1373.3 L290.9 1377.2 L291.0 1381.6 L289.3 1385.6 L286.2 1388.5 L282.5 1390.0 L279.3 1390.0 L277.4 1388.7 L277.6 1387.0 M267.9 1347.0 L264.3 1348.4 L261.3 1348.5 L259.7 1347.6 L259.9 1346.4 L261.8 1345.6 L264.9 1345.9 L268.4 1347.4 L271.3 1350.1 L273.0 1353.7 L273.1 1357.6 L271.6 1361.1 L269.1 1363.7 L266.2 1365.2 L263.7 1365.5 L262.4 1365.0 L262.5 1364.3 L264.0 1363.8 L266.7 1364.1 L269.8 1365.6 L272.5 1368.1 L274.1 1371.5 L274.3 1375.2 L273.1 1378.7 L270.6 1381.4 L267.7 1383.0 L265.1 1383.3 L263.5 1382.8 L263.5 1381.9 L265.1 1381.1 L268.0 1381.2 L271.5 1382.6 L274.7 1385.3 L276.8 1389.0 L277.1 1393.1 L275.6 1397.1 L272.6 1400.1 M247.7 1353.9 L244.8 1353.3 L243.6 1351.7 L244.4 1350.1 L247.0 1349.2 L250.7 1349.7 L254.4 1351.7 L257.3 1355.0 L258.7 1359.1 L258.2 1363.3 L256.2 1366.9 L253.2 1369.3 L250.1 1370.4 L247.7 1370.2 L246.6 1369.2 L247.3 1368.1 L249.4 1367.5 L252.6 1368.0 L255.8 1369.9 L258.5 1372.9 L259.9 1376.7 L259.6 1380.8 L257.8 1384.3 L254.9 1386.8 L251.8 1387.9 L249.3 1387.8 L248.1 1386.8 L248.7 1385.5 L250.9 1384.7 L254.2 1385.0 L258.0 1386.8 L261.1 1390.0 L262.7 1394.2 L262.5 1398.7 L260.4 1402.7 L256.9 1405.5 L253.0 1406.6 M233.3 1360.4 L230.2 1360.0 L228.7 1358.6 L229.2 1357.0 L231.5 1355.9 L235.0 1356.1 L238.8 1357.8 L241.9 1360.9 L243.5 1364.9 L243.4 1369.1 L241.7 1372.8 L238.8 1375.5 L235.7 1376.7 L233.2 1376.7 L231.9 1375.8 L232.3 1374.7 L234.2 1374.0 L237.2 1374.3 L240.5 1375.9 L243.3 1378.7 L244.9 1382.4 L245.0 1386.5 L243.5 1390.1 L240.8 1392.8 L237.7 1394.1 L235.1 1394.2 L233.6 1393.3 L233.9 1392.0 L235.8 1391.1 L239.0 1391.2 L242.8 1392.7 L246.0 1395.6 L248.0 1399.7 L248.1 1404.2 L246.3 1408.3 L243.1 1411.3 L239.2 1412.7 M341.6 1328.3 L337.7 1328.9 L334.9 1328.1 L333.9 1326.4 L334.9 1324.8 L337.7 1324.0 L341.3 1324.7 L344.9 1327.1 L347.5 1330.7 L348.4 1335.1 L347.6 1339.4 L345.3 1343.0 L342.1 1345.3 L338.9 1346.2 L336.5 1345.8 L335.7 1344.7 L336.5 1343.5 L338.7 1343.1 L341.8 1343.8 L345.0 1345.9 L347.5 1349.3 L348.5 1353.4 L347.9 1357.6 L345.7 1361.2 L342.6 1363.6 L339.3 1364.6 L336.8 1364.2 L335.7 1363.0 L336.4 1361.6 L338.8 1360.8 L342.3 1361.4 L346.0 1363.5 L349.0 1367.1 L350.3 1371.7 L349.6 1376.5 L347.0 1380.5 L343.2 1383.2 M331.5 1323.7 L333.5 1328.1 L333.4 1332.8 L331.4 1337.0 L328.2 1339.9 L324.5 1341.4 L321.5 1341.3 L319.9 1340.3 L320.1 1338.9 L321.9 1338.1 L325.0 1338.3 L328.4 1339.8 L331.2 1342.7 L332.9 1346.6 L332.9 1350.7 L331.3 1354.5 L328.6 1357.3 L325.5 1358.8 L322.9 1359.0 L321.4 1358.3 L321.4 1357.2 L323.0 1356.5 L325.8 1356.7 L329.1 1358.2 L332.0 1360.9 L333.7 1364.8 L333.9 1369.0 L332.4 1372.9 L329.5 1375.9 L326.1 1377.6 L323.0 1377.7 L321.2 1376.7 L321.1 1375.2 L322.9 1374.0 L326.2 1373.9 L330.2 1375.3 L333.8 1378.3 M318.7 1334.0 L318.0 1338.7 L315.6 1342.6 L312.0 1345.2 L308.3 1346.2 L305.5 1345.8 L304.3 1344.6 L305.0 1343.3 L307.3 1342.6 L310.7 1343.2 L314.1 1345.1 L316.8 1348.3 L318.1 1352.3 L317.7 1356.4 L315.7 1359.9 L312.8 1362.3 L309.7 1363.5 L307.2 1363.4 L306.1 1362.6 L306.6 1361.6 L308.6 1361.1 L311.7 1361.6 L315.0 1363.4 L317.7 1366.5 L319.1 1370.4 L318.8 1374.5 L316.9 1378.2 L313.8 1380.8 L310.4 1382.0 L307.6 1381.9 L306.2 1380.8 L306.6 1379.4 L308.9 1378.5 L312.5 1378.7 L316.5 1380.6 L319.8 1383.9 L321.5 1388.3 M295.9 1335.6 L299.5 1338.1 L302.0 1341.8 L302.7 1346.2 L301.6 1350.4 L299.1 1353.7 L295.9 1355.7 L292.8 1356.3 L290.8 1355.8 L290.3 1354.7 L291.4 1353.8 L293.8 1353.7 L297.0 1354.7 L300.0 1357.0 L302.1 1360.3 L302.8 1364.1 L302.0 1367.9 L299.9 1371.0 L297.1 1373.0 L294.3 1373.8 L292.4 1373.6 L291.8 1372.7 L292.8 1371.9 L295.1 1371.8 L298.2 1372.7 L301.2 1374.9 L303.5 1378.2 L304.4 1382.1 L303.6 1386.1 L301.4 1389.5 L298.2 1391.7 L295.0 1392.4 L292.7 1391.9 L291.9 1390.7 L292.9 1389.4 L295.7 1388.8 L299.4 1389.5 M287.4 1349.5 L285.6 1353.7 L282.5 1356.6 L279.0 1358.0 L276.0 1358.0 L274.5 1357.0 L274.6 1355.7 L276.5 1354.9 L279.5 1355.1 L282.9 1356.6 L285.7 1359.4 L287.4 1363.1 L287.5 1367.1 L286.0 1370.8 L283.5 1373.5 L280.6 1375.0 L278.1 1375.3 L276.8 1374.7 L276.8 1373.8 L278.4 1373.1 L281.0 1373.4 L284.2 1374.8 L286.9 1377.5 L288.6 1381.0 L288.9 1385.0 L287.5 1388.7 L285.0 1391.6 L281.9 1393.2 L279.2 1393.5 L277.5 1392.7 L277.4 1391.5 L279.1 1390.5 L282.2 1390.4 L285.8 1391.8 L289.2 1394.6 L291.3 1398.6 L291.6 1403.2 M258.0 1351.8 L260.9 1350.8 L264.8 1351.3 L268.7 1353.5 L271.6 1357.2 L272.8 1361.7 L272.1 1366.2 L269.8 1369.9 L266.6 1372.3 L263.3 1373.1 L261.0 1372.6 L260.1 1371.4 L260.9 1370.1 L263.3 1369.5 L266.5 1370.2 L269.8 1372.2 L272.3 1375.5 L273.5 1379.5 L273.0 1383.7 L271.0 1387.2 L268.1 1389.6 L265.1 1390.5 L262.8 1390.3 L261.9 1389.1 L262.6 1387.9 L264.8 1387.2 L268.1 1387.7 L271.6 1389.6 L274.4 1393.0 L275.8 1397.3 L275.4 1401.8 L273.2 1405.7 L269.8 1408.3 L266.2 1409.2 L263.3 1408.7 L262.1 1407.0 L262.8 1405.1 M247.1 1355.3 L251.3 1356.7 L255.1 1359.6 L257.4 1363.7 L257.8 1368.3 L256.2 1372.4 L253.1 1375.5 L249.6 1377.1 L246.5 1377.3 L244.8 1376.4 L244.7 1375.1 L246.4 1374.2 L249.4 1374.2 L252.9 1375.5 L256.1 1378.1 L258.1 1381.7 L258.5 1385.8 L257.2 1389.6 L254.7 1392.5 L251.6 1394.2 L248.8 1394.6 L247.0 1394.0 L246.9 1392.8 L248.4 1391.9 L251.2 1391.8 L254.8 1393.0 L258.1 1395.6 L260.3 1399.3 L260.9 1403.5 L259.6 1407.6 L256.8 1410.9 L253.2 1412.7 L249.9 1413.0 L247.7 1412.0 L247.3 1410.3 L249.1 1408.8 L252.6 1408.3 M348.7 1328.6 L348.8 1326.8 L350.9 1325.6 L354.3 1325.6 L358.1 1327.2 L361.3 1330.3 L363.0 1334.4 L363.0 1338.9 L361.2 1342.9 L358.3 1345.8 L354.9 1347.3 L352.1 1347.5 L350.5 1346.6 L350.5 1345.5 L352.2 1344.7 L355.0 1344.9 L358.2 1346.4 L360.9 1349.3 L362.6 1353.0 L362.7 1357.2 L361.2 1361.0 L358.5 1363.9 L355.3 1365.5 L352.5 1365.8 L350.8 1365.0 L350.7 1363.8 L352.3 1362.9 L355.2 1363.0 L358.7 1364.4 L361.8 1367.2 L363.8 1371.2 L364.0 1375.8 L362.3 1380.0 L359.2 1383.2 L355.4 1384.9 L351.9 1385.0 L349.8 1383.8 M332.9 1334.9 L333.5 1332.8 L336.0 1331.6 L339.7 1331.8 L343.6 1333.7 L346.7 1337.3 L348.2 1341.9 L347.7 1346.6 L345.6 1350.6 L342.4 1353.3 L338.9 1354.4 L336.3 1354.2 L335.0 1353.0 L335.4 1351.6 L337.4 1350.8 L340.5 1351.2 L343.8 1353.0 L346.5 1356.2 L347.9 1360.3 L347.6 1364.6 L345.8 1368.5 L342.9 1371.2 L339.6 1372.5 L337.0 1372.4 L335.6 1371.3 L335.9 1369.8 L337.8 1368.9 L341.0 1369.1 L344.6 1370.8 L347.6 1374.1 L349.3 1378.5 L349.1 1383.3 L347.1 1387.6 L343.6 1390.6 L339.7 1391.9 L336.4 1391.5 L334.6 1389.8 M323.1 1334.9 L327.2 1336.4 L330.7 1339.4 L332.7 1343.5 L332.8 1347.9 L331.0 1351.9 L328.0 1354.8 L324.4 1356.4 L321.4 1356.6 L319.7 1355.8 L319.7 1354.8 L321.4 1354.0 L324.3 1354.3 L327.7 1355.7 L330.6 1358.4 L332.3 1362.0 L332.5 1365.9 L331.1 1369.6 L328.5 1372.4 L325.4 1374.0 L322.6 1374.5 L320.9 1374.0 L320.8 1373.0 L322.3 1372.4 L325.1 1372.5 L328.5 1373.8 L331.6 1376.5 L333.6 1380.1 L333.9 1384.3 L332.4 1388.2 L329.6 1391.3 L326.0 1393.0 L322.7 1393.3 L320.6 1392.5 L320.3 1391.1 L322.1 1389.9 L325.5 1389.6 M313.5 1341.3 L316.5 1345.2 L317.8 1350.1 L317.0 1354.9 L314.5 1358.9 L311.0 1361.3 L307.5 1362.1 L305.0 1361.5 L304.0 1360.1 L304.9 1358.6 L307.2 1357.9 L310.5 1358.5 L313.8 1360.7 L316.4 1364.1 L317.5 1368.3 L316.9 1372.6 L314.9 1376.2 L312.0 1378.6 L308.9 1379.6 L306.6 1379.3 L305.6 1378.2 L306.3 1376.9 L308.4 1376.3 L311.5 1376.8 L314.9 1378.8 L317.5 1382.2 L318.8 1386.4 L318.3 1390.9 L316.2 1394.8 L313.0 1397.4 L309.6 1398.4 L306.8 1397.9 L305.5 1396.4 L306.2 1394.6 L308.7 1393.5 L312.5 1393.7 L316.5 1395.8 M291.0 1349.2 L294.9 1350.1 L298.5 1352.5 L301.1 1356.2 L302.0 1360.5 L301.0 1364.7 L298.6 1368.1 L295.3 1370.2 L292.2 1370.9 L290.1 1370.5 L289.5 1369.5 L290.5 1368.5 L292.9 1368.3 L296.1 1369.2 L299.1 1371.4 L301.4 1374.7 L302.2 1378.6 L301.5 1382.4 L299.4 1385.6 L296.6 1387.7 L293.8 1388.6 L291.7 1388.4 L291.0 1387.5 L291.9 1386.6 L294.2 1386.4 L297.3 1387.2 L300.5 1389.3 L303.0 1392.6 L304.0 1396.7 L303.3 1400.8 L301.0 1404.3 L297.8 1406.6 L294.5 1407.4 L291.9 1406.9 L291.0 1405.6 L292.0 1404.2 L294.7 1403.4 M282.9 1366.5 L279.4 1368.6 L276.0 1369.2 L273.7 1368.6 L273.1 1367.3 L274.3 1366.2 L276.9 1365.8 L280.2 1366.7 L283.4 1369.0 L285.7 1372.4 L286.5 1376.4 L285.7 1380.3 L283.6 1383.5 L280.8 1385.5 L278.1 1386.3 L276.2 1386.1 L275.6 1385.3 L276.5 1384.5 L278.7 1384.4 L281.7 1385.3 L284.6 1387.4 L286.8 1390.6 L287.7 1394.4 L287.1 1398.2 L285.1 1401.4 L282.3 1403.6 L279.4 1404.5 L277.3 1404.3 L276.5 1403.3 L277.4 1402.2 L279.8 1401.8 L283.1 1402.5 L286.6 1404.7 L289.2 1408.1 L290.4 1412.4 L289.7 1416.7 L287.2 1420.4 M264.7 1362.8 L268.3 1365.4 L270.7 1369.1 L271.2 1373.3 L269.9 1377.3 L267.3 1380.3 L264.0 1382.1 L261.1 1382.6 L259.3 1382.1 L259.0 1381.2 L260.4 1380.5 L263.1 1380.5 L266.3 1381.7 L269.2 1384.1 L271.2 1387.4 L271.7 1391.1 L270.8 1394.7 L268.6 1397.6 L265.8 1399.4 L263.2 1400.1 L261.5 1399.8 L261.1 1399.1 L262.3 1398.5 L264.8 1398.5 L267.9 1399.6 L271.0 1401.9 L273.1 1405.2 L273.8 1409.1 L272.9 1412.9 L270.5 1416.0 L267.4 1417.9 L264.3 1418.6 L262.2 1418.1 L261.7 1416.9 L263.0 1415.8 L265.9 1415.5 L269.8 1416.5 M365.4 1335.7 L364.0 1334.5 L364.5 1333.2 L366.8 1332.5 L370.1 1333.0 L373.5 1334.9 L376.2 1338.1 L377.5 1342.0 L377.1 1346.1 L375.2 1349.7 L372.2 1352.2 L369.2 1353.4 L366.7 1353.5 L365.5 1352.8 L365.9 1352.0 L367.7 1351.7 L370.4 1352.3 L373.4 1354.0 L375.8 1356.9 L377.1 1360.6 L376.8 1364.4 L375.1 1367.9 L372.4 1370.4 L369.4 1371.8 L366.9 1372.0 L365.6 1371.3 L365.8 1370.4 L367.6 1369.9 L370.5 1370.3 L373.8 1372.0 L376.6 1375.0 L378.2 1379.0 L378.0 1383.2 L376.0 1387.1 L372.8 1389.9 L369.1 1391.2 L366.0 1391.1 M347.9 1341.2 L347.9 1339.6 L349.9 1338.4 L353.3 1338.4 L357.2 1339.8 L360.6 1342.8 L362.6 1346.7 L362.7 1351.1 L361.0 1355.0 L358.0 1358.0 L354.6 1359.6 L351.6 1359.9 L349.8 1359.2 L349.7 1358.2 L351.3 1357.5 L354.1 1357.7 L357.4 1359.1 L360.4 1361.8 L362.2 1365.4 L362.4 1369.4 L361.0 1373.1 L358.3 1376.1 L355.1 1377.8 L352.1 1378.2 L350.2 1377.7 L350.0 1376.6 L351.5 1375.8 L354.4 1375.8 L358.0 1377.1 L361.3 1379.8 L363.4 1383.6 L363.8 1388.0 L362.3 1392.1 L359.1 1395.4 L355.2 1397.2 L351.5 1397.5 L349.2 1396.5 M343.3 1340.3 L346.3 1344.2 L347.6 1348.9 L346.9 1353.7 L344.4 1357.6 L341.0 1360.1 L337.5 1361.0 L334.9 1360.5 L333.9 1359.2 L334.6 1357.8 L336.9 1357.2 L340.1 1357.8 L343.3 1359.9 L345.8 1363.2 L346.9 1367.4 L346.4 1371.6 L344.4 1375.2 L341.5 1377.7 L338.5 1378.7 L336.1 1378.5 L335.1 1377.5 L335.7 1376.4 L337.7 1375.8 L340.7 1376.3 L344.0 1378.2 L346.6 1381.5 L347.9 1385.7 L347.5 1390.1 L345.4 1394.0 L342.2 1396.7 L338.8 1397.8 L336.0 1397.4 L334.6 1396.0 L335.2 1394.3 L337.6 1393.2 L341.2 1393.5 L345.2 1395.5 M317.6 1356.8 L316.7 1355.2 L318.0 1353.7 L320.9 1353.1 L324.8 1353.9 L328.5 1356.2 L331.2 1359.9 L332.1 1364.2 L331.2 1368.5 L328.7 1372.0 L325.4 1374.2 L322.1 1374.9 L319.8 1374.5 L319.0 1373.5 L320.0 1372.5 L322.4 1372.2 L325.7 1373.1 L328.9 1375.3 L331.3 1378.6 L332.2 1382.6 L331.5 1386.6 L329.3 1390.0 L326.2 1392.2 L323.0 1393.1 L320.7 1392.9 L319.8 1391.8 L320.6 1390.7 L323.0 1390.2 L326.5 1390.9 L330.1 1393.0 L332.9 1396.5 L334.1 1400.9 L333.4 1405.3 L330.8 1409.1 L327.1 1411.6 L323.2 1412.4 L320.2 1411.8 M316.4 1359.1 L316.3 1364.0 L314.4 1368.3 L311.2 1371.3 L307.7 1372.8 L304.7 1372.6 L303.1 1371.5 L303.3 1370.0 L305.2 1369.0 L308.2 1369.2 L311.6 1370.8 L314.4 1373.7 L316.0 1377.7 L316.1 1381.9 L314.6 1385.8 L312.0 1388.6 L309.0 1390.1 L306.5 1390.3 L305.0 1389.5 L305.1 1388.4 L306.7 1387.6 L309.4 1387.8 L312.6 1389.3 L315.4 1392.1 L317.1 1395.9 L317.3 1400.2 L315.9 1404.2 L313.2 1407.2 L310.0 1408.8 L307.0 1409.0 L305.3 1408.0 L305.2 1406.5 L307.0 1405.2 L310.1 1405.1 L314.0 1406.4 L317.4 1409.5 L319.6 1413.8 M294.4 1373.7 L290.8 1374.6 L288.1 1374.3 L287.0 1373.2 L287.8 1372.0 L290.1 1371.4 L293.5 1372.1 L296.9 1374.1 L299.5 1377.2 L300.7 1381.1 L300.3 1385.0 L298.3 1388.4 L295.5 1390.8 L292.6 1391.9 L290.4 1391.9 L289.4 1391.3 L290.0 1390.5 L292.0 1390.2 L294.9 1390.9 L297.9 1392.7 L300.4 1395.7 L301.6 1399.3 L301.3 1403.2 L299.6 1406.5 L296.8 1409.0 L293.9 1410.2 L291.5 1410.2 L290.3 1409.5 L290.8 1408.5 L292.9 1408.0 L296.1 1408.5 L299.6 1410.3 L302.5 1413.4 L304.0 1417.4 L303.7 1421.7 L301.6 1425.5 L298.3 1428.2 M271.7 1372.0 L274.8 1371.5 L278.6 1372.4 L282.1 1374.9 L284.6 1378.6 L285.4 1382.9 L284.4 1387.1 L282.0 1390.4 L278.8 1392.5 L275.9 1393.1 L273.9 1392.7 L273.4 1391.7 L274.5 1390.7 L276.9 1390.6 L280.0 1391.6 L283.1 1393.8 L285.2 1397.2 L286.0 1401.1 L285.3 1404.9 L283.2 1408.1 L280.4 1410.2 L277.6 1411.0 L275.6 1410.7 L275.0 1409.8 L276.0 1408.9 L278.4 1408.6 L281.6 1409.5 L284.8 1411.7 L287.2 1415.1 L288.2 1419.2 L287.5 1423.4 L285.2 1426.9 L281.9 1429.1 L278.5 1429.9 L276.1 1429.3 L275.2 1427.9 L276.3 1426.4 M379.5 1340.0 L378.7 1338.8 L379.8 1337.6 L382.6 1337.3 L386.1 1338.3 L389.5 1340.7 L391.8 1344.1 L392.5 1348.2 L391.5 1352.1 L389.1 1355.3 L385.9 1357.4 L382.9 1358.3 L380.8 1358.1 L380.1 1357.4 L380.9 1356.7 L383.2 1356.7 L386.1 1357.7 L389.0 1359.8 L391.1 1363.0 L391.9 1366.8 L391.1 1370.5 L388.9 1373.6 L386.0 1375.8 L383.0 1376.7 L380.8 1376.7 L379.9 1375.9 L380.7 1375.2 L383.0 1375.0 L386.1 1375.8 L389.4 1378.0 L391.9 1381.3 L392.8 1385.3 L392.0 1389.5 L389.5 1393.0 L386.0 1395.3 L382.3 1396.2 L379.6 1395.8 M377.6 1342.9 L377.6 1347.7 L375.7 1351.9 L372.5 1355.0 L368.9 1356.6 L365.8 1356.6 L364.0 1355.7 L364.1 1354.4 L365.8 1353.5 L368.7 1353.6 L372.0 1355.2 L374.8 1358.0 L376.5 1361.8 L376.5 1366.0 L375.1 1369.8 L372.4 1372.6 L369.4 1374.2 L366.7 1374.6 L365.1 1374.0 L365.0 1373.0 L366.4 1372.3 L369.1 1372.5 L372.2 1373.9 L375.0 1376.6 L376.7 1380.4 L376.9 1384.5 L375.5 1388.5 L372.8 1391.5 L369.5 1393.2 L366.5 1393.6 L364.6 1392.7 L364.3 1391.4 L365.9 1390.3 L369.0 1390.1 L372.7 1391.4 L376.2 1394.4 L378.4 1398.6 M348.9 1347.9 L352.4 1347.8 L356.4 1349.3 L359.8 1352.4 L361.8 1356.6 L361.9 1361.2 L360.2 1365.3 L357.1 1368.4 L353.6 1370.0 L350.6 1370.1 L348.9 1369.3 L348.8 1368.1 L350.5 1367.2 L353.3 1367.4 L356.6 1368.8 L359.5 1371.6 L361.2 1375.4 L361.4 1379.5 L360.0 1383.4 L357.4 1386.3 L354.2 1388.0 L351.4 1388.4 L349.6 1387.7 L349.5 1386.6 L350.9 1385.7 L353.7 1385.8 L357.1 1387.1 L360.3 1389.8 L362.3 1393.7 L362.6 1398.1 L361.1 1402.4 L358.1 1405.6 L354.4 1407.4 L351.0 1407.6 L348.8 1406.6 L348.5 1404.9 L350.3 1403.4 M345.4 1356.2 L346.8 1360.6 L346.1 1365.1 L343.7 1368.9 L340.1 1371.3 L336.5 1372.4 L333.8 1372.1 L332.7 1371.1 L333.4 1370.0 L335.7 1369.5 L339.0 1370.2 L342.3 1372.2 L344.9 1375.3 L346.1 1379.2 L345.6 1383.2 L343.6 1386.6 L340.7 1389.0 L337.6 1390.1 L335.2 1390.2 L334.1 1389.5 L334.6 1388.6 L336.6 1388.2 L339.7 1388.9 L343.0 1390.7 L345.6 1393.8 L347.0 1397.6 L346.6 1401.7 L344.6 1405.3 L341.5 1407.9 L338.0 1409.1 L335.2 1409.0 L333.8 1408.0 L334.3 1406.7 L336.6 1406.0 L340.2 1406.3 L344.2 1408.2 L347.5 1411.6 M325.8 1360.6 L329.3 1364.1 L331.1 1368.8 L330.9 1373.7 L328.8 1378.0 L325.5 1381.0 L321.8 1382.3 L318.9 1382.0 L317.4 1380.8 L317.7 1379.3 L319.7 1378.3 L322.8 1378.6 L326.3 1380.3 L329.1 1383.4 L330.7 1387.5 L330.6 1391.8 L328.9 1395.7 L326.2 1398.5 L323.0 1400.0 L320.3 1400.0 L318.9 1399.1 L319.1 1397.8 L320.8 1397.0 L323.8 1397.1 L327.2 1398.7 L330.2 1401.7 L331.9 1405.8 L332.0 1410.4 L330.3 1414.5 L327.2 1417.6 L323.7 1419.1 L320.5 1419.1 L318.7 1417.8 L318.8 1416.0 L320.8 1414.6 L324.4 1414.4 L328.6 1415.9 M313.9 1378.3 L310.8 1381.7 L307.1 1383.5 L303.8 1383.8 L301.7 1383.0 L301.5 1381.6 L303.0 1380.6 L305.9 1380.5 L309.4 1381.7 L312.6 1384.4 L314.6 1388.0 L315.0 1392.2 L313.9 1396.0 L311.4 1399.1 L308.4 1400.9 L305.6 1401.5 L303.9 1401.0 L303.6 1400.1 L304.8 1399.4 L307.3 1399.4 L310.5 1400.6 L313.4 1403.0 L315.5 1406.5 L316.0 1410.5 L315.0 1414.4 L312.6 1417.6 L309.5 1419.5 L306.5 1420.1 L304.5 1419.6 L304.0 1418.4 L305.3 1417.4 L308.1 1417.1 L311.8 1418.1 L315.3 1420.7 L317.8 1424.5 L318.5 1429.1 L317.3 1433.5 M299.3 1384.6 L296.8 1388.4 L293.2 1390.9 L289.5 1391.8 L286.8 1391.5 L285.7 1390.3 L286.5 1389.1 L289.0 1388.6 L292.4 1389.3 L295.9 1391.3 L298.6 1394.5 L299.8 1398.5 L299.3 1402.5 L297.3 1405.9 L294.4 1408.2 L291.4 1409.3 L289.0 1409.3 L288.0 1408.6 L288.7 1407.8 L290.8 1407.4 L293.8 1408.1 L297.1 1410.0 L299.7 1413.0 L301.0 1416.8 L300.7 1420.8 L298.8 1424.3 L295.8 1426.8 L292.5 1428.0 L289.9 1428.0 L288.7 1427.0 L289.2 1425.9 L291.6 1425.2 L295.1 1425.6 L299.0 1427.5 L302.2 1430.8 L303.8 1435.1 L303.4 1439.7 M396.9 1347.4 L394.5 1346.7 L393.8 1345.4 L395.0 1344.3 L397.7 1344.1 L401.1 1345.1 L404.4 1347.6 L406.6 1351.1 L407.2 1355.2 L406.1 1359.1 L403.6 1362.3 L400.5 1364.3 L397.6 1365.1 L395.5 1364.9 L394.9 1364.1 L395.8 1363.5 L398.0 1363.5 L400.9 1364.5 L403.8 1366.8 L405.8 1370.0 L406.5 1373.8 L405.6 1377.6 L403.4 1380.8 L400.4 1382.9 L397.4 1383.8 L395.2 1383.6 L394.4 1382.8 L395.3 1381.9 L397.6 1381.7 L400.8 1382.6 L404.1 1384.9 L406.5 1388.3 L407.4 1392.5 L406.4 1396.7 L403.8 1400.3 L400.2 1402.6 L396.5 1403.4 M389.4 1354.7 L385.8 1357.1 L382.3 1358.2 L379.6 1357.9 L378.5 1357.0 L379.2 1356.0 L381.4 1355.7 L384.6 1356.4 L387.8 1358.5 L390.2 1361.6 L391.2 1365.4 L390.6 1369.2 L388.6 1372.5 L385.8 1374.8 L382.9 1376.0 L380.6 1376.1 L379.6 1375.6 L380.1 1375.0 L382.0 1374.8 L384.7 1375.6 L387.6 1377.5 L389.9 1380.4 L391.0 1384.1 L390.6 1387.8 L388.7 1391.2 L385.9 1393.6 L382.8 1394.8 L380.4 1394.9 L379.1 1394.3 L379.6 1393.4 L381.6 1393.0 L384.7 1393.6 L388.1 1395.4 L390.9 1398.6 L392.3 1402.6 L391.9 1406.9 L389.6 1410.7 M376.6 1359.0 L375.0 1363.2 L371.9 1366.4 L368.4 1368.1 L365.2 1368.4 L363.3 1367.7 L363.1 1366.5 L364.6 1365.7 L367.4 1365.8 L370.6 1367.2 L373.5 1369.8 L375.3 1373.4 L375.5 1377.4 L374.2 1381.2 L371.8 1384.1 L368.8 1385.9 L366.2 1386.4 L364.5 1386.1 L364.2 1385.3 L365.4 1384.7 L367.9 1384.8 L370.8 1386.1 L373.6 1388.6 L375.4 1392.1 L375.8 1396.1 L374.7 1399.9 L372.2 1403.0 L369.1 1404.8 L366.1 1405.4 L364.2 1404.9 L363.7 1403.8 L365.0 1402.9 L367.8 1402.7 L371.3 1403.9 L374.7 1406.5 L377.0 1410.4 L377.5 1414.9 M358.4 1371.2 L354.6 1373.9 L350.6 1374.8 L347.6 1374.2 L346.4 1372.7 L347.1 1371.1 L349.6 1370.3 L353.1 1370.8 L356.7 1372.9 L359.5 1376.4 L360.7 1380.7 L360.2 1385.1 L358.0 1388.8 L354.9 1391.3 L351.7 1392.4 L349.2 1392.2 L348.0 1391.2 L348.6 1390.1 L350.7 1389.5 L353.7 1390.1 L357.0 1392.0 L359.7 1395.3 L361.0 1399.3 L360.6 1403.6 L358.6 1407.4 L355.5 1410.1 L352.1 1411.3 L349.3 1411.1 L348.0 1409.9 L348.4 1408.5 L350.7 1407.6 L354.2 1407.9 L358.0 1409.8 L361.2 1413.3 L362.8 1417.8 L362.4 1422.7 L360.0 1427.1 M333.0 1378.0 L331.0 1377.0 L330.9 1375.6 L332.7 1374.5 L335.9 1374.6 L339.5 1376.0 L342.6 1378.9 L344.4 1382.7 L344.6 1386.9 L343.2 1390.8 L340.5 1393.7 L337.4 1395.4 L334.6 1395.8 L333.0 1395.3 L332.9 1394.4 L334.4 1393.8 L337.0 1394.0 L340.0 1395.4 L342.8 1398.0 L344.6 1401.5 L344.8 1405.5 L343.6 1409.2 L341.2 1412.1 L338.2 1413.9 L335.4 1414.4 L333.7 1413.9 L333.4 1412.9 L334.8 1412.2 L337.5 1412.2 L340.9 1413.5 L344.1 1416.1 L346.2 1419.9 L346.6 1424.2 L345.2 1428.4 L342.3 1431.7 L338.7 1433.6 L335.2 1433.9 M329.4 1381.0 L328.5 1385.7 L326.0 1389.5 L322.6 1391.9 L319.3 1392.7 L316.9 1392.1 L316.1 1390.9 L317.0 1389.6 L319.3 1389.2 L322.5 1389.9 L325.7 1392.2 L328.0 1395.6 L329.0 1399.7 L328.4 1403.8 L326.4 1407.2 L323.6 1409.5 L320.8 1410.5 L318.7 1410.3 L317.9 1409.4 L318.6 1408.5 L320.6 1408.2 L323.5 1408.9 L326.6 1411.0 L328.9 1414.2 L330.0 1418.3 L329.5 1422.4 L327.5 1426.0 L324.6 1428.5 L321.5 1429.5 L319.1 1429.2 L318.0 1428.1 L318.7 1426.7 L321.1 1426.0 L324.5 1426.5 L328.1 1428.6 L331.0 1432.2 L332.4 1436.8 M312.9 1392.3 L310.1 1395.9 L306.4 1398.1 L302.9 1398.7 L300.5 1398.1 L299.9 1396.7 L301.1 1395.5 L303.8 1395.1 L307.2 1396.1 L310.5 1398.5 L312.9 1402.0 L313.7 1406.2 L312.8 1410.2 L310.6 1413.6 L307.6 1415.7 L304.7 1416.5 L302.7 1416.2 L302.0 1415.3 L303.0 1414.5 L305.3 1414.2 L308.4 1415.2 L311.5 1417.4 L313.8 1420.7 L314.8 1424.8 L314.1 1428.8 L311.9 1432.3 L308.8 1434.5 L305.7 1435.4 L303.4 1435.0 L302.5 1433.9 L303.5 1432.7 L306.1 1432.2 L309.7 1432.9 L313.4 1435.1 L316.2 1438.8 L317.4 1443.4 L316.5 1448.0 M415.1 1353.5 L411.6 1354.0 L409.4 1353.2 L408.9 1352.0 L410.2 1350.9 L412.9 1350.8 L416.2 1352.0 L419.3 1354.6 L421.3 1358.2 L421.7 1362.3 L420.5 1366.2 L418.0 1369.3 L415.0 1371.2 L412.1 1371.9 L410.2 1371.6 L409.7 1370.8 L410.7 1370.2 L413.0 1370.2 L415.9 1371.4 L418.6 1373.8 L420.5 1377.1 L421.0 1381.0 L420.0 1384.8 L417.7 1387.9 L414.7 1390.0 L411.7 1390.7 L409.6 1390.4 L409.0 1389.5 L410.0 1388.7 L412.4 1388.5 L415.6 1389.5 L418.8 1391.9 L421.1 1395.5 L421.8 1399.8 L420.7 1404.1 L417.9 1407.6 L414.2 1409.8 M407.9 1356.7 L406.1 1361.1 L402.8 1364.5 L398.8 1366.3 L395.3 1366.6 L393.1 1365.7 L392.8 1364.4 L394.4 1363.4 L397.3 1363.4 L400.8 1364.7 L404.0 1367.4 L406.0 1371.1 L406.3 1375.3 L404.9 1379.2 L402.2 1382.3 L398.9 1384.1 L395.9 1384.6 L394.0 1384.2 L393.6 1383.3 L394.9 1382.5 L397.5 1382.6 L400.7 1383.8 L403.7 1386.4 L405.7 1389.9 L406.2 1394.1 L404.9 1398.0 L402.2 1401.2 L398.8 1403.2 L395.5 1403.8 L393.2 1403.2 L392.6 1401.9 L394.0 1400.8 L397.0 1400.5 L400.8 1401.6 L404.5 1404.3 L407.0 1408.3 L407.6 1413.0 M389.0 1369.2 L385.0 1371.9 L381.0 1372.9 L377.9 1372.3 L376.6 1370.9 L377.3 1369.3 L379.7 1368.5 L383.2 1369.0 L386.8 1371.1 L389.6 1374.5 L390.9 1378.8 L390.3 1383.2 L388.2 1386.9 L385.0 1389.5 L381.7 1390.6 L379.1 1390.5 L377.9 1389.5 L378.4 1388.4 L380.4 1387.9 L383.5 1388.4 L386.7 1390.3 L389.4 1393.5 L390.7 1397.6 L390.3 1401.9 L388.3 1405.7 L385.2 1408.4 L381.7 1409.6 L378.9 1409.5 L377.4 1408.4 L377.8 1407.0 L380.0 1406.1 L383.5 1406.3 L387.3 1408.2 L390.5 1411.7 L392.2 1416.2 L391.8 1421.1 L389.4 1425.5 M360.5 1370.9 L362.3 1369.8 L365.6 1369.7 L369.5 1371.2 L372.9 1374.0 L374.9 1377.9 L375.1 1382.2 L373.5 1386.1 L370.6 1389.1 L367.3 1390.8 L364.3 1391.2 L362.5 1390.7 L362.3 1389.8 L363.8 1389.2 L366.5 1389.4 L369.7 1390.8 L372.5 1393.4 L374.3 1396.9 L374.6 1400.9 L373.3 1404.6 L370.8 1407.5 L367.7 1409.3 L364.9 1409.9 L363.0 1409.5 L362.7 1408.6 L364.0 1407.9 L366.7 1408.0 L370.1 1409.3 L373.3 1411.9 L375.4 1415.5 L375.8 1419.8 L374.5 1423.8 L371.6 1427.1 L367.9 1429.0 L364.4 1429.4 L362.1 1428.6 L361.6 1427.2 M349.5 1373.3 L353.7 1374.7 L357.4 1377.9 L359.7 1382.4 L359.9 1387.4 L358.1 1391.9 L355.0 1395.2 L351.3 1396.9 L348.1 1397.1 L346.2 1396.0 L346.0 1394.5 L347.7 1393.4 L350.6 1393.3 L354.1 1394.7 L357.1 1397.6 L359.1 1401.6 L359.3 1406.0 L357.9 1410.1 L355.3 1413.3 L352.0 1415.1 L349.1 1415.5 L347.2 1414.7 L347.0 1413.4 L348.4 1412.3 L351.2 1412.1 L354.7 1413.4 L358.0 1416.2 L360.1 1420.2 L360.5 1424.9 L359.1 1429.4 L356.2 1432.8 L352.4 1434.8 L348.9 1435.0 L346.6 1433.8 L346.2 1432.0 L347.9 1430.3 L351.3 1429.7 M340.1 1393.1 L336.4 1395.4 L332.9 1396.0 L330.4 1395.4 L329.7 1394.2 L330.8 1393.1 L333.4 1392.8 L336.8 1393.7 L340.1 1396.1 L342.4 1399.6 L343.2 1403.6 L342.4 1407.6 L340.2 1410.9 L337.2 1413.1 L334.3 1414.0 L332.3 1413.8 L331.6 1413.0 L332.5 1412.3 L334.7 1412.1 L337.7 1413.1 L340.6 1415.3 L342.9 1418.5 L343.8 1422.5 L343.1 1426.4 L341.0 1429.8 L338.1 1432.0 L335.0 1433.0 L332.7 1432.8 L331.9 1431.8 L332.7 1430.8 L335.1 1430.4 L338.5 1431.2 L342.0 1433.4 L344.7 1436.9 L345.9 1441.3 L345.1 1445.8 L342.5 1449.6 M321.9 1389.6 L325.6 1392.7 L327.8 1397.0 L328.1 1401.8 L326.4 1406.2 L323.3 1409.4 L319.7 1411.1 L316.6 1411.3 L314.7 1410.4 L314.6 1409.1 L316.3 1408.2 L319.2 1408.2 L322.7 1409.6 L325.7 1412.4 L327.6 1416.2 L327.9 1420.4 L326.6 1424.4 L324.0 1427.5 L320.9 1429.2 L318.1 1429.7 L316.3 1429.1 L316.1 1428.0 L317.6 1427.1 L320.3 1427.1 L323.7 1428.4 L326.9 1431.1 L329.0 1434.9 L329.4 1439.3 L328.1 1443.5 L325.3 1446.9 L321.8 1448.8 L318.5 1449.1 L316.3 1448.2 L315.9 1446.7 L317.6 1445.3 L320.9 1444.9 L325.0 1446.0 M433.5 1347.6 L436.5 1351.0 L437.8 1355.4 L437.2 1359.8 L434.8 1363.6 L431.5 1366.1 L428.0 1367.3 L425.2 1367.2 L424.0 1366.3 L424.5 1365.3 L426.5 1364.9 L429.4 1365.5 L432.5 1367.5 L434.9 1370.5 L436.1 1374.3 L435.6 1378.3 L433.7 1381.8 L430.9 1384.2 L427.8 1385.5 L425.3 1385.7 L424.1 1385.1 L424.4 1384.3 L426.2 1383.9 L429.0 1384.5 L432.0 1386.3 L434.6 1389.3 L435.9 1393.2 L435.5 1397.3 L433.6 1400.9 L430.5 1403.6 L427.0 1405.0 L424.1 1405.0 L422.6 1404.0 L422.8 1402.8 L424.9 1402.0 L428.3 1402.3 L432.1 1404.1 M417.5 1354.7 L420.8 1358.5 L422.4 1363.3 L421.9 1368.3 L419.5 1372.6 L415.9 1375.5 L412.1 1376.7 L409.1 1376.3 L407.6 1375.0 L408.0 1373.4 L410.1 1372.6 L413.3 1372.9 L416.7 1374.8 L419.4 1378.2 L420.8 1382.4 L420.4 1386.8 L418.5 1390.7 L415.4 1393.5 L412.1 1394.8 L409.4 1394.8 L408.0 1393.7 L408.2 1392.5 L410.1 1391.7 L413.1 1392.0 L416.5 1393.7 L419.3 1397.0 L420.9 1401.2 L420.6 1405.8 L418.6 1410.0 L415.3 1413.0 L411.6 1414.4 L408.4 1414.2 L406.6 1412.8 L406.8 1411.0 L408.9 1409.6 L412.6 1409.6 L416.8 1411.3 M399.8 1376.4 L395.8 1377.4 L392.6 1376.8 L391.2 1375.3 L391.8 1373.6 L394.1 1372.7 L397.6 1373.1 L401.2 1375.2 L404.0 1378.6 L405.4 1383.0 L404.9 1387.5 L402.7 1391.3 L399.6 1394.0 L396.3 1395.2 L393.7 1395.1 L392.4 1394.1 L392.8 1392.9 L394.8 1392.3 L397.7 1392.8 L400.9 1394.7 L403.6 1397.9 L404.9 1402.0 L404.6 1406.3 L402.6 1410.2 L399.6 1412.9 L396.2 1414.2 L393.4 1414.1 L391.9 1413.0 L392.2 1411.6 L394.3 1410.7 L397.6 1411.0 L401.3 1412.8 L404.4 1416.2 L406.1 1420.7 L405.8 1425.6 L403.5 1430.0 L399.8 1433.1 M390.2 1379.1 L388.4 1383.4 L385.2 1386.7 L381.4 1388.4 L378.1 1388.6 L376.1 1387.7 L376.0 1386.4 L377.6 1385.5 L380.6 1385.6 L384.0 1387.1 L387.0 1389.9 L388.8 1393.6 L389.0 1397.8 L387.6 1401.7 L384.9 1404.7 L381.8 1406.4 L379.0 1406.9 L377.3 1406.4 L377.0 1405.5 L378.4 1404.9 L381.0 1405.0 L384.1 1406.4 L387.0 1409.0 L388.9 1412.6 L389.2 1416.8 L387.9 1420.7 L385.3 1423.8 L381.9 1425.7 L378.8 1426.2 L376.8 1425.6 L376.4 1424.4 L377.9 1423.3 L380.8 1423.1 L384.5 1424.4 L388.1 1427.2 L390.4 1431.2 L390.9 1435.9 M366.2 1391.9 L362.8 1392.5 L360.5 1391.9 L359.9 1390.7 L361.2 1389.7 L363.9 1389.6 L367.2 1390.7 L370.3 1393.2 L372.5 1396.7 L373.0 1400.8 L372.0 1404.7 L369.7 1407.8 L366.7 1409.9 L363.9 1410.7 L362.0 1410.5 L361.5 1409.8 L362.5 1409.2 L364.7 1409.2 L367.6 1410.3 L370.4 1412.6 L372.4 1415.9 L373.1 1419.8 L372.2 1423.6 L370.1 1426.7 L367.2 1428.8 L364.3 1429.7 L362.2 1429.5 L361.5 1428.7 L362.5 1427.9 L364.8 1427.7 L368.1 1428.7 L371.4 1431.0 L373.8 1434.5 L374.6 1438.8 L373.7 1443.1 L371.1 1446.6 L367.5 1448.9 M343.1 1396.8 L343.1 1394.9 L345.0 1393.4 L348.3 1393.2 L352.2 1394.7 L355.6 1397.8 L357.6 1402.1 L357.8 1406.8 L356.2 1411.2 L353.3 1414.4 L349.9 1416.1 L347.0 1416.3 L345.2 1415.4 L345.1 1414.2 L346.6 1413.2 L349.4 1413.2 L352.7 1414.6 L355.6 1417.5 L357.4 1421.4 L357.7 1425.7 L356.4 1429.8 L353.8 1433.0 L350.6 1434.8 L347.7 1435.2 L345.9 1434.5 L345.6 1433.2 L347.1 1432.1 L349.9 1431.9 L353.4 1433.2 L356.7 1436.0 L358.9 1440.1 L359.4 1444.9 L357.9 1449.5 L354.9 1453.1 L351.1 1455.0 L347.5 1455.2 L345.1 1453.9 M342.4 1400.9 L342.4 1406.1 L340.4 1410.8 L337.0 1414.1 L333.1 1415.7 L329.9 1415.5 L328.1 1414.2 L328.2 1412.6 L330.1 1411.4 L333.3 1411.4 L336.9 1413.0 L340.0 1416.1 L341.8 1420.3 L341.9 1424.9 L340.3 1429.1 L337.5 1432.1 L334.3 1433.8 L331.5 1434.0 L329.8 1433.1 L329.8 1431.8 L331.5 1430.8 L334.3 1430.9 L337.7 1432.3 L340.8 1435.3 L342.7 1439.4 L342.9 1444.0 L341.4 1448.3 L338.5 1451.6 L335.0 1453.3 L331.8 1453.5 L329.9 1452.4 L329.7 1450.6 L331.5 1449.2 L334.9 1448.9 L339.0 1450.2 L342.7 1453.4 L345.1 1458.1 M446.7 1364.1 L442.8 1365.2 L439.8 1364.9 L438.4 1363.8 L438.9 1362.6 L441.1 1362.0 L444.3 1362.5 L447.7 1364.5 L450.3 1367.7 L451.5 1371.7 L450.9 1375.8 L448.9 1379.4 L445.9 1381.9 L442.7 1383.1 L440.2 1383.2 L438.9 1382.6 L439.3 1381.8 L441.0 1381.5 L443.8 1382.1 L446.8 1384.0 L449.2 1386.9 L450.4 1390.7 L450.0 1394.7 L448.2 1398.2 L445.2 1400.8 L442.0 1402.2 L439.3 1402.3 L437.9 1401.6 L438.1 1400.6 L440.0 1400.0 L443.0 1400.4 L446.5 1402.2 L449.4 1405.4 L450.9 1409.5 L450.6 1414.0 L448.4 1418.0 L444.8 1420.9 M424.2 1362.8 L427.5 1363.0 L431.2 1364.7 L434.3 1367.7 L435.9 1371.8 L435.8 1376.1 L433.9 1379.9 L430.9 1382.8 L427.6 1384.3 L424.8 1384.5 L423.2 1383.9 L423.2 1383.1 L424.8 1382.6 L427.4 1383.0 L430.5 1384.6 L433.0 1387.4 L434.5 1391.0 L434.5 1394.9 L433.0 1398.5 L430.4 1401.2 L427.3 1402.9 L424.7 1403.3 L423.1 1402.9 L422.9 1402.1 L424.4 1401.6 L427.0 1401.9 L430.1 1403.4 L432.9 1406.1 L434.6 1409.9 L434.7 1414.0 L433.1 1417.9 L430.2 1420.9 L426.7 1422.6 L423.4 1422.9 L421.5 1422.1 L421.3 1420.8 L423.0 1419.8 M405.3 1376.3 L406.0 1374.4 L408.5 1373.3 L412.3 1373.7 L416.1 1375.8 L419.1 1379.5 L420.4 1384.2 L419.7 1388.9 L417.4 1392.9 L414.1 1395.6 L410.6 1396.7 L407.9 1396.4 L406.6 1395.2 L407.1 1394.0 L409.2 1393.3 L412.3 1393.8 L415.5 1395.8 L418.1 1399.1 L419.3 1403.3 L418.9 1407.7 L416.9 1411.5 L413.8 1414.2 L410.5 1415.5 L407.8 1415.4 L406.5 1414.3 L406.8 1413.0 L408.8 1412.1 L412.0 1412.5 L415.6 1414.4 L418.5 1417.8 L420.0 1422.3 L419.6 1427.1 L417.4 1431.4 L413.8 1434.4 L409.8 1435.6 L406.5 1435.2 L404.7 1433.5 M403.9 1387.4 L401.0 1391.4 L397.1 1393.7 L393.4 1394.3 L390.9 1393.5 L390.1 1392.0 L391.2 1390.6 L393.8 1390.1 L397.3 1391.0 L400.6 1393.5 L402.9 1397.2 L403.6 1401.6 L402.7 1405.9 L400.3 1409.4 L397.2 1411.7 L394.1 1412.5 L391.9 1412.1 L391.1 1411.1 L392.0 1410.1 L394.2 1409.7 L397.3 1410.6 L400.4 1412.9 L402.7 1416.5 L403.5 1420.7 L402.7 1425.0 L400.4 1428.6 L397.2 1431.0 L393.9 1431.9 L391.4 1431.5 L390.4 1430.2 L391.3 1428.8 L393.8 1428.1 L397.4 1428.8 L401.1 1431.2 L403.9 1435.0 L405.0 1439.8 L404.1 1444.8 M382.6 1386.0 L386.1 1389.2 L388.2 1393.8 L388.3 1398.7 L386.5 1403.2 L383.4 1406.5 L379.8 1408.2 L376.6 1408.3 L374.8 1407.3 L374.7 1405.9 L376.3 1404.9 L379.2 1404.9 L382.6 1406.4 L385.5 1409.3 L387.3 1413.3 L387.4 1417.7 L386.0 1421.7 L383.4 1424.9 L380.2 1426.6 L377.4 1427.0 L375.6 1426.3 L375.4 1425.1 L376.9 1424.2 L379.6 1424.2 L382.8 1425.6 L385.9 1428.4 L387.8 1432.4 L388.1 1436.9 L386.7 1441.3 L383.9 1444.6 L380.3 1446.5 L377.0 1446.8 L374.9 1445.8 L374.5 1444.1 L376.1 1442.6 L379.4 1442.2 L383.4 1443.5 M368.3 1407.1 L364.3 1409.2 L360.6 1409.6 L358.2 1408.7 L357.7 1407.2 L359.1 1406.0 L362.0 1405.7 L365.7 1406.8 L369.0 1409.5 L371.3 1413.3 L371.9 1417.7 L370.7 1421.8 L368.2 1425.2 L364.9 1427.2 L361.9 1427.9 L359.9 1427.5 L359.3 1426.5 L360.5 1425.6 L362.9 1425.6 L366.1 1426.7 L369.2 1429.1 L371.4 1432.7 L372.1 1436.9 L371.1 1441.0 L368.7 1444.4 L365.4 1446.6 L362.2 1447.3 L360.0 1446.9 L359.2 1445.7 L360.4 1444.5 L363.1 1444.1 L366.7 1445.1 L370.4 1447.6 L373.0 1451.5 L373.9 1456.2 L372.8 1460.9 L369.8 1464.8 M351.2 1403.8 L354.6 1407.3 L356.4 1411.8 L356.1 1416.5 L353.9 1420.6 L350.5 1423.5 L346.9 1424.8 L343.9 1424.8 L342.5 1423.8 L342.9 1422.6 L344.9 1422.0 L348.0 1422.4 L351.5 1424.3 L354.3 1427.3 L355.8 1431.3 L355.6 1435.5 L353.9 1439.3 L351.0 1442.0 L347.9 1443.5 L345.2 1443.7 L343.8 1443.0 L344.0 1442.0 L345.8 1441.5 L348.8 1441.8 L352.2 1443.5 L355.1 1446.6 L356.8 1450.6 L356.8 1454.9 L355.0 1458.9 L351.9 1461.9 L348.3 1463.4 L345.2 1463.5 L343.5 1462.5 L343.6 1461.0 L345.7 1460.0 L349.3 1460.0 L353.4 1461.7 M453.9 1367.3 L452.5 1365.7 L453.2 1364.1 L455.8 1363.2 L459.5 1363.8 L463.2 1366.0 L466.0 1369.6 L467.2 1374.0 L466.4 1378.5 L463.9 1382.3 L460.5 1384.8 L457.0 1385.8 L454.3 1385.6 L453.1 1384.6 L453.7 1383.5 L455.8 1383.1 L458.8 1383.7 L462.0 1385.8 L464.5 1389.1 L465.6 1393.1 L465.0 1397.3 L462.9 1401.0 L459.7 1403.5 L456.3 1404.7 L453.5 1404.6 L452.2 1403.6 L452.6 1402.5 L454.7 1401.8 L458.0 1402.3 L461.5 1404.3 L464.4 1407.7 L465.8 1412.1 L465.3 1416.7 L462.8 1420.8 L459.0 1423.7 L454.9 1424.8 L451.5 1424.4 M448.2 1378.4 L444.0 1380.7 L440.1 1381.2 L437.4 1380.3 L436.5 1378.6 L437.7 1377.1 L440.5 1376.6 L444.0 1377.5 L447.5 1380.1 L449.8 1383.9 L450.5 1388.4 L449.4 1392.8 L446.8 1396.4 L443.5 1398.6 L440.2 1399.3 L437.9 1398.9 L437.1 1397.7 L438.0 1396.7 L440.3 1396.3 L443.5 1397.3 L446.6 1399.6 L448.9 1403.2 L449.6 1407.5 L448.7 1411.8 L446.3 1415.5 L442.9 1417.8 L439.5 1418.7 L436.9 1418.2 L435.9 1416.8 L436.8 1415.4 L439.3 1414.8 L442.9 1415.5 L446.6 1417.9 L449.4 1421.8 L450.5 1426.6 L449.4 1431.6 L446.4 1435.7 M434.0 1378.1 L435.1 1382.4 L434.3 1386.8 L431.8 1390.4 L428.4 1392.8 L424.9 1393.9 L422.4 1393.7 L421.4 1392.8 L422.1 1392.0 L424.2 1391.7 L427.2 1392.6 L430.2 1394.7 L432.5 1397.9 L433.4 1401.7 L432.8 1405.6 L430.8 1408.9 L427.9 1411.2 L425.0 1412.4 L422.7 1412.5 L421.7 1412.0 L422.2 1411.3 L424.1 1411.2 L426.9 1412.0 L429.8 1414.0 L432.2 1417.0 L433.2 1420.9 L432.7 1424.9 L430.7 1428.4 L427.6 1430.9 L424.4 1432.1 L421.7 1432.1 L420.5 1431.2 L420.9 1430.2 L423.1 1429.6 L426.4 1430.2 L430.1 1432.2 L433.0 1435.6 M415.4 1384.7 L418.3 1388.5 L419.3 1393.1 L418.4 1397.6 L415.6 1401.3 L412.0 1403.7 L408.3 1404.6 L405.7 1404.3 L404.7 1403.2 L405.6 1402.2 L408.0 1401.9 L411.3 1402.8 L414.5 1405.0 L417.0 1408.3 L417.9 1412.4 L417.1 1416.4 L414.9 1419.9 L411.8 1422.2 L408.6 1423.3 L406.2 1423.2 L405.2 1422.5 L405.9 1421.6 L408.1 1421.3 L411.2 1422.1 L414.4 1424.2 L417.0 1427.6 L418.1 1431.7 L417.4 1435.9 L415.1 1439.6 L411.7 1442.1 L408.1 1443.2 L405.3 1442.9 L404.0 1441.8 L404.7 1440.5 L407.2 1439.7 L411.0 1440.3 L415.0 1442.5 M390.6 1404.5 L388.1 1403.3 L387.6 1401.5 L389.2 1400.0 L392.4 1399.7 L396.2 1400.9 L399.7 1403.8 L402.0 1407.9 L402.5 1412.5 L401.1 1416.9 L398.3 1420.3 L394.8 1422.3 L391.6 1422.8 L389.5 1422.2 L389.1 1421.0 L390.3 1420.0 L393.0 1419.9 L396.2 1421.1 L399.3 1423.7 L401.4 1427.5 L402.0 1431.8 L400.8 1436.1 L398.3 1439.4 L394.9 1441.5 L391.7 1442.2 L389.5 1441.6 L388.9 1440.3 L390.1 1439.2 L392.8 1438.8 L396.5 1439.8 L400.0 1442.5 L402.5 1446.5 L403.2 1451.3 L402.0 1456.0 L398.9 1459.9 L394.9 1462.1 L390.9 1462.6 M386.8 1408.4 L385.4 1412.9 L382.3 1416.3 L378.6 1418.3 L375.1 1418.9 L372.9 1418.3 L372.4 1417.1 L373.8 1416.2 L376.6 1416.2 L380.0 1417.5 L383.1 1420.0 L385.2 1423.7 L385.7 1427.8 L384.6 1431.7 L382.1 1434.8 L379.0 1436.8 L376.1 1437.6 L374.1 1437.4 L373.6 1436.6 L374.7 1436.0 L377.2 1436.1 L380.3 1437.2 L383.3 1439.7 L385.4 1443.1 L386.1 1447.2 L385.0 1451.2 L382.6 1454.5 L379.3 1456.6 L376.1 1457.4 L373.8 1457.1 L373.1 1456.0 L374.3 1455.0 L377.0 1454.7 L380.7 1455.8 L384.4 1458.3 L387.0 1462.1 L387.9 1466.7 M354.8 1415.6 L356.7 1414.1 L360.2 1413.9 L364.3 1415.3 L367.8 1418.4 L370.0 1422.7 L370.3 1427.5 L368.7 1431.9 L365.7 1435.3 L362.1 1437.1 L359.0 1437.4 L357.1 1436.6 L356.9 1435.4 L358.4 1434.4 L361.2 1434.5 L364.6 1435.9 L367.7 1438.7 L369.6 1442.6 L370.0 1446.9 L368.7 1451.1 L366.1 1454.3 L362.8 1456.2 L359.8 1456.7 L357.8 1456.1 L357.5 1454.9 L358.9 1453.9 L361.7 1453.8 L365.3 1455.0 L368.7 1457.8 L370.9 1461.9 L371.5 1466.6 L370.1 1471.1 L367.0 1474.7 L363.2 1476.8 L359.5 1477.1 L357.0 1476.1 L356.5 1474.2 M481.0 1364.0 L483.0 1368.5 L482.9 1373.4 L480.7 1377.8 L477.2 1380.9 L473.3 1382.5 L469.9 1382.5 L468.0 1381.5 L468.0 1380.1 L469.7 1379.2 L472.7 1379.4 L476.1 1381.0 L479.0 1384.0 L480.6 1388.0 L480.6 1392.3 L478.8 1396.2 L475.9 1399.1 L472.5 1400.8 L469.6 1401.1 L467.8 1400.4 L467.6 1399.4 L469.1 1398.6 L471.8 1398.8 L475.1 1400.3 L478.0 1403.1 L479.8 1407.0 L479.9 1411.4 L478.2 1415.6 L475.1 1418.7 L471.4 1420.5 L468.0 1420.7 L465.8 1419.8 L465.5 1418.3 L467.2 1417.0 L470.5 1416.8 L474.5 1418.2 L478.1 1421.3 M458.9 1384.1 L454.9 1384.8 L452.2 1384.0 L451.3 1382.6 L452.4 1381.4 L455.1 1381.0 L458.7 1381.9 L462.1 1384.4 L464.5 1388.1 L465.2 1392.4 L464.1 1396.5 L461.6 1400.0 L458.2 1402.2 L454.9 1403.0 L452.6 1402.7 L451.8 1401.9 L452.6 1401.0 L454.9 1400.9 L458.0 1401.9 L461.0 1404.1 L463.3 1407.5 L464.0 1411.6 L463.1 1415.7 L460.8 1419.1 L457.5 1421.4 L454.1 1422.3 L451.6 1422.1 L450.6 1421.1 L451.4 1420.0 L453.8 1419.6 L457.2 1420.4 L460.8 1422.7 L463.5 1426.3 L464.6 1430.8 L463.6 1435.4 L460.7 1439.3 L456.7 1441.8 M436.2 1384.0 L439.0 1383.6 L442.6 1384.6 L446.1 1387.1 L448.5 1390.9 L449.2 1395.2 L448.1 1399.4 L445.5 1402.8 L442.2 1405.0 L439.0 1405.8 L436.7 1405.5 L436.0 1404.7 L436.9 1403.9 L439.1 1403.9 L442.1 1405.0 L445.0 1407.3 L447.1 1410.6 L447.7 1414.5 L446.9 1418.4 L444.6 1421.7 L441.7 1423.8 L438.7 1424.8 L436.5 1424.7 L435.6 1424.0 L436.4 1423.3 L438.6 1423.1 L441.6 1424.1 L444.7 1426.3 L447.1 1429.7 L447.9 1433.9 L447.1 1438.1 L444.6 1441.6 L441.1 1444.0 L437.6 1444.9 L434.9 1444.5 L433.8 1443.3 L434.7 1442.0 M431.3 1400.6 L427.8 1403.6 L424.0 1405.0 L421.0 1404.9 L419.4 1403.9 L419.6 1402.7 L421.5 1402.0 L424.6 1402.4 L427.9 1404.2 L430.6 1407.3 L432.0 1411.3 L431.8 1415.5 L430.0 1419.2 L427.2 1421.9 L424.1 1423.4 L421.5 1423.7 L420.1 1423.2 L420.2 1422.4 L421.8 1421.9 L424.5 1422.4 L427.5 1424.1 L430.0 1427.0 L431.5 1430.8 L431.4 1434.9 L429.8 1438.6 L427.0 1441.5 L423.8 1443.1 L421.0 1443.4 L419.3 1442.7 L419.3 1441.6 L421.0 1440.9 L424.0 1441.1 L427.5 1442.7 L430.6 1445.8 L432.4 1450.0 L432.4 1454.6 L430.5 1458.9 M402.0 1407.1 L402.1 1405.4 L404.2 1404.2 L407.8 1404.4 L411.7 1406.1 L415.0 1409.4 L416.7 1413.6 L416.6 1418.2 L414.7 1422.3 L411.5 1425.3 L408.0 1426.8 L405.1 1427.0 L403.4 1426.3 L403.5 1425.2 L405.2 1424.6 L408.1 1424.9 L411.4 1426.5 L414.2 1429.5 L415.8 1433.4 L415.8 1437.6 L414.2 1441.5 L411.4 1444.5 L408.1 1446.1 L405.1 1446.5 L403.4 1445.8 L403.3 1444.7 L404.9 1443.9 L407.9 1444.1 L411.5 1445.6 L414.7 1448.6 L416.7 1452.7 L416.8 1457.4 L415.0 1461.7 L411.7 1465.0 L407.7 1466.7 L404.1 1466.9 L401.8 1465.7 M386.5 1417.8 L385.8 1416.0 L387.0 1414.4 L389.9 1413.9 L393.6 1414.8 L397.1 1417.5 L399.6 1421.5 L400.3 1426.1 L399.2 1430.6 L396.7 1434.3 L393.4 1436.5 L390.2 1437.3 L388.0 1436.8 L387.4 1435.7 L388.3 1434.7 L390.7 1434.4 L393.8 1435.4 L396.8 1437.9 L399.0 1441.5 L399.8 1445.8 L398.9 1450.0 L396.7 1453.6 L393.6 1455.9 L390.5 1456.8 L388.2 1456.4 L387.4 1455.3 L388.3 1454.2 L390.7 1453.7 L394.0 1454.6 L397.4 1457.0 L399.9 1460.8 L400.9 1465.4 L400.0 1470.2 L397.4 1474.2 L393.8 1476.7 L390.0 1477.5 L387.1 1476.7 M369.0 1422.4 L371.0 1421.0 L374.5 1420.9 L378.6 1422.5 L382.1 1425.7 L384.1 1430.0 L384.3 1434.7 L382.5 1439.0 L379.5 1442.2 L375.9 1444.0 L372.9 1444.3 L371.1 1443.5 L371.0 1442.4 L372.6 1441.6 L375.4 1441.8 L378.8 1443.3 L381.7 1446.1 L383.6 1450.0 L383.8 1454.3 L382.4 1458.4 L379.7 1461.5 L376.5 1463.4 L373.5 1463.8 L371.6 1463.2 L371.4 1462.1 L372.9 1461.3 L375.7 1461.3 L379.3 1462.7 L382.6 1465.5 L384.7 1469.6 L385.1 1474.2 L383.6 1478.7 L380.5 1482.2 L376.6 1484.1 L373.0 1484.4 L370.7 1483.4 L370.3 1481.7 M483.1 1376.1 L482.7 1374.7 L484.3 1373.7 L487.3 1373.7 L491.0 1375.1 L494.2 1377.8 L496.1 1381.7 L496.3 1385.9 L494.8 1389.9 L491.9 1392.9 L488.4 1394.8 L485.3 1395.3 L483.4 1394.9 L483.0 1394.1 L484.2 1393.5 L486.7 1393.7 L489.7 1395.1 L492.5 1397.6 L494.2 1401.1 L494.5 1405.0 L493.2 1408.8 L490.6 1411.8 L487.3 1413.7 L484.3 1414.4 L482.2 1414.1 L481.7 1413.3 L482.8 1412.6 L485.4 1412.6 L488.6 1413.8 L491.8 1416.4 L493.9 1420.1 L494.3 1424.3 L492.9 1428.5 L489.9 1431.9 L486.0 1433.9 L482.3 1434.5 L479.7 1433.7 M476.0 1378.1 L479.0 1381.4 L480.6 1385.5 L480.2 1389.8 L478.1 1393.6 L474.8 1396.4 L471.3 1397.8 L468.5 1398.0 L467.0 1397.3 L467.2 1396.5 L468.9 1396.1 L471.7 1396.7 L474.7 1398.5 L477.2 1401.4 L478.5 1405.0 L478.2 1408.9 L476.5 1412.4 L473.7 1415.0 L470.7 1416.5 L468.1 1416.9 L466.6 1416.6 L466.7 1415.9 L468.2 1415.6 L470.8 1416.1 L473.8 1417.8 L476.4 1420.6 L477.8 1424.3 L477.7 1428.3 L476.0 1432.0 L473.0 1434.9 L469.6 1436.5 L466.5 1436.8 L464.7 1436.1 L464.7 1435.0 L466.4 1434.3 L469.6 1434.5 L473.3 1436.1 M456.1 1386.9 L459.8 1389.0 L462.6 1392.5 L463.9 1396.8 L463.4 1401.3 L461.2 1405.2 L457.9 1407.8 L454.6 1409.1 L451.9 1409.1 L450.6 1408.2 L451.0 1407.3 L452.8 1406.9 L455.6 1407.5 L458.6 1409.5 L461.0 1412.6 L462.1 1416.4 L461.8 1420.5 L459.9 1424.1 L457.2 1426.7 L454.1 1428.0 L451.7 1428.2 L450.3 1427.7 L450.6 1426.8 L452.3 1426.4 L455.0 1427.0 L458.0 1428.8 L460.6 1431.9 L461.9 1435.9 L461.6 1440.1 L459.7 1444.0 L456.6 1446.8 L453.1 1448.2 L450.2 1448.2 L448.6 1447.3 L448.7 1445.9 L450.7 1445.1 L454.1 1445.3 M433.0 1401.6 L434.6 1400.3 L437.7 1400.1 L441.4 1401.4 L444.8 1404.3 L447.0 1408.2 L447.4 1412.7 L445.9 1416.9 L443.1 1420.2 L439.6 1422.1 L436.5 1422.7 L434.5 1422.3 L434.0 1421.3 L435.3 1420.6 L437.8 1420.7 L440.9 1422.0 L443.7 1424.6 L445.7 1428.1 L446.1 1432.2 L444.9 1436.2 L442.4 1439.4 L439.3 1441.4 L436.3 1442.1 L434.2 1441.8 L433.6 1440.9 L434.7 1440.1 L437.2 1440.1 L440.5 1441.2 L443.7 1443.8 L445.9 1447.5 L446.5 1451.9 L445.3 1456.2 L442.4 1459.8 L438.7 1461.9 L435.0 1462.6 L432.5 1461.9 L431.7 1460.4 M430.3 1415.8 L427.0 1419.4 L423.1 1421.3 L419.6 1421.6 L417.4 1420.6 L417.1 1419.1 L418.6 1418.0 L421.5 1417.9 L425.0 1419.3 L428.1 1422.1 L430.0 1426.1 L430.3 1430.6 L428.9 1434.8 L426.3 1438.0 L423.1 1439.9 L420.2 1440.5 L418.3 1440.0 L417.9 1438.9 L419.1 1438.1 L421.6 1438.2 L424.7 1439.5 L427.6 1442.2 L429.5 1446.0 L429.9 1450.3 L428.7 1454.5 L426.1 1457.9 L422.8 1459.9 L419.7 1460.5 L417.5 1459.9 L417.0 1458.6 L418.3 1457.4 L421.1 1457.1 L424.7 1458.3 L428.2 1461.1 L430.5 1465.3 L431.1 1470.2 L429.7 1475.0 M406.3 1427.2 L402.8 1427.4 L400.6 1426.5 L400.4 1425.2 L402.1 1424.2 L405.2 1424.3 L408.8 1425.8 L412.0 1428.7 L413.9 1432.6 L414.1 1436.9 L412.6 1440.9 L409.9 1444.0 L406.6 1445.9 L403.7 1446.4 L401.9 1446.0 L401.7 1445.2 L403.0 1444.6 L405.6 1444.9 L408.7 1446.3 L411.6 1449.0 L413.4 1452.6 L413.7 1456.7 L412.4 1460.7 L409.9 1463.8 L406.7 1465.7 L403.7 1466.4 L401.7 1466.0 L401.3 1465.0 L402.6 1464.2 L405.4 1464.2 L408.9 1465.5 L412.2 1468.2 L414.5 1472.2 L415.0 1476.7 L413.5 1481.2 L410.4 1484.7 L406.5 1486.7 M383.7 1428.2 L386.3 1427.2 L390.1 1427.7 L394.0 1429.9 L397.0 1433.6 L398.4 1438.1 L397.8 1442.8 L395.5 1446.8 L392.2 1449.5 L388.8 1450.7 L386.1 1450.6 L384.9 1449.7 L385.4 1448.6 L387.5 1448.2 L390.6 1448.8 L393.8 1450.9 L396.4 1454.1 L397.7 1458.2 L397.3 1462.5 L395.4 1466.3 L392.4 1469.0 L389.2 1470.3 L386.6 1470.4 L385.3 1469.6 L385.7 1468.6 L387.7 1468.0 L390.8 1468.6 L394.2 1470.5 L397.1 1473.8 L398.7 1478.1 L398.4 1482.8 L396.2 1486.9 L392.8 1489.9 L389.0 1491.3 L385.8 1491.1 L384.1 1489.8 L384.5 1488.1 M497.8 1381.6 L497.4 1379.7 L499.1 1378.2 L502.3 1377.9 L506.0 1379.3 L509.3 1382.4 L511.2 1386.7 L511.3 1391.5 L509.6 1395.8 L506.6 1399.1 L503.0 1401.0 L499.9 1401.3 L497.9 1400.5 L497.5 1399.2 L498.8 1398.2 L501.4 1398.2 L504.5 1399.6 L507.3 1402.4 L509.1 1406.3 L509.3 1410.6 L507.9 1414.8 L505.1 1418.1 L501.8 1420.0 L498.7 1420.5 L496.6 1419.8 L496.1 1418.5 L497.3 1417.4 L499.9 1417.2 L503.3 1418.4 L506.5 1421.2 L508.6 1425.3 L509.0 1430.1 L507.4 1434.7 L504.3 1438.4 L500.3 1440.4 L496.5 1440.7 L493.9 1439.5 M480.8 1388.5 L482.1 1387.0 L485.1 1386.7 L488.8 1387.8 L492.3 1390.5 L494.5 1394.5 L495.0 1399.1 L493.6 1403.4 L490.8 1406.8 L487.3 1408.9 L484.0 1409.5 L481.8 1409.0 L481.2 1408.0 L482.2 1407.1 L484.6 1407.1 L487.7 1408.2 L490.6 1410.7 L492.5 1414.3 L493.0 1418.5 L491.9 1422.5 L489.4 1425.8 L486.2 1428.0 L483.1 1428.8 L480.9 1428.4 L480.1 1427.4 L481.0 1426.5 L483.4 1426.3 L486.7 1427.3 L489.9 1429.8 L492.1 1433.5 L492.8 1438.0 L491.7 1442.4 L488.9 1446.1 L485.1 1448.4 L481.3 1449.1 L478.5 1448.4 L477.6 1446.8 M464.2 1397.3 L466.1 1396.1 L469.4 1396.1 L473.2 1397.7 L476.5 1400.8 L478.3 1405.0 L478.3 1409.6 L476.5 1413.8 L473.4 1416.9 L469.9 1418.6 L466.8 1418.9 L465.0 1418.3 L464.8 1417.2 L466.3 1416.5 L469.0 1416.7 L472.1 1418.2 L474.9 1421.1 L476.6 1424.9 L476.7 1429.1 L475.2 1433.0 L472.4 1436.1 L469.2 1437.9 L466.2 1438.4 L464.3 1437.8 L464.0 1436.8 L465.3 1436.0 L468.1 1436.1 L471.4 1437.5 L474.5 1440.3 L476.4 1444.3 L476.7 1448.8 L475.1 1453.2 L472.0 1456.5 L468.1 1458.5 L464.5 1458.8 L462.1 1457.8 L461.7 1456.1 M452.8 1402.0 L456.7 1403.6 L460.0 1406.8 L461.9 1411.3 L462.0 1416.2 L460.2 1420.6 L457.1 1423.9 L453.5 1425.6 L450.5 1425.8 L448.6 1425.0 L448.5 1423.7 L450.0 1422.8 L452.7 1423.0 L455.8 1424.5 L458.6 1427.5 L460.2 1431.4 L460.3 1435.8 L458.9 1439.8 L456.2 1443.0 L453.1 1444.8 L450.2 1445.2 L448.5 1444.6 L448.2 1443.5 L449.5 1442.7 L452.1 1442.7 L455.3 1444.2 L458.2 1447.0 L460.0 1451.0 L460.3 1455.6 L458.8 1460.0 L455.9 1463.4 L452.3 1465.4 L448.9 1465.7 L446.7 1464.7 L446.3 1463.1 L447.9 1461.6 L451.0 1461.3 M438.1 1425.1 L434.2 1425.5 L431.6 1424.4 L430.9 1422.7 L432.2 1421.1 L435.1 1420.7 L438.8 1421.8 L442.2 1424.6 L444.5 1428.7 L445.1 1433.4 L443.9 1437.9 L441.2 1441.5 L437.8 1443.7 L434.6 1444.4 L432.4 1443.8 L431.8 1442.7 L432.8 1441.6 L435.2 1441.4 L438.4 1442.5 L441.5 1445.0 L443.6 1448.8 L444.3 1453.3 L443.3 1457.7 L440.8 1461.3 L437.5 1463.6 L434.2 1464.4 L431.8 1463.9 L431.0 1462.5 L431.9 1461.2 L434.5 1460.7 L438.1 1461.6 L441.7 1464.2 L444.3 1468.3 L445.2 1473.3 L444.0 1478.2 L441.1 1482.4 L437.0 1484.9 M426.0 1422.1 L428.6 1426.4 L429.3 1431.4 L428.1 1436.2 L425.2 1440.0 L421.6 1442.3 L418.2 1442.9 L415.8 1442.3 L415.2 1441.0 L416.3 1439.8 L418.8 1439.6 L422.0 1440.7 L425.1 1443.3 L427.3 1447.0 L427.9 1451.4 L426.9 1455.7 L424.6 1459.3 L421.5 1461.5 L418.5 1462.4 L416.3 1462.1 L415.6 1461.1 L416.5 1460.1 L418.8 1459.9 L421.9 1460.9 L425.0 1463.3 L427.3 1467.0 L428.1 1471.5 L427.2 1476.0 L424.7 1479.8 L421.3 1482.2 L417.9 1483.1 L415.4 1482.5 L414.4 1481.1 L415.4 1479.6 L418.1 1478.9 L421.8 1479.7 L425.7 1482.3 M398.4 1439.5 L398.1 1438.4 L399.8 1437.5 L402.8 1437.6 L406.3 1439.1 L409.5 1442.0 L411.4 1445.9 L411.6 1450.1 L410.2 1454.1 L407.5 1457.1 L404.4 1459.0 L401.5 1459.7 L399.8 1459.4 L399.6 1458.7 L400.8 1458.3 L403.3 1458.7 L406.3 1460.2 L409.0 1462.8 L410.8 1466.3 L411.1 1470.3 L409.9 1474.0 L407.5 1477.1 L404.5 1479.0 L401.8 1479.8 L399.9 1479.6 L399.5 1478.9 L400.7 1478.4 L403.3 1478.6 L406.5 1480.0 L409.6 1482.6 L411.6 1486.3 L412.1 1490.6 L410.8 1494.7 L408.0 1498.1 L404.4 1500.2 L401.0 1500.8 L398.7 1500.2 M526.6 1387.0 L524.0 1390.7 L520.3 1393.1 L516.7 1394.1 L514.0 1393.8 L512.9 1392.9 L513.6 1391.9 L515.7 1391.6 L518.7 1392.5 L521.7 1394.7 L523.9 1398.0 L524.7 1401.9 L523.9 1405.9 L521.8 1409.2 L518.8 1411.6 L515.8 1412.7 L513.4 1412.8 L512.4 1412.2 L512.8 1411.6 L514.7 1411.5 L517.3 1412.3 L520.1 1414.4 L522.2 1417.5 L523.1 1421.3 L522.5 1425.3 L520.4 1428.7 L517.3 1431.2 L514.1 1432.4 L511.5 1432.4 L510.2 1431.6 L510.7 1430.7 L512.7 1430.2 L515.8 1430.9 L519.1 1433.0 L521.8 1436.3 L523.0 1440.6 L522.2 1445.1 M509.6 1390.4 L510.9 1395.3 L510.1 1400.2 L507.5 1404.4 L503.8 1407.1 L500.1 1408.2 L497.1 1407.8 L495.8 1406.6 L496.3 1405.3 L498.4 1404.6 L501.5 1405.2 L504.7 1407.3 L507.2 1410.7 L508.2 1415.0 L507.7 1419.3 L505.5 1423.1 L502.5 1425.7 L499.2 1427.0 L496.6 1427.0 L495.3 1426.1 L495.6 1425.0 L497.4 1424.5 L500.3 1425.0 L503.4 1427.0 L505.9 1430.3 L507.2 1434.5 L506.7 1439.0 L504.6 1443.0 L501.3 1445.8 L497.7 1447.1 L494.7 1447.0 L493.1 1445.8 L493.3 1444.2 L495.5 1443.2 L498.9 1443.5 L502.7 1445.4 L505.9 1449.1 M482.6 1399.2 L486.1 1400.0 L489.6 1402.5 L492.1 1406.3 L493.0 1410.8 L492.0 1415.3 L489.5 1419.0 L486.2 1421.4 L483.0 1422.3 L480.6 1422.1 L479.6 1421.1 L480.3 1420.2 L482.4 1420.0 L485.2 1420.9 L488.1 1423.1 L490.2 1426.5 L491.0 1430.6 L490.2 1434.7 L488.1 1438.1 L485.2 1440.5 L482.2 1441.7 L479.9 1441.6 L478.9 1440.9 L479.4 1440.0 L481.4 1439.7 L484.2 1440.5 L487.2 1442.7 L489.5 1446.1 L490.5 1450.3 L489.8 1454.7 L487.6 1458.5 L484.3 1461.1 L480.7 1462.2 L478.0 1461.9 L476.7 1460.6 L477.3 1459.2 L479.6 1458.4 M476.9 1413.2 L476.5 1418.1 L474.3 1422.3 L471.0 1425.3 L467.4 1426.7 L464.5 1426.6 L463.0 1425.6 L463.2 1424.4 L465.0 1423.7 L467.9 1424.2 L471.0 1426.0 L473.5 1429.2 L474.8 1433.3 L474.5 1437.6 L472.8 1441.4 L470.0 1444.3 L466.9 1445.7 L464.4 1446.0 L463.0 1445.4 L463.1 1444.5 L464.6 1444.0 L467.2 1444.4 L470.2 1446.2 L472.7 1449.2 L474.1 1453.2 L473.9 1457.6 L472.2 1461.5 L469.3 1464.5 L466.0 1466.1 L463.1 1466.3 L461.5 1465.4 L461.5 1464.1 L463.2 1463.2 L466.2 1463.4 L469.8 1465.1 L472.9 1468.4 L474.7 1472.9 M447.0 1428.3 L445.7 1426.9 L446.3 1425.3 L448.6 1424.6 L452.0 1425.2 L455.4 1427.4 L458.0 1431.1 L459.1 1435.5 L458.5 1440.1 L456.3 1443.9 L453.2 1446.6 L450.1 1447.8 L447.6 1447.7 L446.5 1446.8 L446.9 1445.9 L448.8 1445.5 L451.6 1446.2 L454.5 1448.3 L456.8 1451.6 L457.9 1455.7 L457.4 1460.0 L455.5 1463.7 L452.7 1466.4 L449.6 1467.7 L447.1 1467.8 L445.8 1467.0 L446.2 1465.9 L448.0 1465.3 L451.0 1465.8 L454.3 1467.8 L457.0 1471.3 L458.3 1475.7 L457.9 1480.4 L455.7 1484.6 L452.3 1487.6 L448.6 1488.9 L445.5 1488.6 M439.9 1428.6 L442.6 1432.8 L443.5 1437.8 L442.4 1442.7 L439.7 1446.6 L436.1 1449.0 L432.6 1449.8 L430.2 1449.3 L429.4 1448.0 L430.3 1446.9 L432.7 1446.5 L435.8 1447.5 L438.9 1450.0 L441.2 1453.7 L441.9 1458.1 L441.1 1462.4 L438.8 1466.1 L435.8 1468.5 L432.8 1469.5 L430.5 1469.2 L429.7 1468.3 L430.4 1467.3 L432.6 1467.0 L435.6 1467.9 L438.7 1470.3 L441.0 1473.9 L441.9 1478.3 L441.2 1482.9 L438.9 1486.8 L435.5 1489.4 L432.1 1490.4 L429.4 1490.0 L428.3 1488.6 L429.1 1487.1 L431.6 1486.3 L435.3 1487.0 L439.1 1489.4 M412.0 1443.9 L413.5 1442.8 L416.4 1442.7 L420.0 1444.0 L423.3 1446.8 L425.4 1450.8 L425.9 1455.2 L424.6 1459.4 L422.0 1462.7 L418.7 1464.8 L415.8 1465.5 L413.8 1465.2 L413.4 1464.5 L414.5 1463.9 L416.9 1464.0 L419.9 1465.4 L422.7 1468.0 L424.5 1471.5 L425.0 1475.6 L424.0 1479.5 L421.7 1482.8 L418.7 1484.9 L415.9 1485.8 L413.9 1485.6 L413.4 1484.9 L414.4 1484.3 L416.7 1484.3 L419.9 1485.5 L422.9 1488.0 L425.1 1491.8 L425.8 1496.1 L424.7 1500.4 L422.1 1504.0 L418.6 1506.3 L415.1 1507.1 L412.7 1506.5 L411.9 1505.3"/>
<path stroke="#2a2a2a" stroke-width="0.9" fill="none" d="M311.5 1305.5L536.0 1382.0M314.0 1360.0L531.0 1440.0M296.6 1311.4L519.1 1392.1M299.7 1365.4L514.9 1450.7M281.6 1317.4L502.3 1402.3M285.4 1370.9L498.7 1461.4M266.7 1323.3L485.4 1412.4M271.1 1376.3L482.6 1472.1M251.8 1329.2L468.6 1422.6M256.9 1381.7L466.4 1482.9M236.9 1335.1L451.7 1432.7M242.6 1387.1L450.3 1493.6M221.9 1341.1L434.9 1442.9M228.3 1392.6L434.1 1504.3M207.0 1347.0L418.0 1453.0M214.0 1398.0L418.0 1515.0M311.5 1305.5L207.0 1347.0M314.0 1360.0L214.0 1398.0M326.5 1310.6L221.1 1354.1M328.5 1365.3L227.6 1405.8M341.4 1315.7L235.1 1361.1M342.9 1370.7L241.2 1413.6M356.4 1320.8L249.2 1368.2M357.4 1376.0L254.8 1421.4M371.4 1325.9L263.3 1375.3M371.9 1381.3L268.4 1429.2M386.3 1331.0L277.3 1382.3M386.3 1386.7L282.0 1437.0M401.3 1336.1L291.4 1389.4M400.8 1392.0L295.6 1444.8M416.3 1341.2L305.5 1396.5M415.3 1397.3L309.2 1452.6M431.2 1346.3L319.5 1403.5M429.7 1402.7L322.8 1460.4M446.2 1351.4L333.6 1410.6M444.2 1408.0L336.4 1468.2M461.2 1356.5L347.7 1417.7M458.7 1413.3L350.0 1476.0M476.1 1361.6L361.7 1424.7M473.1 1418.7L363.6 1483.8M491.1 1366.7L375.8 1431.8M487.6 1424.0L377.2 1491.6M506.1 1371.8L389.9 1438.9M502.1 1429.3L390.8 1499.4M521.0 1376.9L403.9 1445.9M516.5 1434.7L404.4 1507.2M536.0 1382.0L418.0 1453.0M531.0 1440.0L418.0 1515.0"/>
<polygon points="314.0,1360.0 531.0,1440.0 418.0,1515.0 214.0,1398.0" fill="none" stroke="#1e1e1e" stroke-width="2.6" stroke-linejoin="round"/>
<polyline points="207.0,1347.0 311.5,1305.5 536.0,1382.0" fill="none" stroke="#1e1e1e" stroke-width="2.4" stroke-linejoin="round"/>
<polyline points="536.0,1382.0 418.0,1453.0 207.0,1347.0" fill="none" stroke="#1e1e1e" stroke-width="1.7" stroke-linejoin="round"/>
<polygon points="220.6,1252.6 360.0,1215.0 507.0,1266.0 375.0,1307.6" fill="url(#gc1)"/>
<polygon points="220.6,1252.6 375.0,1307.6 387.0,1324.7 222.0,1268.0" fill="#fffefd"/>
<polygon points="375.0,1307.6 507.0,1266.0 505.6,1280.0 387.0,1324.7" fill="#f5f2ed"/>
<polygon points="214.0,1182.6 341.0,1145.0 506.0,1210.0 378.9,1247.9" fill="url(#gco)"/>
<g transform="rotate(21.60 214.0 1182.6)"><polygon points="214.0,1182.6 391.4,1182.6 398.4,1200.1 219.7,1196.9" fill="#744d3d" filter="url(#tx5)" /></g>
<g transform="rotate(-16.60 378.9 1247.9)"><polygon points="378.9,1247.9 511.5,1247.9 504.2,1265.5 373.6,1266.0" fill="#7a5342" filter="url(#tx5)" /></g>
<g transform="rotate(24.17 232.0 1113.0)"><polygon points="232.0,1113.0 403.0,1113.0 411.7,1128.8 240.0,1125.9" fill="#e3dfda" filter="url(#tx6)" /></g>
<g transform="rotate(-12.80 388.0 1183.0)"><polygon points="388.0,1183.0 523.4,1183.0 517.4,1200.1 385.5,1200.9" fill="#e5e1dc" filter="url(#tx6)" /></g>
<polygon points="232.0,1113.0 328.0,1093.5 520.0,1153.0 388.0,1183.0" fill="#e6e3de" filter="url(#tx4)"/>
<polyline points="232.0,1113.0 388.0,1183.0 520.0,1153.0" fill="none" stroke="#efece8" stroke-width="1.2"/>
<polygon points="262.9,1047.5 395.0,1122.0 398.0,1129.0 264.6,1053.0" fill="#f6f4f0"/>
<polygon points="395.0,1122.0 536.0,1107.6 537.0,1114.0 398.0,1129.0" fill="#f3f1ed"/>
<polygon points="262.9,1047.5 450.0,1035.0 536.0,1107.6 395.0,1122.0" fill="url(#gw1)"/>
<polyline points="262.9,1047.5 395.0,1122.0 536.0,1107.6" fill="none" stroke="#ffffff" stroke-width="1.2"/>
<polygon points="333.0,986.0 540.0,1063.0 535.0,1095.0 513.4,1086.5 513.4,1075.5 498.9,1069.8 498.9,1080.8 476.3,1071.9 476.3,1060.9 461.9,1055.2 461.9,1066.2 439.2,1057.3 439.2,1046.3 424.8,1040.7 424.8,1051.7 402.1,1042.8 402.1,1031.8 387.7,1026.1 387.7,1037.1 365.1,1028.2 365.1,1017.2 350.6,1011.5 350.6,1022.5 329.0,1014.0" fill="url(#glxf)"/>
<polygon points="498.9,1069.8 513.4,1075.5 513.4,1078.5 498.9,1072.8" fill="#ece4c9"/>
<line x1="513.4" y1="1075.5" x2="513.4" y2="1086.5" stroke="#f0e9d2" stroke-width="1.5"/>
<polygon points="461.9,1055.2 476.3,1060.9 476.3,1063.9 461.9,1058.2" fill="#ece4c9"/>
<line x1="476.3" y1="1060.9" x2="476.3" y2="1071.9" stroke="#f0e9d2" stroke-width="1.5"/>
<polygon points="424.8,1040.7 439.2,1046.3 439.2,1049.3 424.8,1043.7" fill="#ece4c9"/>
<line x1="439.2" y1="1046.3" x2="439.2" y2="1057.3" stroke="#f0e9d2" stroke-width="1.5"/>
<polygon points="387.7,1026.1 402.1,1031.8 402.1,1034.8 387.7,1029.1" fill="#ece4c9"/>
<line x1="402.1" y1="1031.8" x2="402.1" y2="1042.8" stroke="#f0e9d2" stroke-width="1.5"/>
<polygon points="350.6,1011.5 365.1,1017.2 365.1,1020.2 350.6,1014.5" fill="#ece4c9"/>
<line x1="365.1" y1="1017.2" x2="365.1" y2="1028.2" stroke="#f0e9d2" stroke-width="1.5"/>
<polygon points="540.0,1063.0 611.0,1000.0 603.0,1024.0 535.0,1095.0" fill="#f2ecd8"/>
<polygon points="599.6,1010.1 603.6,1007.1 596.1,1032.4 592.1,1035.4" fill="#fbf8ef"/>
<line x1="598.6" y1="1011.1" x2="591.1" y2="1036.4" stroke="#e3d9bd" stroke-width="1.3"/>
<polygon points="584.0,1023.9 588.0,1020.9 581.2,1048.0 577.2,1051.0" fill="#fbf8ef"/>
<line x1="583.0" y1="1024.9" x2="576.2" y2="1052.0" stroke="#e3d9bd" stroke-width="1.3"/>
<polygon points="568.4,1037.8 572.4,1034.8 566.2,1063.6 562.2,1066.6" fill="#fbf8ef"/>
<line x1="567.4" y1="1038.8" x2="561.2" y2="1067.6" stroke="#e3d9bd" stroke-width="1.3"/>
<polygon points="552.8,1051.7 556.8,1048.7 551.2,1079.2 547.2,1082.2" fill="#fbf8ef"/>
<line x1="551.8" y1="1052.7" x2="546.2" y2="1083.2" stroke="#e3d9bd" stroke-width="1.3"/>
<polygon points="333.0,986.0 404.0,923.0 611.0,1000.0 540.0,1063.0" fill="url(#glx)"/>
<polyline points="333.0,986.0 540.0,1063.0 611.0,1000.0" fill="none" stroke="#fffef9" stroke-width="1.5"/>
<ellipse cx="444" cy="944" rx="7" ry="4.3" fill="#eadcab"/><ellipse cx="444.8" cy="944.8" rx="5.6" ry="3.2" fill="#f5edcf"/>
<ellipse cx="425" cy="965" rx="7" ry="4.3" fill="#eadcab"/><ellipse cx="425.8" cy="965.8" rx="5.6" ry="3.2" fill="#f5edcf"/>
<ellipse cx="404" cy="986" rx="7" ry="4.3" fill="#eadcab"/><ellipse cx="404.8" cy="986.8" rx="5.6" ry="3.2" fill="#f5edcf"/>
<ellipse cx="476" cy="984" rx="7" ry="4.3" fill="#eadcab"/><ellipse cx="476.8" cy="984.8" rx="5.6" ry="3.2" fill="#f5edcf"/>
<ellipse cx="455" cy="1006" rx="7" ry="4.3" fill="#eadcab"/><ellipse cx="455.8" cy="1006.8" rx="5.6" ry="3.2" fill="#f5edcf"/>
<ellipse cx="547" cy="986" rx="7" ry="4.3" fill="#eadcab"/><ellipse cx="547.8" cy="986.8" rx="5.6" ry="3.2" fill="#f5edcf"/>
<ellipse cx="527" cy="1005" rx="7" ry="4.3" fill="#eadcab"/><ellipse cx="527.8" cy="1005.8" rx="5.6" ry="3.2" fill="#f5edcf"/>
<ellipse cx="505" cy="1026" rx="7" ry="4.3" fill="#eadcab"/><ellipse cx="505.8" cy="1026.8" rx="5.6" ry="3.2" fill="#f5edcf"/>
<ellipse cx="497" cy="962" rx="7" ry="4.3" fill="#eadcab"/><ellipse cx="497.8" cy="962.8" rx="5.6" ry="3.2" fill="#f5edcf"/>
<ellipse cx="470" cy="943" rx="7" ry="4.3" fill="#eadcab"/><ellipse cx="470.8" cy="943.8" rx="5.6" ry="3.2" fill="#f5edcf"/>
<polygon points="375.2,849.1 574.0,900.0 658.2,1010.0 459.0,959.2" fill="#e6e5e2" filter="url(#tx3)"/>
<polyline points="375.2,849.1 459.0,959.2 658.2,1010.0" fill="none" stroke="#f7f6f3" stroke-width="1.6"/>
<polygon points="703.6,682.7 706.5,683.5 752.0,919.0 746.0,922.0 701.4,689.5" fill="#fefdfb"/>
<polygon points="520.5,728.0 703.6,682.7 701.4,689.5 517.1,734.8" fill="#fbfaf8"/>
<line x1="520.5" y1="729" x2="703.6" y2="683.7" stroke="#e1e3e7" stroke-width="2.4"/>
<polygon points="517.1,734.8 701.4,689.5 746.0,922.0 567.0,956.0" fill="#e9e0d9"/>
<line x1="519.6" y1="743.6" x2="703.6" y2="698.9" stroke="#dfd2c7" stroke-width="3"/>
<line x1="519.6" y1="745.4" x2="703.6" y2="700.7" stroke="#b59c89" stroke-width="1.6"/>
<line x1="519.6" y1="747.1" x2="703.6" y2="702.4" stroke="#fbf8f4" stroke-width="2"/>
<line x1="523.2" y1="759.8" x2="706.9" y2="715.9" stroke="#dfd2c7" stroke-width="3"/>
<line x1="523.2" y1="761.6" x2="706.9" y2="717.7" stroke="#b59c89" stroke-width="1.6"/>
<line x1="523.2" y1="763.3" x2="706.9" y2="719.4" stroke="#fbf8f4" stroke-width="2"/>
<line x1="526.9" y1="775.9" x2="710.1" y2="732.8" stroke="#dfd2c7" stroke-width="3"/>
<line x1="526.9" y1="777.7" x2="710.1" y2="734.6" stroke="#b59c89" stroke-width="1.6"/>
<line x1="526.9" y1="779.4" x2="710.1" y2="736.3" stroke="#fbf8f4" stroke-width="2"/>
<line x1="530.5" y1="792.1" x2="713.4" y2="749.8" stroke="#dfd2c7" stroke-width="3"/>
<line x1="530.5" y1="793.9" x2="713.4" y2="751.6" stroke="#b59c89" stroke-width="1.6"/>
<line x1="530.5" y1="795.6" x2="713.4" y2="753.3" stroke="#fbf8f4" stroke-width="2"/>
<line x1="534.2" y1="808.3" x2="716.6" y2="766.7" stroke="#dfd2c7" stroke-width="3"/>
<line x1="534.2" y1="810.1" x2="716.6" y2="768.5" stroke="#b59c89" stroke-width="1.6"/>
<line x1="534.2" y1="811.8" x2="716.6" y2="770.2" stroke="#fbf8f4" stroke-width="2"/>
<line x1="537.8" y1="824.4" x2="719.9" y2="783.7" stroke="#dfd2c7" stroke-width="3"/>
<line x1="537.8" y1="826.2" x2="719.9" y2="785.5" stroke="#b59c89" stroke-width="1.6"/>
<line x1="537.8" y1="827.9" x2="719.9" y2="787.2" stroke="#fbf8f4" stroke-width="2"/>
<line x1="541.5" y1="840.6" x2="723.1" y2="800.7" stroke="#dfd2c7" stroke-width="3"/>
<line x1="541.5" y1="842.4" x2="723.1" y2="802.5" stroke="#b59c89" stroke-width="1.6"/>
<line x1="541.5" y1="844.1" x2="723.1" y2="804.2" stroke="#fbf8f4" stroke-width="2"/>
<line x1="545.1" y1="856.8" x2="726.4" y2="817.6" stroke="#dfd2c7" stroke-width="3"/>
<line x1="545.1" y1="858.6" x2="726.4" y2="819.4" stroke="#b59c89" stroke-width="1.6"/>
<line x1="545.1" y1="860.3" x2="726.4" y2="821.1" stroke="#fbf8f4" stroke-width="2"/>
<line x1="548.8" y1="873.0" x2="729.7" y2="834.6" stroke="#dfd2c7" stroke-width="3"/>
<line x1="548.8" y1="874.8" x2="729.7" y2="836.4" stroke="#b59c89" stroke-width="1.6"/>
<line x1="548.8" y1="876.5" x2="729.7" y2="838.1" stroke="#fbf8f4" stroke-width="2"/>
<line x1="552.4" y1="889.1" x2="732.9" y2="851.5" stroke="#dfd2c7" stroke-width="3"/>
<line x1="552.4" y1="890.9" x2="732.9" y2="853.3" stroke="#b59c89" stroke-width="1.6"/>
<line x1="552.4" y1="892.6" x2="732.9" y2="855.0" stroke="#fbf8f4" stroke-width="2"/>
<line x1="556.1" y1="905.3" x2="736.2" y2="868.5" stroke="#dfd2c7" stroke-width="3"/>
<line x1="556.1" y1="907.1" x2="736.2" y2="870.3" stroke="#b59c89" stroke-width="1.6"/>
<line x1="556.1" y1="908.8" x2="736.2" y2="872.0" stroke="#fbf8f4" stroke-width="2"/>
<line x1="559.7" y1="921.5" x2="739.4" y2="885.5" stroke="#dfd2c7" stroke-width="3"/>
<line x1="559.7" y1="923.3" x2="739.4" y2="887.3" stroke="#b59c89" stroke-width="1.6"/>
<line x1="559.7" y1="925.0" x2="739.4" y2="889.0" stroke="#fbf8f4" stroke-width="2"/>
<line x1="563.4" y1="937.6" x2="742.7" y2="902.4" stroke="#dfd2c7" stroke-width="3"/>
<line x1="563.4" y1="939.4" x2="742.7" y2="904.2" stroke="#b59c89" stroke-width="1.6"/>
<line x1="563.4" y1="941.1" x2="742.7" y2="905.9" stroke="#fbf8f4" stroke-width="2"/><line x1="234.4" y1="864.6" x2="416" y2="864.6" stroke="#968d85" stroke-width="1.4"/><circle cx="416" cy="864.6" r="2.6" fill="#8a8179"/><line x1="194.4" y1="957" x2="360" y2="957" stroke="#968d85" stroke-width="1.4"/><circle cx="360" cy="957" r="2.6" fill="#8a8179"/><line x1="702.3" y1="944" x2="917.7" y2="944" stroke="#968d85" stroke-width="1.4"/><circle cx="702.3" cy="944" r="2.6" fill="#8a8179"/><line x1="139.7" y1="1110" x2="246" y2="1110" stroke="#968d85" stroke-width="1.4"/><circle cx="246" cy="1110" r="2.6" fill="#8a8179"/><line x1="502.3" y1="1115.7" x2="717.7" y2="1115.7" stroke="#968d85" stroke-width="1.4"/><circle cx="502.3" cy="1115.7" r="2.6" fill="#8a8179"/><line x1="83" y1="1231.2" x2="291" y2="1231.2" stroke="#968d85" stroke-width="1.4"/><circle cx="291" cy="1231.2" r="2.6" fill="#8a8179"/><line x1="83" y1="1289.8" x2="297.7" y2="1289.8" stroke="#968d85" stroke-width="1.4"/><circle cx="297.7" cy="1289.8" r="2.6" fill="#8a8179"/><line x1="495" y1="1457.6" x2="757" y2="1457.6" stroke="#968d85" stroke-width="1.4"/><circle cx="495" cy="1457.6" r="2.6" fill="#8a8179"/><line x1="129.4" y1="1505.2" x2="262.8" y2="1505.2" stroke="#968d85" stroke-width="1.4"/><circle cx="262.8" cy="1505.2" r="2.6" fill="#8a8179"/><line x1="496" y1="1637" x2="639.6" y2="1637" stroke="#968d85" stroke-width="1.4"/><circle cx="496" cy="1637" r="2.6" fill="#8a8179"/><line x1="94.4" y1="1660.4" x2="245" y2="1660.4" stroke="#968d85" stroke-width="1.4"/><circle cx="245" cy="1660.4" r="2.6" fill="#8a8179"/><line x1="83" y1="1764.6" x2="248.5" y2="1764.6" stroke="#968d85" stroke-width="1.4"/><circle cx="248.5" cy="1764.6" r="2.6" fill="#8a8179"/><line x1="429.4" y1="1823.3" x2="594.3" y2="1823.3" stroke="#968d85" stroke-width="1.4"/><circle cx="429.4" cy="1823.3" r="2.6" fill="#8a8179"/></svg>
<div class="lb" style="left:234.5px;top:836.3px">柔弹丝绵</div>
<div class="lb red" style="left:197.7px;top:928.3px"><span style="letter-spacing:1.3px">1CM</span>天然乳胶</div>
<div class="lb red" style="left:779.0px;top:917.7px">透气散热亚麻</div>
<div class="lb" style="left:140.3px;top:1079.0px">透气无纺布</div>
<div class="lb" style="left:608.5px;top:1091.3px">高弹力海绵</div>
<div class="lb red" style="left:83.0px;top:1202.9px">3E环保椰棕</div>
<div class="lb" style="left:83.0px;top:1260.7px">健康环保棉</div>
<div class="lb red" style="left:596.8px;top:1431.1px">邦尼尔护脊弹簧</div>
<div class="lb" style="left:126.9px;top:1476.3px">健康环保棉</div>
<div class="lb" style="left:525.5px;top:1612.3px">透气无纺布</div>
<div class="lb" style="left:93.2px;top:1632.3px">高弹力海绵</div>
<div class="lb" style="left:83.0px;top:1737.7px">柔弹丝绵</div>
<div class="lb" style="left:460.5px;top:1797.2px">品质针织面料</div>
</body></html>
